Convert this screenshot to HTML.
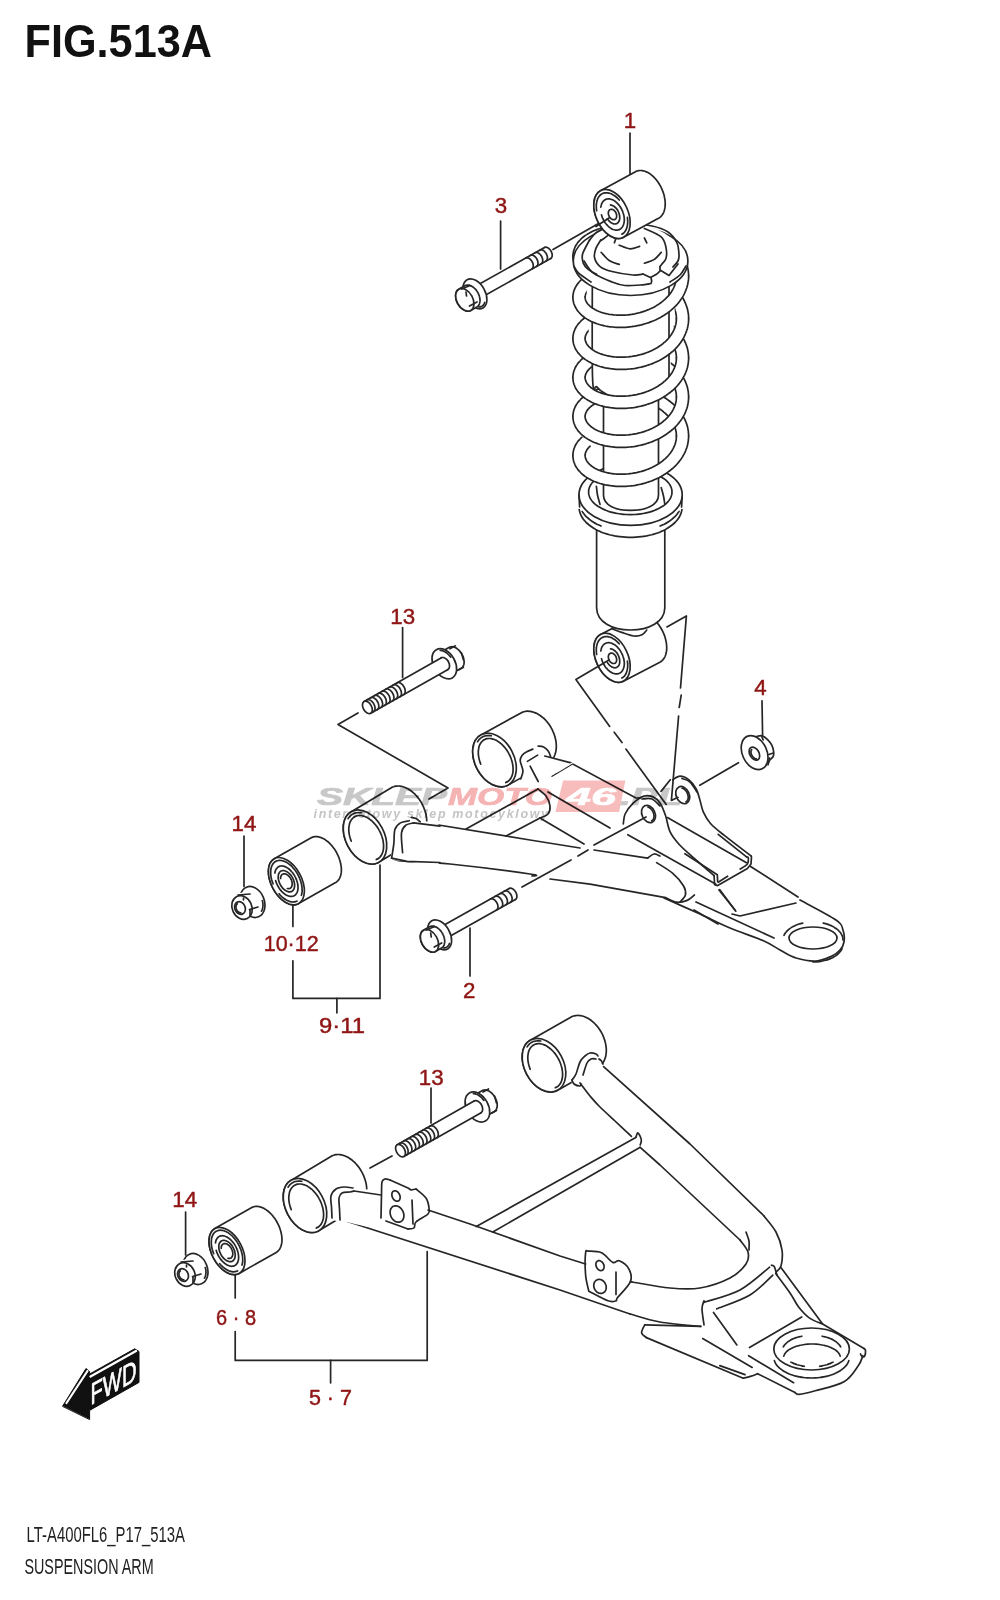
<!DOCTYPE html>
<html><head><meta charset="utf-8"><style>
html,body{margin:0;padding:0;background:#fff;}
svg{display:block;}
</style></head><body>
<svg width="1000" height="1600" viewBox="0 0 1000 1600">
<g fill="none" stroke="#262626" stroke-width="1.7" stroke-linecap="round" stroke-linejoin="round">
<text x="24.5" y="57" font-family="&quot;Liberation Sans&quot;, sans-serif" font-weight="bold" font-size="45.5" fill="#111" stroke="none" textLength="187.5" lengthAdjust="spacingAndGlyphs">FIG.513A</text>
<g font-family="&quot;Liberation Sans&quot;, sans-serif" font-size="22.3" fill="#8f1515" stroke="#8f1515" stroke-width="0.45" text-anchor="middle"><text x="630" y="128">1</text><text x="501" y="213">3</text><text x="402.7" y="623.6">13</text><text x="760.4" y="694.8">4</text><text x="244" y="831.2">14</text><text x="291.2" y="951.2" textLength="55" lengthAdjust="spacingAndGlyphs">10·12</text><text x="342" y="1032.8" textLength="46" lengthAdjust="spacingAndGlyphs">9·11</text><text x="469.3" y="997.6">2</text><text x="431.2" y="1084.6">13</text><text x="184.7" y="1207">14</text><text x="236" y="1324.6" textLength="40" lengthAdjust="spacingAndGlyphs">6 · 8</text><text x="330.4" y="1405" textLength="43" lengthAdjust="spacingAndGlyphs">5 · 7</text></g>
<g font-family="&quot;Liberation Sans&quot;, sans-serif" font-size="22" fill="#222" stroke="none"><text x="26.6" y="1542.4" textLength="158.4" lengthAdjust="spacingAndGlyphs">LT-A400FL6_P17_513A</text><text x="24.4" y="1573.6" textLength="129.2" lengthAdjust="spacingAndGlyphs">SUSPENSION ARM</text></g>
<polyline points="630.0,133.0 630.0,174.0"/>
<polyline points="500.6,221.0 500.6,269.0"/>
<polyline points="402.6,627.5 402.6,677.5"/>
<polyline points="762.0,700.8 762.6,735.6"/>
<polyline points="244.0,836.0 244.0,886.4"/>
<polyline points="292.9,904.8 292.9,926.4"/>
<polyline points="292.9,960.8 292.9,998.4 380.0,998.4 380.0,865.0"/>
<polyline points="336.9,998.4 336.9,1012.8"/>
<polyline points="470.0,928.0 470.0,976.0"/>
<polyline points="431.0,1088.0 431.0,1123.0"/>
<polyline points="185.6,1212.0 185.6,1255.0"/>
<polyline points="235.2,1274.0 235.2,1298.0"/>
<polyline points="235.2,1331.6 235.2,1360.4 427.2,1360.4 427.2,1251.6"/>
<polyline points="330.6,1360.4 330.6,1382.8"/>
<path d="M585.1,256.7 L585.1,255.9 L585.2,255.3 L585.3,254.8 L585.4,254.2 L585.6,253.6 L585.8,253.0 L586.1,252.4 L586.4,251.8 L586.7,251.1 L587.1,250.5 L587.6,249.9 L588.1,249.2 L588.7,248.6 L589.3,247.9 L590.0,247.3 L590.7,246.7 L591.5,246.0 L592.4,245.4 L593.3,244.8 L594.2,244.2 L595.2,243.6 L596.3,243.1 L597.4,242.6 L598.5,242.0 L599.7,241.5 L601.0,241.1 L602.2,240.6 L603.6,240.2 L604.9,239.8 L606.3,239.5 L607.7,239.2 L609.2,238.9 L610.7,238.6 L612.2,238.4 L613.7,238.2 L615.3,238.0 L616.9,237.9 L618.5,237.8 L620.1,237.8 L621.7,237.8 L623.4,237.8 L625.0,237.9 L626.7,238.0 L628.4,238.1 L630.0,238.3 L631.7,238.5 L633.4,238.8 L635.0,239.1 L636.7,239.4 L638.3,239.8 L640.0,240.2 L641.6,240.6 L643.2,241.1 L644.8,241.6 L646.3,242.2 L647.9,242.8 L649.4,243.4 L650.9,244.1 L652.4,244.8 L653.8,245.5 L655.2,246.2 L656.6,247.0 L657.9,247.8 L659.2,248.7 L660.5,249.5 L661.7,250.4 L662.9,251.3 L664.0,252.3 L665.1,253.2 L666.1,254.2 L667.1,255.2 L668.1,256.2 L669.0,257.2 L669.8,258.3 L670.6,259.3 L671.4,260.4 L672.1,261.5 L672.7,262.6 L673.3,263.7 L673.8,264.8 L674.3,265.9 L674.8,267.0 L675.2,268.1 L675.5,269.2 L675.8,270.4 L676.0,271.5 L676.2,272.6 L676.3,273.7 L676.4,274.9 L676.4,276.1 L688.6,275.9 L688.6,274.3 L688.4,272.6 L688.3,271.0 L688.0,269.3 L687.7,267.7 L687.3,266.0 L686.8,264.4 L686.2,262.8 L685.6,261.2 L684.9,259.6 L684.2,258.1 L683.3,256.6 L682.5,255.1 L681.5,253.6 L680.5,252.2 L679.4,250.8 L678.3,249.4 L677.1,248.0 L675.9,246.7 L674.6,245.4 L673.3,244.2 L671.9,243.0 L670.5,241.8 L669.0,240.7 L667.5,239.6 L666.0,238.5 L664.4,237.5 L662.8,236.5 L661.1,235.5 L659.4,234.6 L657.7,233.8 L656.0,233.0 L654.2,232.2 L652.4,231.4 L650.6,230.7 L648.7,230.1 L646.8,229.5 L645.0,228.9 L643.1,228.4 L641.1,227.9 L639.2,227.5 L637.3,227.1 L635.4,226.7 L633.4,226.4 L631.5,226.2 L629.5,226.0 L627.6,225.8 L625.7,225.7 L623.7,225.6 L621.8,225.6 L619.9,225.6 L618.0,225.6 L616.1,225.7 L614.2,225.9 L612.4,226.1 L610.5,226.3 L608.7,226.6 L606.9,226.9 L605.2,227.2 L603.4,227.6 L601.7,228.1 L600.1,228.5 L598.4,229.0 L596.8,229.6 L595.2,230.2 L593.7,230.8 L592.2,231.5 L590.8,232.2 L589.4,233.0 L588.0,233.7 L586.7,234.6 L585.4,235.4 L584.2,236.3 L583.0,237.2 L581.9,238.2 L580.8,239.2 L579.8,240.3 L578.8,241.3 L577.9,242.4 L577.1,243.6 L576.3,244.8 L575.6,246.0 L575.0,247.2 L574.5,248.5 L574.0,249.8 L573.6,251.1 L573.3,252.4 L573.1,253.8 L572.9,255.1 L572.9,256.3 Z" fill="#fff" stroke="none"/>
<path d="M585.1,256.7 L585.1,255.9 L585.2,255.3 L585.3,254.8 L585.4,254.2 L585.6,253.6 L585.8,253.0 L586.1,252.4 L586.4,251.8 L586.7,251.1 L587.1,250.5 L587.6,249.9 L588.1,249.2 L588.7,248.6 L589.3,247.9 L590.0,247.3 L590.7,246.7 L591.5,246.0 L592.4,245.4 L593.3,244.8 L594.2,244.2 L595.2,243.6 L596.3,243.1 L597.4,242.6 L598.5,242.0 L599.7,241.5 L601.0,241.1 L602.2,240.6 L603.6,240.2 L604.9,239.8 L606.3,239.5 L607.7,239.2 L609.2,238.9 L610.7,238.6 L612.2,238.4 L613.7,238.2 L615.3,238.0 L616.9,237.9 L618.5,237.8 L620.1,237.8 L621.7,237.8 L623.4,237.8 L625.0,237.9 L626.7,238.0 L628.4,238.1 L630.0,238.3 L631.7,238.5 L633.4,238.8 L635.0,239.1 L636.7,239.4 L638.3,239.8 L640.0,240.2 L641.6,240.6 L643.2,241.1 L644.8,241.6 L646.3,242.2 L647.9,242.8 L649.4,243.4 L650.9,244.1 L652.4,244.8 L653.8,245.5 L655.2,246.2 L656.6,247.0 L657.9,247.8 L659.2,248.7 L660.5,249.5 L661.7,250.4 L662.9,251.3 L664.0,252.3 L665.1,253.2 L666.1,254.2 L667.1,255.2 L668.1,256.2 L669.0,257.2 L669.8,258.3 L670.6,259.3 L671.4,260.4 L672.1,261.5 L672.7,262.6 L673.3,263.7 L673.8,264.8 L674.3,265.9 L674.8,267.0 L675.2,268.1 L675.5,269.2 L675.8,270.4 L676.0,271.5 L676.2,272.6 L676.3,273.7 L676.4,274.9 L676.4,276.1"/>
<path d="M572.9,256.3 L572.9,255.1 L573.1,253.8 L573.3,252.4 L573.6,251.1 L574.0,249.8 L574.5,248.5 L575.0,247.2 L575.6,246.0 L576.3,244.8 L577.1,243.6 L577.9,242.4 L578.8,241.3 L579.8,240.3 L580.8,239.2 L581.9,238.2 L583.0,237.2 L584.2,236.3 L585.4,235.4 L586.7,234.6 L588.0,233.7 L589.4,233.0 L590.8,232.2 L592.2,231.5 L593.7,230.8 L595.2,230.2 L596.8,229.6 L598.4,229.0 L600.1,228.5 L601.7,228.1 L603.4,227.6 L605.2,227.2 L606.9,226.9 L608.7,226.6 L610.5,226.3 L612.4,226.1 L614.2,225.9 L616.1,225.7 L618.0,225.6 L619.9,225.6 L621.8,225.6 L623.7,225.6 L625.7,225.7 L627.6,225.8 L629.5,226.0 L631.5,226.2 L633.4,226.4 L635.4,226.7 L637.3,227.1 L639.2,227.5 L641.1,227.9 L643.1,228.4 L645.0,228.9 L646.8,229.5 L648.7,230.1 L650.6,230.7 L652.4,231.4 L654.2,232.2 L656.0,233.0 L657.7,233.8 L659.4,234.6 L661.1,235.5 L662.8,236.5 L664.4,237.5 L666.0,238.5 L667.5,239.6 L669.0,240.7 L670.5,241.8 L671.9,243.0 L673.3,244.2 L674.6,245.4 L675.9,246.7 L677.1,248.0 L678.3,249.4 L679.4,250.8 L680.5,252.2 L681.5,253.6 L682.5,255.1 L683.3,256.6 L684.2,258.1 L684.9,259.6 L685.6,261.2 L686.2,262.8 L686.8,264.4 L687.3,266.0 L687.7,267.7 L688.0,269.3 L688.3,271.0 L688.4,272.6 L688.6,274.3 L688.6,275.9"/>
<path d="M585.1,297.5 L585.1,296.8 L585.2,296.2 L585.3,295.7 L585.4,295.1 L585.6,294.5 L585.8,293.9 L586.0,293.4 L586.3,292.8 L586.7,292.2 L587.1,291.5 L587.6,290.9 L588.1,290.3 L588.7,289.7 L589.3,289.1 L590.0,288.4 L590.7,287.8 L591.5,287.2 L592.3,286.6 L593.2,286.0 L594.2,285.5 L595.2,284.9 L596.2,284.4 L597.3,283.8 L598.5,283.3 L599.7,282.9 L600.9,282.4 L602.2,282.0 L603.5,281.6 L604.8,281.2 L606.2,280.9 L607.7,280.6 L609.1,280.3 L610.6,280.1 L612.1,279.9 L613.7,279.7 L615.2,279.6 L616.8,279.5 L618.4,279.4 L620.0,279.4 L621.7,279.4 L623.3,279.4 L625.0,279.5 L626.6,279.6 L628.3,279.8 L630.0,280.0 L631.6,280.2 L633.3,280.5 L635.0,280.8 L636.6,281.2 L638.3,281.6 L639.9,282.0 L641.5,282.5 L643.1,283.0 L644.7,283.5 L646.3,284.1 L647.8,284.7 L649.4,285.3 L650.9,286.0 L652.3,286.7 L653.8,287.4 L655.2,288.2 L656.5,289.0 L657.9,289.8 L659.2,290.7 L660.4,291.6 L661.7,292.5 L662.8,293.4 L664.0,294.4 L665.1,295.4 L666.1,296.4 L667.1,297.4 L668.1,298.4 L669.0,299.5 L669.8,300.5 L670.6,301.6 L671.4,302.7 L672.0,303.8 L672.7,304.9 L673.3,306.0 L673.8,307.1 L674.3,308.3 L674.8,309.4 L675.1,310.5 L675.5,311.7 L675.8,312.8 L676.0,314.0 L676.2,315.1 L676.3,316.3 L676.4,317.4 L676.4,318.7 L688.6,318.5 L688.6,316.9 L688.5,315.2 L688.3,313.5 L688.0,311.9 L687.7,310.2 L687.3,308.5 L686.8,306.9 L686.2,305.3 L685.6,303.7 L684.9,302.1 L684.2,300.5 L683.4,299.0 L682.5,297.5 L681.5,296.0 L680.5,294.5 L679.5,293.1 L678.4,291.7 L677.2,290.3 L676.0,289.0 L674.7,287.7 L673.4,286.4 L672.0,285.2 L670.6,284.0 L669.1,282.8 L667.6,281.7 L666.0,280.6 L664.5,279.6 L662.8,278.6 L661.2,277.6 L659.5,276.7 L657.8,275.8 L656.0,274.9 L654.2,274.1 L652.4,273.4 L650.6,272.7 L648.8,272.0 L646.9,271.4 L645.0,270.8 L643.1,270.2 L641.2,269.7 L639.3,269.3 L637.4,268.9 L635.4,268.5 L633.5,268.2 L631.5,267.9 L629.6,267.7 L627.7,267.5 L625.7,267.3 L623.8,267.2 L621.9,267.2 L620.0,267.2 L618.1,267.2 L616.2,267.3 L614.3,267.4 L612.4,267.6 L610.6,267.8 L608.8,268.0 L607.0,268.3 L605.3,268.6 L603.5,269.0 L601.8,269.4 L600.1,269.9 L598.5,270.4 L596.9,270.9 L595.3,271.5 L593.8,272.1 L592.3,272.7 L590.8,273.4 L589.4,274.1 L588.1,274.9 L586.7,275.7 L585.4,276.5 L584.2,277.4 L583.0,278.3 L581.9,279.3 L580.8,280.2 L579.8,281.3 L578.9,282.3 L578.0,283.4 L577.1,284.5 L576.4,285.7 L575.7,286.9 L575.0,288.1 L574.5,289.4 L574.0,290.6 L573.6,291.9 L573.3,293.3 L573.1,294.6 L572.9,295.9 L572.9,297.1 Z" fill="#fff" stroke="none"/>
<path d="M585.1,297.5 L585.1,296.8 L585.2,296.2 L585.3,295.7 L585.4,295.1 L585.6,294.5 L585.8,293.9 L586.0,293.4 L586.3,292.8 L586.7,292.2 L587.1,291.5 L587.6,290.9 L588.1,290.3 L588.7,289.7 L589.3,289.1 L590.0,288.4 L590.7,287.8 L591.5,287.2 L592.3,286.6 L593.2,286.0 L594.2,285.5 L595.2,284.9 L596.2,284.4 L597.3,283.8 L598.5,283.3 L599.7,282.9 L600.9,282.4 L602.2,282.0 L603.5,281.6 L604.8,281.2 L606.2,280.9 L607.7,280.6 L609.1,280.3 L610.6,280.1 L612.1,279.9 L613.7,279.7 L615.2,279.6 L616.8,279.5 L618.4,279.4 L620.0,279.4 L621.7,279.4 L623.3,279.4 L625.0,279.5 L626.6,279.6 L628.3,279.8 L630.0,280.0 L631.6,280.2 L633.3,280.5 L635.0,280.8 L636.6,281.2 L638.3,281.6 L639.9,282.0 L641.5,282.5 L643.1,283.0 L644.7,283.5 L646.3,284.1 L647.8,284.7 L649.4,285.3 L650.9,286.0 L652.3,286.7 L653.8,287.4 L655.2,288.2 L656.5,289.0 L657.9,289.8 L659.2,290.7 L660.4,291.6 L661.7,292.5 L662.8,293.4 L664.0,294.4 L665.1,295.4 L666.1,296.4 L667.1,297.4 L668.1,298.4 L669.0,299.5 L669.8,300.5 L670.6,301.6 L671.4,302.7 L672.0,303.8 L672.7,304.9 L673.3,306.0 L673.8,307.1 L674.3,308.3 L674.8,309.4 L675.1,310.5 L675.5,311.7 L675.8,312.8 L676.0,314.0 L676.2,315.1 L676.3,316.3 L676.4,317.4 L676.4,318.7"/>
<path d="M572.9,297.1 L572.9,295.9 L573.1,294.6 L573.3,293.3 L573.6,291.9 L574.0,290.6 L574.5,289.4 L575.0,288.1 L575.7,286.9 L576.4,285.7 L577.1,284.5 L578.0,283.4 L578.9,282.3 L579.8,281.3 L580.8,280.2 L581.9,279.3 L583.0,278.3 L584.2,277.4 L585.4,276.5 L586.7,275.7 L588.1,274.9 L589.4,274.1 L590.8,273.4 L592.3,272.7 L593.8,272.1 L595.3,271.5 L596.9,270.9 L598.5,270.4 L600.1,269.9 L601.8,269.4 L603.5,269.0 L605.3,268.6 L607.0,268.3 L608.8,268.0 L610.6,267.8 L612.4,267.6 L614.3,267.4 L616.2,267.3 L618.1,267.2 L620.0,267.2 L621.9,267.2 L623.8,267.2 L625.7,267.3 L627.7,267.5 L629.6,267.7 L631.5,267.9 L633.5,268.2 L635.4,268.5 L637.4,268.9 L639.3,269.3 L641.2,269.7 L643.1,270.2 L645.0,270.8 L646.9,271.4 L648.8,272.0 L650.6,272.7 L652.4,273.4 L654.2,274.1 L656.0,274.9 L657.8,275.8 L659.5,276.7 L661.2,277.6 L662.8,278.6 L664.5,279.6 L666.0,280.6 L667.6,281.7 L669.1,282.8 L670.6,284.0 L672.0,285.2 L673.4,286.4 L674.7,287.7 L676.0,289.0 L677.2,290.3 L678.4,291.7 L679.5,293.1 L680.5,294.5 L681.5,296.0 L682.5,297.5 L683.4,299.0 L684.2,300.5 L684.9,302.1 L685.6,303.7 L686.2,305.3 L686.8,306.9 L687.3,308.5 L687.7,310.2 L688.0,311.9 L688.3,313.5 L688.5,315.2 L688.6,316.9 L688.6,318.5"/>
<path d="M585.1,338.7 L585.1,337.9 L585.2,337.3 L585.3,336.8 L585.4,336.2 L585.6,335.6 L585.8,335.0 L586.1,334.4 L586.4,333.8 L586.7,333.1 L587.1,332.5 L587.6,331.9 L588.1,331.2 L588.7,330.6 L589.3,329.9 L590.0,329.3 L590.7,328.7 L591.5,328.0 L592.4,327.4 L593.3,326.8 L594.2,326.2 L595.2,325.6 L596.3,325.1 L597.4,324.6 L598.5,324.0 L599.7,323.5 L601.0,323.1 L602.2,322.6 L603.6,322.2 L604.9,321.8 L606.3,321.5 L607.7,321.2 L609.2,320.9 L610.7,320.6 L612.2,320.4 L613.7,320.2 L615.3,320.0 L616.9,319.9 L618.5,319.8 L620.1,319.8 L621.7,319.8 L623.4,319.8 L625.0,319.9 L626.7,320.0 L628.4,320.1 L630.0,320.3 L631.7,320.5 L633.4,320.8 L635.0,321.1 L636.7,321.4 L638.3,321.8 L640.0,322.2 L641.6,322.6 L643.2,323.1 L644.8,323.6 L646.3,324.2 L647.9,324.8 L649.4,325.4 L650.9,326.1 L652.4,326.8 L653.8,327.5 L655.2,328.2 L656.6,329.0 L657.9,329.8 L659.2,330.7 L660.5,331.5 L661.7,332.4 L662.9,333.3 L664.0,334.3 L665.1,335.2 L666.1,336.2 L667.1,337.2 L668.1,338.2 L669.0,339.2 L669.8,340.3 L670.6,341.3 L671.4,342.4 L672.1,343.5 L672.7,344.6 L673.3,345.7 L673.8,346.8 L674.3,347.9 L674.8,349.0 L675.2,350.1 L675.5,351.2 L675.8,352.4 L676.0,353.5 L676.2,354.6 L676.3,355.7 L676.4,356.9 L676.4,358.1 L688.6,357.9 L688.6,356.3 L688.4,354.6 L688.3,353.0 L688.0,351.3 L687.7,349.7 L687.3,348.0 L686.8,346.4 L686.2,344.8 L685.6,343.2 L684.9,341.6 L684.2,340.1 L683.3,338.6 L682.5,337.1 L681.5,335.6 L680.5,334.2 L679.4,332.8 L678.3,331.4 L677.1,330.0 L675.9,328.7 L674.6,327.4 L673.3,326.2 L671.9,325.0 L670.5,323.8 L669.0,322.7 L667.5,321.6 L666.0,320.5 L664.4,319.5 L662.8,318.5 L661.1,317.5 L659.4,316.6 L657.7,315.8 L656.0,315.0 L654.2,314.2 L652.4,313.4 L650.6,312.7 L648.7,312.1 L646.8,311.5 L645.0,310.9 L643.1,310.4 L641.1,309.9 L639.2,309.5 L637.3,309.1 L635.4,308.7 L633.4,308.4 L631.5,308.2 L629.5,308.0 L627.6,307.8 L625.7,307.7 L623.7,307.6 L621.8,307.6 L619.9,307.6 L618.0,307.6 L616.1,307.7 L614.2,307.9 L612.4,308.1 L610.5,308.3 L608.7,308.6 L606.9,308.9 L605.2,309.2 L603.4,309.6 L601.7,310.1 L600.1,310.5 L598.4,311.0 L596.8,311.6 L595.2,312.2 L593.7,312.8 L592.2,313.5 L590.8,314.2 L589.4,315.0 L588.0,315.7 L586.7,316.6 L585.4,317.4 L584.2,318.3 L583.0,319.2 L581.9,320.2 L580.8,321.2 L579.8,322.3 L578.8,323.3 L577.9,324.4 L577.1,325.6 L576.3,326.8 L575.6,328.0 L575.0,329.2 L574.5,330.5 L574.0,331.8 L573.6,333.1 L573.3,334.4 L573.1,335.8 L572.9,337.1 L572.9,338.3 Z" fill="#fff" stroke="none"/>
<path d="M585.1,338.7 L585.1,337.9 L585.2,337.3 L585.3,336.8 L585.4,336.2 L585.6,335.6 L585.8,335.0 L586.1,334.4 L586.4,333.8 L586.7,333.1 L587.1,332.5 L587.6,331.9 L588.1,331.2 L588.7,330.6 L589.3,329.9 L590.0,329.3 L590.7,328.7 L591.5,328.0 L592.4,327.4 L593.3,326.8 L594.2,326.2 L595.2,325.6 L596.3,325.1 L597.4,324.6 L598.5,324.0 L599.7,323.5 L601.0,323.1 L602.2,322.6 L603.6,322.2 L604.9,321.8 L606.3,321.5 L607.7,321.2 L609.2,320.9 L610.7,320.6 L612.2,320.4 L613.7,320.2 L615.3,320.0 L616.9,319.9 L618.5,319.8 L620.1,319.8 L621.7,319.8 L623.4,319.8 L625.0,319.9 L626.7,320.0 L628.4,320.1 L630.0,320.3 L631.7,320.5 L633.4,320.8 L635.0,321.1 L636.7,321.4 L638.3,321.8 L640.0,322.2 L641.6,322.6 L643.2,323.1 L644.8,323.6 L646.3,324.2 L647.9,324.8 L649.4,325.4 L650.9,326.1 L652.4,326.8 L653.8,327.5 L655.2,328.2 L656.6,329.0 L657.9,329.8 L659.2,330.7 L660.5,331.5 L661.7,332.4 L662.9,333.3 L664.0,334.3 L665.1,335.2 L666.1,336.2 L667.1,337.2 L668.1,338.2 L669.0,339.2 L669.8,340.3 L670.6,341.3 L671.4,342.4 L672.1,343.5 L672.7,344.6 L673.3,345.7 L673.8,346.8 L674.3,347.9 L674.8,349.0 L675.2,350.1 L675.5,351.2 L675.8,352.4 L676.0,353.5 L676.2,354.6 L676.3,355.7 L676.4,356.9 L676.4,358.1"/>
<path d="M572.9,338.3 L572.9,337.1 L573.1,335.8 L573.3,334.4 L573.6,333.1 L574.0,331.8 L574.5,330.5 L575.0,329.2 L575.6,328.0 L576.3,326.8 L577.1,325.6 L577.9,324.4 L578.8,323.3 L579.8,322.3 L580.8,321.2 L581.9,320.2 L583.0,319.2 L584.2,318.3 L585.4,317.4 L586.7,316.6 L588.0,315.7 L589.4,315.0 L590.8,314.2 L592.2,313.5 L593.7,312.8 L595.2,312.2 L596.8,311.6 L598.4,311.0 L600.1,310.5 L601.7,310.1 L603.4,309.6 L605.2,309.2 L606.9,308.9 L608.7,308.6 L610.5,308.3 L612.4,308.1 L614.2,307.9 L616.1,307.7 L618.0,307.6 L619.9,307.6 L621.8,307.6 L623.7,307.6 L625.7,307.7 L627.6,307.8 L629.5,308.0 L631.5,308.2 L633.4,308.4 L635.4,308.7 L637.3,309.1 L639.2,309.5 L641.1,309.9 L643.1,310.4 L645.0,310.9 L646.8,311.5 L648.7,312.1 L650.6,312.7 L652.4,313.4 L654.2,314.2 L656.0,315.0 L657.7,315.8 L659.4,316.6 L661.1,317.5 L662.8,318.5 L664.4,319.5 L666.0,320.5 L667.5,321.6 L669.0,322.7 L670.5,323.8 L671.9,325.0 L673.3,326.2 L674.6,327.4 L675.9,328.7 L677.1,330.0 L678.3,331.4 L679.4,332.8 L680.5,334.2 L681.5,335.6 L682.5,337.1 L683.3,338.6 L684.2,340.1 L684.9,341.6 L685.6,343.2 L686.2,344.8 L686.8,346.4 L687.3,348.0 L687.7,349.7 L688.0,351.3 L688.3,353.0 L688.4,354.6 L688.6,356.3 L688.6,357.9"/>
<path d="M585.1,377.7 L585.1,376.9 L585.2,376.3 L585.3,375.8 L585.4,375.2 L585.6,374.6 L585.8,374.0 L586.1,373.4 L586.4,372.8 L586.7,372.1 L587.1,371.5 L587.6,370.9 L588.1,370.2 L588.7,369.6 L589.3,368.9 L590.0,368.3 L590.7,367.7 L591.5,367.0 L592.4,366.4 L593.3,365.8 L594.2,365.2 L595.2,364.6 L596.3,364.1 L597.4,363.6 L598.5,363.0 L599.7,362.5 L601.0,362.1 L602.2,361.6 L603.6,361.2 L604.9,360.8 L606.3,360.5 L607.7,360.2 L609.2,359.9 L610.7,359.6 L612.2,359.4 L613.7,359.2 L615.3,359.0 L616.9,358.9 L618.5,358.8 L620.1,358.8 L621.7,358.8 L623.4,358.8 L625.0,358.9 L626.7,359.0 L628.4,359.1 L630.0,359.3 L631.7,359.5 L633.4,359.8 L635.0,360.1 L636.7,360.4 L638.3,360.8 L640.0,361.2 L641.6,361.6 L643.2,362.1 L644.8,362.6 L646.3,363.2 L647.9,363.8 L649.4,364.4 L650.9,365.1 L652.4,365.8 L653.8,366.5 L655.2,367.2 L656.6,368.0 L657.9,368.8 L659.2,369.7 L660.5,370.5 L661.7,371.4 L662.9,372.3 L664.0,373.3 L665.1,374.2 L666.1,375.2 L667.1,376.2 L668.1,377.2 L669.0,378.2 L669.8,379.3 L670.6,380.3 L671.4,381.4 L672.1,382.5 L672.7,383.6 L673.3,384.7 L673.8,385.8 L674.3,386.9 L674.8,388.0 L675.2,389.1 L675.5,390.2 L675.8,391.4 L676.0,392.5 L676.2,393.6 L676.3,394.7 L676.4,395.9 L676.4,397.1 L688.6,396.9 L688.6,395.3 L688.4,393.6 L688.3,392.0 L688.0,390.3 L687.7,388.7 L687.3,387.0 L686.8,385.4 L686.2,383.8 L685.6,382.2 L684.9,380.6 L684.2,379.1 L683.3,377.6 L682.5,376.1 L681.5,374.6 L680.5,373.2 L679.4,371.8 L678.3,370.4 L677.1,369.0 L675.9,367.7 L674.6,366.4 L673.3,365.2 L671.9,364.0 L670.5,362.8 L669.0,361.7 L667.5,360.6 L666.0,359.5 L664.4,358.5 L662.8,357.5 L661.1,356.5 L659.4,355.6 L657.7,354.8 L656.0,354.0 L654.2,353.2 L652.4,352.4 L650.6,351.7 L648.7,351.1 L646.8,350.5 L645.0,349.9 L643.1,349.4 L641.1,348.9 L639.2,348.5 L637.3,348.1 L635.4,347.7 L633.4,347.4 L631.5,347.2 L629.5,347.0 L627.6,346.8 L625.7,346.7 L623.7,346.6 L621.8,346.6 L619.9,346.6 L618.0,346.6 L616.1,346.7 L614.2,346.9 L612.4,347.1 L610.5,347.3 L608.7,347.6 L606.9,347.9 L605.2,348.2 L603.4,348.6 L601.7,349.1 L600.1,349.5 L598.4,350.0 L596.8,350.6 L595.2,351.2 L593.7,351.8 L592.2,352.5 L590.8,353.2 L589.4,354.0 L588.0,354.7 L586.7,355.6 L585.4,356.4 L584.2,357.3 L583.0,358.2 L581.9,359.2 L580.8,360.2 L579.8,361.3 L578.8,362.3 L577.9,363.4 L577.1,364.6 L576.3,365.8 L575.6,367.0 L575.0,368.2 L574.5,369.5 L574.0,370.8 L573.6,372.1 L573.3,373.4 L573.1,374.8 L572.9,376.1 L572.9,377.3 Z" fill="#fff" stroke="none"/>
<path d="M585.1,377.7 L585.1,376.9 L585.2,376.3 L585.3,375.8 L585.4,375.2 L585.6,374.6 L585.8,374.0 L586.1,373.4 L586.4,372.8 L586.7,372.1 L587.1,371.5 L587.6,370.9 L588.1,370.2 L588.7,369.6 L589.3,368.9 L590.0,368.3 L590.7,367.7 L591.5,367.0 L592.4,366.4 L593.3,365.8 L594.2,365.2 L595.2,364.6 L596.3,364.1 L597.4,363.6 L598.5,363.0 L599.7,362.5 L601.0,362.1 L602.2,361.6 L603.6,361.2 L604.9,360.8 L606.3,360.5 L607.7,360.2 L609.2,359.9 L610.7,359.6 L612.2,359.4 L613.7,359.2 L615.3,359.0 L616.9,358.9 L618.5,358.8 L620.1,358.8 L621.7,358.8 L623.4,358.8 L625.0,358.9 L626.7,359.0 L628.4,359.1 L630.0,359.3 L631.7,359.5 L633.4,359.8 L635.0,360.1 L636.7,360.4 L638.3,360.8 L640.0,361.2 L641.6,361.6 L643.2,362.1 L644.8,362.6 L646.3,363.2 L647.9,363.8 L649.4,364.4 L650.9,365.1 L652.4,365.8 L653.8,366.5 L655.2,367.2 L656.6,368.0 L657.9,368.8 L659.2,369.7 L660.5,370.5 L661.7,371.4 L662.9,372.3 L664.0,373.3 L665.1,374.2 L666.1,375.2 L667.1,376.2 L668.1,377.2 L669.0,378.2 L669.8,379.3 L670.6,380.3 L671.4,381.4 L672.1,382.5 L672.7,383.6 L673.3,384.7 L673.8,385.8 L674.3,386.9 L674.8,388.0 L675.2,389.1 L675.5,390.2 L675.8,391.4 L676.0,392.5 L676.2,393.6 L676.3,394.7 L676.4,395.9 L676.4,397.1"/>
<path d="M572.9,377.3 L572.9,376.1 L573.1,374.8 L573.3,373.4 L573.6,372.1 L574.0,370.8 L574.5,369.5 L575.0,368.2 L575.6,367.0 L576.3,365.8 L577.1,364.6 L577.9,363.4 L578.8,362.3 L579.8,361.3 L580.8,360.2 L581.9,359.2 L583.0,358.2 L584.2,357.3 L585.4,356.4 L586.7,355.6 L588.0,354.7 L589.4,354.0 L590.8,353.2 L592.2,352.5 L593.7,351.8 L595.2,351.2 L596.8,350.6 L598.4,350.0 L600.1,349.5 L601.7,349.1 L603.4,348.6 L605.2,348.2 L606.9,347.9 L608.7,347.6 L610.5,347.3 L612.4,347.1 L614.2,346.9 L616.1,346.7 L618.0,346.6 L619.9,346.6 L621.8,346.6 L623.7,346.6 L625.7,346.7 L627.6,346.8 L629.5,347.0 L631.5,347.2 L633.4,347.4 L635.4,347.7 L637.3,348.1 L639.2,348.5 L641.1,348.9 L643.1,349.4 L645.0,349.9 L646.8,350.5 L648.7,351.1 L650.6,351.7 L652.4,352.4 L654.2,353.2 L656.0,354.0 L657.7,354.8 L659.4,355.6 L661.1,356.5 L662.8,357.5 L664.4,358.5 L666.0,359.5 L667.5,360.6 L669.0,361.7 L670.5,362.8 L671.9,364.0 L673.3,365.2 L674.6,366.4 L675.9,367.7 L677.1,369.0 L678.3,370.4 L679.4,371.8 L680.5,373.2 L681.5,374.6 L682.5,376.1 L683.3,377.6 L684.2,379.1 L684.9,380.6 L685.6,382.2 L686.2,383.8 L686.8,385.4 L687.3,387.0 L687.7,388.7 L688.0,390.3 L688.3,392.0 L688.4,393.6 L688.6,395.3 L688.6,396.9"/>
<path d="M585.1,416.7 L585.1,415.9 L585.2,415.3 L585.3,414.8 L585.4,414.2 L585.6,413.6 L585.8,413.0 L586.1,412.4 L586.4,411.8 L586.7,411.1 L587.1,410.5 L587.6,409.9 L588.1,409.2 L588.7,408.6 L589.3,407.9 L590.0,407.3 L590.7,406.7 L591.5,406.0 L592.4,405.4 L593.3,404.8 L594.2,404.2 L595.2,403.6 L596.3,403.1 L597.4,402.6 L598.5,402.0 L599.7,401.5 L601.0,401.1 L602.2,400.6 L603.6,400.2 L604.9,399.8 L606.3,399.5 L607.7,399.2 L609.2,398.9 L610.7,398.6 L612.2,398.4 L613.7,398.2 L615.3,398.0 L616.9,397.9 L618.5,397.8 L620.1,397.8 L621.7,397.8 L623.4,397.8 L625.0,397.9 L626.7,398.0 L628.4,398.1 L630.0,398.3 L631.7,398.5 L633.4,398.8 L635.0,399.1 L636.7,399.4 L638.3,399.8 L640.0,400.2 L641.6,400.6 L643.2,401.1 L644.8,401.6 L646.3,402.2 L647.9,402.8 L649.4,403.4 L650.9,404.1 L652.4,404.8 L653.8,405.5 L655.2,406.2 L656.6,407.0 L657.9,407.8 L659.2,408.7 L660.5,409.5 L661.7,410.4 L662.9,411.3 L664.0,412.3 L665.1,413.2 L666.1,414.2 L667.1,415.2 L668.1,416.2 L669.0,417.2 L669.8,418.3 L670.6,419.3 L671.4,420.4 L672.1,421.5 L672.7,422.6 L673.3,423.7 L673.8,424.8 L674.3,425.9 L674.8,427.0 L675.2,428.1 L675.5,429.2 L675.8,430.4 L676.0,431.5 L676.2,432.6 L676.3,433.7 L676.4,434.9 L676.4,436.1 L688.6,435.9 L688.6,434.3 L688.4,432.6 L688.3,431.0 L688.0,429.3 L687.7,427.7 L687.3,426.0 L686.8,424.4 L686.2,422.8 L685.6,421.2 L684.9,419.6 L684.2,418.1 L683.3,416.6 L682.5,415.1 L681.5,413.6 L680.5,412.2 L679.4,410.8 L678.3,409.4 L677.1,408.0 L675.9,406.7 L674.6,405.4 L673.3,404.2 L671.9,403.0 L670.5,401.8 L669.0,400.7 L667.5,399.6 L666.0,398.5 L664.4,397.5 L662.8,396.5 L661.1,395.5 L659.4,394.6 L657.7,393.8 L656.0,393.0 L654.2,392.2 L652.4,391.4 L650.6,390.7 L648.7,390.1 L646.8,389.5 L645.0,388.9 L643.1,388.4 L641.1,387.9 L639.2,387.5 L637.3,387.1 L635.4,386.7 L633.4,386.4 L631.5,386.2 L629.5,386.0 L627.6,385.8 L625.7,385.7 L623.7,385.6 L621.8,385.6 L619.9,385.6 L618.0,385.6 L616.1,385.7 L614.2,385.9 L612.4,386.1 L610.5,386.3 L608.7,386.6 L606.9,386.9 L605.2,387.2 L603.4,387.6 L601.7,388.1 L600.1,388.5 L598.4,389.0 L596.8,389.6 L595.2,390.2 L593.7,390.8 L592.2,391.5 L590.8,392.2 L589.4,393.0 L588.0,393.7 L586.7,394.6 L585.4,395.4 L584.2,396.3 L583.0,397.2 L581.9,398.2 L580.8,399.2 L579.8,400.3 L578.8,401.3 L577.9,402.4 L577.1,403.6 L576.3,404.8 L575.6,406.0 L575.0,407.2 L574.5,408.5 L574.0,409.8 L573.6,411.1 L573.3,412.4 L573.1,413.8 L572.9,415.1 L572.9,416.3 Z" fill="#fff" stroke="none"/>
<path d="M585.1,416.7 L585.1,415.9 L585.2,415.3 L585.3,414.8 L585.4,414.2 L585.6,413.6 L585.8,413.0 L586.1,412.4 L586.4,411.8 L586.7,411.1 L587.1,410.5 L587.6,409.9 L588.1,409.2 L588.7,408.6 L589.3,407.9 L590.0,407.3 L590.7,406.7 L591.5,406.0 L592.4,405.4 L593.3,404.8 L594.2,404.2 L595.2,403.6 L596.3,403.1 L597.4,402.6 L598.5,402.0 L599.7,401.5 L601.0,401.1 L602.2,400.6 L603.6,400.2 L604.9,399.8 L606.3,399.5 L607.7,399.2 L609.2,398.9 L610.7,398.6 L612.2,398.4 L613.7,398.2 L615.3,398.0 L616.9,397.9 L618.5,397.8 L620.1,397.8 L621.7,397.8 L623.4,397.8 L625.0,397.9 L626.7,398.0 L628.4,398.1 L630.0,398.3 L631.7,398.5 L633.4,398.8 L635.0,399.1 L636.7,399.4 L638.3,399.8 L640.0,400.2 L641.6,400.6 L643.2,401.1 L644.8,401.6 L646.3,402.2 L647.9,402.8 L649.4,403.4 L650.9,404.1 L652.4,404.8 L653.8,405.5 L655.2,406.2 L656.6,407.0 L657.9,407.8 L659.2,408.7 L660.5,409.5 L661.7,410.4 L662.9,411.3 L664.0,412.3 L665.1,413.2 L666.1,414.2 L667.1,415.2 L668.1,416.2 L669.0,417.2 L669.8,418.3 L670.6,419.3 L671.4,420.4 L672.1,421.5 L672.7,422.6 L673.3,423.7 L673.8,424.8 L674.3,425.9 L674.8,427.0 L675.2,428.1 L675.5,429.2 L675.8,430.4 L676.0,431.5 L676.2,432.6 L676.3,433.7 L676.4,434.9 L676.4,436.1"/>
<path d="M572.9,416.3 L572.9,415.1 L573.1,413.8 L573.3,412.4 L573.6,411.1 L574.0,409.8 L574.5,408.5 L575.0,407.2 L575.6,406.0 L576.3,404.8 L577.1,403.6 L577.9,402.4 L578.8,401.3 L579.8,400.3 L580.8,399.2 L581.9,398.2 L583.0,397.2 L584.2,396.3 L585.4,395.4 L586.7,394.6 L588.0,393.7 L589.4,393.0 L590.8,392.2 L592.2,391.5 L593.7,390.8 L595.2,390.2 L596.8,389.6 L598.4,389.0 L600.1,388.5 L601.7,388.1 L603.4,387.6 L605.2,387.2 L606.9,386.9 L608.7,386.6 L610.5,386.3 L612.4,386.1 L614.2,385.9 L616.1,385.7 L618.0,385.6 L619.9,385.6 L621.8,385.6 L623.7,385.6 L625.7,385.7 L627.6,385.8 L629.5,386.0 L631.5,386.2 L633.4,386.4 L635.4,386.7 L637.3,387.1 L639.2,387.5 L641.1,387.9 L643.1,388.4 L645.0,388.9 L646.8,389.5 L648.7,390.1 L650.6,390.7 L652.4,391.4 L654.2,392.2 L656.0,393.0 L657.7,393.8 L659.4,394.6 L661.1,395.5 L662.8,396.5 L664.4,397.5 L666.0,398.5 L667.5,399.6 L669.0,400.7 L670.5,401.8 L671.9,403.0 L673.3,404.2 L674.6,405.4 L675.9,406.7 L677.1,408.0 L678.3,409.4 L679.4,410.8 L680.5,412.2 L681.5,413.6 L682.5,415.1 L683.3,416.6 L684.2,418.1 L684.9,419.6 L685.6,421.2 L686.2,422.8 L686.8,424.4 L687.3,426.0 L687.7,427.7 L688.0,429.3 L688.3,431.0 L688.4,432.6 L688.6,434.3 L688.6,435.9"/>
<path d="M585.1,455.7 L585.1,454.9 L585.2,454.3 L585.3,453.8 L585.4,453.2 L585.6,452.6 L585.8,452.0 L586.1,451.4 L586.4,450.8 L586.7,450.1 L587.1,449.5 L587.6,448.9 L588.1,448.2 L588.7,447.6 L589.3,446.9 L590.1,446.2 L581.8,437.3 L580.8,438.2 L579.8,439.3 L578.8,440.3 L577.9,441.4 L577.1,442.6 L576.3,443.8 L575.6,445.0 L575.0,446.2 L574.5,447.5 L574.0,448.8 L573.6,450.1 L573.3,451.4 L573.1,452.8 L572.9,454.1 L572.9,455.3 Z" fill="#fff" stroke="none"/>
<path d="M585.1,455.7 L585.1,454.9 L585.2,454.3 L585.3,453.8 L585.4,453.2 L585.6,452.6 L585.8,452.0 L586.1,451.4 L586.4,450.8 L586.7,450.1 L587.1,449.5 L587.6,448.9 L588.1,448.2 L588.7,447.6 L589.3,446.9 L590.1,446.2"/>
<path d="M572.9,455.3 L572.9,454.1 L573.1,452.8 L573.3,451.4 L573.6,450.1 L574.0,448.8 L574.5,447.5 L575.0,446.2 L575.6,445.0 L576.3,443.8 L577.1,442.6 L577.9,441.4 L578.8,440.3 L579.8,439.3 L580.8,438.2 L581.8,437.3"/>
<path d="M623.4,681.2 L622.6,681.5 L621.8,681.8 L621.0,682.0 L620.2,682.2 L619.3,682.3 L618.4,682.3 L617.5,682.3 L616.6,682.2 L615.7,682.0 L614.7,681.7 L613.8,681.4 L612.9,681.1 L611.9,680.6 L611.0,680.1 L610.0,679.6 L609.1,678.9 L608.1,678.3 L607.2,677.5 L606.3,676.7 L605.4,675.9 L604.5,675.0 L603.7,674.1 L602.8,673.1 L602.0,672.1 L601.2,671.0 L600.5,669.9 L599.8,668.8 L599.1,667.6 L598.4,666.4 L597.8,665.2 L597.2,664.0 L596.7,662.7 L596.2,661.4 L595.7,660.2 L595.3,658.9 L595.0,657.6 L594.7,656.3 L594.4,655.0 L594.2,653.8 L594.0,652.5 L593.9,651.3 L593.8,650.0 L593.8,648.8 L593.8,647.7 L593.9,646.5 L594.0,645.4 L594.2,644.3 L594.5,643.2 L594.7,642.2 L595.0,641.3 L595.4,640.3 L595.8,639.5 L596.3,638.6 L596.8,637.9 L597.3,637.1 L597.9,636.5 L598.5,635.9 L599.2,635.3 L599.9,634.8 L600.6,634.4 L637.1,615.4 L637.9,615.1 L638.7,614.8 L639.5,614.6 L640.3,614.4 L641.2,614.3 L642.1,614.3 L643.0,614.3 L643.9,614.4 L644.8,614.6 L645.8,614.9 L646.7,615.2 L647.6,615.5 L648.6,616.0 L649.5,616.5 L650.5,617.0 L651.4,617.7 L652.4,618.3 L653.3,619.1 L654.2,619.9 L655.1,620.7 L656.0,621.6 L656.8,622.5 L657.7,623.5 L658.5,624.5 L659.3,625.6 L660.0,626.7 L660.7,627.8 L661.4,629.0 L662.1,630.2 L662.7,631.4 L663.3,632.6 L663.8,633.9 L664.3,635.2 L664.8,636.4 L665.2,637.7 L665.5,639.0 L665.8,640.3 L666.1,641.6 L666.3,642.8 L666.5,644.1 L666.6,645.3 L666.7,646.6 L666.7,647.8 L666.7,648.9 L666.6,650.1 L666.5,651.2 L666.3,652.3 L666.0,653.4 L665.8,654.4 L665.5,655.3 L665.1,656.3 L664.7,657.1 L664.2,658.0 L663.7,658.7 L663.2,659.5 L662.6,660.1 L662.0,660.7 L661.3,661.3 L660.6,661.8 L659.9,662.2 Z" fill="#fff"/>
<ellipse cx="612.0" cy="657.8" rx="16" ry="26" transform="rotate(-25 612.0 657.8)" fill="#fff"/>
<path d="M596.6,654.5 C596.6,654.1 596.4,653.0 596.4,652.2 C596.3,651.5 596.3,650.8 596.3,650.1 C596.3,649.3 596.3,648.6 596.4,648.0 C596.4,647.3 596.5,646.6 596.7,646.0 C596.8,645.4 596.9,644.8 597.1,644.2 C597.3,643.6 597.5,643.0 597.7,642.5 C598.0,642.0 598.3,641.5 598.5,641.0 C598.8,640.5 599.2,640.1 599.5,639.7 C599.8,639.3 600.2,638.9 600.6,638.6 C601.0,638.3 601.4,638.0 601.8,637.8 C602.3,637.5 602.7,637.3 603.2,637.1 C603.6,637.0 604.1,636.8 604.6,636.7 C605.1,636.6 605.6,636.6 606.2,636.6 C606.7,636.6 607.2,636.6 607.8,636.7 C608.3,636.8 608.9,636.9 609.4,637.0 C610.0,637.2 610.6,637.4 611.1,637.6 C611.7,637.9 612.3,638.2 612.8,638.5 C613.4,638.8 613.9,639.1 614.5,639.5 C615.1,639.9 615.6,640.3 616.2,640.8 C616.7,641.2 617.2,641.7 617.8,642.3 C618.3,642.8 619.1,643.6 619.3,643.9"/>
<path d="M627.4,661.1 C627.4,661.5 627.6,662.7 627.6,663.4 C627.7,664.2 627.7,664.9 627.7,665.6 C627.7,666.3 627.7,667.1 627.6,667.7 C627.5,668.4 627.4,669.1 627.3,669.7 C627.2,670.4 627.0,671.0 626.8,671.6 C626.6,672.2 626.4,672.7 626.2,673.3 C625.9,673.8 625.6,674.3 625.3,674.8 C625.0,675.2 624.7,675.7 624.4,676.1 C624.0,676.5 623.6,676.8 623.2,677.1 C622.8,677.5 622.2,677.8 621.9,678.0"/>
<path d="M600.8,650.9 C600.9,650.6 601.0,649.9 601.1,649.5 C601.2,649.0 601.3,648.6 601.5,648.2 C601.6,647.8 601.8,647.4 602.0,647.0 C602.2,646.6 602.4,646.3 602.6,645.9 C602.8,645.6 603.0,645.3 603.3,645.0 C603.6,644.7 603.8,644.5 604.1,644.2 C604.4,644.0 604.7,643.8 605.0,643.6 C605.4,643.4 605.7,643.3 606.0,643.1 C606.4,643.0 606.7,642.9 607.1,642.8 C607.5,642.8 607.8,642.7 608.2,642.7 C608.6,642.7 609.0,642.7 609.4,642.7 C609.8,642.8 610.2,642.9 610.6,643.0 C611.0,643.1 611.4,643.2 611.8,643.3 C612.2,643.5 612.7,643.7 613.1,643.9 C613.5,644.1 613.9,644.3 614.3,644.6 C614.7,644.8 615.1,645.1 615.5,645.4 C615.9,645.7 616.3,646.1 616.7,646.4 C617.1,646.8 617.4,647.2 617.8,647.6 C618.2,648.0 618.5,648.4 618.9,648.8 C619.2,649.2 619.6,649.7 619.9,650.1 C620.2,650.6 620.5,651.1 620.8,651.6 C621.1,652.1 621.4,652.6 621.6,653.1 C621.9,653.6 622.1,654.1 622.4,654.7 C622.6,655.2 622.8,655.7 623.0,656.3 C623.2,656.8 623.3,657.3 623.5,657.9 C623.6,658.4 623.8,659.0 623.9,659.5 C624.0,660.1 624.1,660.6 624.1,661.1 C624.2,661.7 624.3,662.2 624.3,662.7 C624.3,663.2 624.3,663.8 624.3,664.3 C624.3,664.8 624.2,665.3 624.2,665.7 C624.1,666.2 624.0,666.7 623.9,667.1 C623.8,667.6 623.7,668.0 623.5,668.4 C623.4,668.8 623.2,669.2 623.0,669.6 C622.8,670.0 622.6,670.3 622.4,670.7 C622.2,671.0 622.0,671.3 621.7,671.6 C621.4,671.9 621.2,672.1 620.9,672.4 C620.6,672.6 620.3,672.8 620.0,673.0 C619.6,673.2 619.3,673.3 619.0,673.5 C618.6,673.6 618.3,673.7 617.9,673.8 C617.5,673.8 617.2,673.9 616.8,673.9 C616.4,673.9 616.0,673.9 615.6,673.9 C615.2,673.8 614.8,673.7 614.4,673.6 C614.0,673.5 613.6,673.4 613.2,673.3 C612.8,673.1 612.3,672.9 611.9,672.7 C611.5,672.5 611.1,672.3 610.7,672.0 C610.3,671.8 609.9,671.5 609.5,671.2 C609.1,670.9 608.7,670.5 608.3,670.2 C607.9,669.8 607.6,669.4 607.2,669.0 C606.8,668.6 606.5,668.2 606.1,667.8 C605.8,667.4 605.4,666.9 605.1,666.5 C604.8,666.0 604.5,665.5 604.2,665.0 C603.9,664.5 603.6,664.0 603.4,663.5 C603.1,663.0 602.9,662.5 602.6,661.9 C602.4,661.4 602.2,660.9 602.0,660.3 C601.8,659.8 601.6,659.0 601.5,658.7"/>
<path d="M610.5,648.8 C610.7,648.9 611.0,648.9 611.3,648.9 C611.5,649.0 611.8,649.1 612.0,649.2 C612.3,649.2 612.5,649.3 612.8,649.5 C613.0,649.6 613.3,649.7 613.6,649.9 C613.8,650.0 614.1,650.2 614.3,650.4 C614.5,650.6 614.8,650.7 615.0,651.0 C615.3,651.2 615.5,651.4 615.7,651.6 C615.9,651.9 616.2,652.1 616.4,652.4 C616.6,652.6 616.8,652.9 617.0,653.2 C617.2,653.4 617.4,653.7 617.6,654.0 C617.7,654.3 617.9,654.6 618.1,654.9 C618.2,655.2 618.4,655.6 618.5,655.9 C618.7,656.2 618.8,656.5 618.9,656.8 C619.0,657.2 619.1,657.5 619.2,657.8 C619.3,658.2 619.4,658.5 619.5,658.8 C619.5,659.1 619.6,659.5 619.6,659.8 C619.7,660.1 619.7,660.5 619.7,660.8 C619.8,661.1 619.8,661.4 619.7,661.7 C619.7,662.0 619.7,662.3 619.7,662.6 C619.6,662.9 619.6,663.2 619.5,663.5 C619.5,663.8 619.4,664.0 619.3,664.3 C619.2,664.5 619.1,664.8 619.0,665.0 C618.9,665.2 618.8,665.5 618.6,665.7 C618.5,665.9 618.3,666.1 618.2,666.3 C618.0,666.4 617.9,666.6 617.7,666.7 C617.5,666.9 617.3,667.0 617.1,667.1 C616.9,667.3 616.7,667.4 616.5,667.5 C616.3,667.5 616.1,667.6 615.9,667.7 C615.6,667.7 615.4,667.7 615.2,667.8 C614.9,667.8 614.7,667.8 614.5,667.8 C614.2,667.7 614.0,667.7 613.7,667.7 C613.5,667.6 613.2,667.5 613.0,667.4 C612.7,667.4 612.5,667.3 612.2,667.1 C612.0,667.0 611.7,666.9 611.4,666.7 C611.2,666.6 610.9,666.4 610.7,666.2 C610.5,666.0 610.2,665.9 610.0,665.6 C609.7,665.4 609.5,665.2 609.3,665.0 C609.1,664.7 608.8,664.5 608.6,664.2 C608.4,664.0 608.2,663.7 608.0,663.4 C607.8,663.2 607.5,662.7 607.4,662.6"/>
<path d="M615.9,656.7 C616.0,656.8 616.1,657.0 616.2,657.2 C616.2,657.4 616.3,657.6 616.4,657.8 C616.4,657.9 616.5,658.1 616.5,658.3 C616.5,658.5 616.6,658.7 616.6,658.9 C616.6,659.0 616.6,659.2 616.6,659.4 C616.7,659.6 616.7,659.8 616.7,659.9 C616.6,660.1 616.6,660.3 616.6,660.4 C616.6,660.6 616.6,660.8 616.5,660.9 C616.5,661.1 616.5,661.2 616.4,661.4 C616.4,661.5 616.3,661.7 616.2,661.8 C616.2,661.9 616.1,662.1 616.0,662.2 C615.9,662.3 615.9,662.4 615.8,662.5 C615.7,662.7 615.6,662.8 615.5,662.8 C615.4,662.9 615.3,663.0 615.2,663.1 C615.1,663.2 614.9,663.2 614.8,663.3 C614.7,663.3 614.6,663.4 614.5,663.4 C614.3,663.5 614.2,663.5 614.1,663.5 C613.9,663.5 613.8,663.5 613.6,663.5 C613.5,663.5 613.4,663.5 613.2,663.5 C613.1,663.5 612.9,663.5 612.8,663.4 C612.6,663.4 612.5,663.3 612.4,663.3 C612.2,663.2 612.1,663.2 611.9,663.1 C611.8,663.0 611.6,662.9 611.5,662.8 C611.4,662.7 611.2,662.6 611.1,662.5 C610.9,662.4 610.8,662.3 610.7,662.2 C610.5,662.1 610.4,661.9 610.3,661.8 C610.2,661.7 610.1,661.5 609.9,661.4 C609.8,661.2 609.7,661.1 609.6,660.9 C609.5,660.7 609.4,660.6 609.3,660.4 C609.2,660.3 609.1,660.1 609.1,659.9 C609.0,659.7 608.9,659.6 608.8,659.4 C608.8,659.2 608.7,659.0 608.6,658.8 C608.6,658.7 608.5,658.5 608.5,658.3 C608.5,658.1 608.4,657.9 608.4,657.7 C608.4,657.6 608.4,657.4 608.4,657.2 C608.3,657.0 608.3,656.8 608.3,656.7 C608.4,656.5 608.4,656.3 608.4,656.2 C608.4,656.0 608.4,655.8 608.5,655.7 C608.5,655.5 608.5,655.4 608.6,655.2 C608.6,655.1 608.7,654.9 608.8,654.8 C608.8,654.7 608.9,654.5 609.0,654.4 C609.1,654.3 609.1,654.2 609.2,654.1 C609.3,653.9 609.4,653.8 609.5,653.8 C609.6,653.7 609.7,653.6 609.8,653.5 C609.9,653.4 610.1,653.4 610.2,653.3 C610.3,653.3 610.4,653.2 610.5,653.2 C610.7,653.1 610.8,653.1 610.9,653.1 C611.1,653.1 611.2,653.1 611.4,653.1 C611.5,653.1 611.6,653.1 611.8,653.1 C611.9,653.1 612.1,653.1 612.2,653.2 C612.4,653.2 612.5,653.3 612.6,653.3 C612.8,653.4 612.9,653.4 613.1,653.5 C613.2,653.6 613.4,653.7 613.5,653.8 C613.6,653.9 613.8,654.0 613.9,654.1 C614.1,654.2 614.2,654.3 614.3,654.4 C614.5,654.5 614.6,654.7 614.7,654.8 C614.8,654.9 614.9,655.1 615.1,655.2 C615.2,655.4 615.3,655.5 615.4,655.7 C615.5,655.9 615.6,656.0 615.7,656.2 C615.8,656.3 615.9,656.6 615.9,656.7"/>
<path d="M596.6,520 L596.6,608 C597,622 612,630 630.5,630 C649,630 664.5,622 664.8,608 L664.8,520" fill="#fff"/>
<path d="M612.0,628.8 C613.6,629.4 618.0,631.2 621.6,632.4 C625.2,633.6 630.2,635.6 633.6,636.0 C637.0,636.4 639.8,635.8 642.0,634.8 C644.2,633.8 646.0,630.8 646.8,630.0"/>
<path d="M682.2,494.8 L681.9,498.0 L681.1,501.2 L679.7,504.3 L677.7,507.2 L675.3,510.1 L672.3,512.8 L668.9,515.3 L665.1,517.5 L660.9,519.6 L656.4,521.3 L651.6,522.8 L646.5,523.9 L641.3,524.7 L636.0,525.2 L630.6,525.4 L625.2,525.2 L619.9,524.7 L614.7,523.9 L609.6,522.8 L604.8,521.3 L600.3,519.6 L596.1,517.5 L592.3,515.3 L588.9,512.8 L585.9,510.1 L583.5,507.2 L581.5,504.3 L580.1,501.2 L579.3,498.0 L579.0,494.8 L579.0,506.8 L579.3,510.0 L580.1,513.2 L581.5,516.3 L583.5,519.2 L585.9,522.1 L588.9,524.8 L592.3,527.3 L596.1,529.5 L600.3,531.6 L604.8,533.3 L609.6,534.8 L614.7,535.9 L619.9,536.7 L625.2,537.2 L630.6,537.4 L636.0,537.2 L641.3,536.7 L646.5,535.9 L651.6,534.8 L656.4,533.3 L660.9,531.6 L665.1,529.5 L668.9,527.3 L672.3,524.8 L675.3,522.1 L677.7,519.2 L679.7,516.3 L681.1,513.2 L681.9,510.0 L682.2,506.8 Z" fill="#fff" stroke="none"/>
<path d="M682.0,509.5 C681.9,510.0 681.6,511.6 681.2,512.7 C680.9,513.7 680.4,514.8 679.9,515.8 C679.4,516.9 678.7,517.9 678.0,518.9 C677.3,519.9 676.5,520.8 675.6,521.8 C674.7,522.7 673.7,523.6 672.7,524.5 C671.6,525.4 670.5,526.2 669.3,527.0 C668.1,527.9 666.8,528.6 665.5,529.4 C664.1,530.1 662.7,530.8 661.2,531.4 C659.8,532.1 658.2,532.7 656.7,533.2 C655.1,533.7 653.5,534.2 651.8,534.7 C650.2,535.1 648.5,535.5 646.7,535.9 C645.0,536.2 643.2,536.5 641.5,536.7 C639.7,536.9 637.9,537.1 636.1,537.2 C634.2,537.3 632.4,537.4 630.6,537.4 C628.8,537.4 627.0,537.3 625.1,537.2 C623.3,537.1 621.5,536.9 619.7,536.7 C618.0,536.5 616.2,536.2 614.5,535.9 C612.7,535.5 611.0,535.1 609.4,534.7 C607.7,534.2 606.1,533.7 604.5,533.2 C603.0,532.7 601.4,532.1 600.0,531.4 C598.5,530.8 597.1,530.1 595.7,529.4 C594.4,528.6 593.1,527.9 591.9,527.0 C590.7,526.2 589.6,525.4 588.5,524.5 C587.5,523.6 586.5,522.7 585.6,521.8 C584.7,520.8 583.9,519.9 583.2,518.9 C582.5,517.9 581.8,516.9 581.3,515.8 C580.8,514.8 580.3,513.7 580.0,512.7 C579.6,511.6 579.3,510.0 579.2,509.5"/>
<polyline points="579.0,494.8 579.6,507.0"/>
<polyline points="682.2,494.8 681.6,507.0"/>
<path d="M601.0,526.1 C600.3,525.7 598.2,524.8 596.9,524.2 C595.5,523.5 594.3,522.8 593.1,522.0 C591.9,521.2 590.7,520.5 589.7,519.6 C588.6,518.8 587.6,517.9 586.7,517.1 C585.8,516.2 584.9,515.3 584.2,514.3 C583.4,513.4 582.5,511.9 582.1,511.5"/>
<path d="M679.1,511.5 C678.7,511.9 677.8,513.4 677.0,514.3 C676.3,515.3 675.4,516.2 674.5,517.1 C673.6,517.9 672.6,518.8 671.5,519.6 C670.5,520.5 669.3,521.2 668.1,522.0 C666.9,522.8 665.7,523.5 664.3,524.2 C663.0,524.8 660.9,525.7 660.2,526.1"/>
<ellipse cx="630.6" cy="494.8" rx="51.6" ry="30.6" transform="rotate(0 630.6 494.8)" fill="#fff"/>
<path d="M672.0,492.0 C672.0,492.4 671.9,493.6 671.8,494.4 C671.6,495.1 671.4,495.9 671.1,496.7 C670.8,497.5 670.4,498.2 670.0,499.0 C669.5,499.7 669.0,500.5 668.4,501.2 C667.8,501.9 667.1,502.6 666.4,503.3 C665.7,504.0 664.9,504.6 664.0,505.3 C663.2,505.9 662.3,506.5 661.3,507.1 C660.3,507.7 659.3,508.3 658.2,508.8 C657.1,509.3 656.0,509.8 654.8,510.3 C653.6,510.7 652.4,511.2 651.1,511.6 C649.9,512.0 648.6,512.3 647.3,512.6 C645.9,513.0 644.6,513.3 643.2,513.5 C641.8,513.7 640.4,513.9 639.0,514.1 C637.5,514.3 636.1,514.4 634.7,514.5 C633.2,514.6 631.8,514.6 630.3,514.6 C628.8,514.6 627.4,514.6 625.9,514.5 C624.5,514.4 623.1,514.3 621.6,514.1 C620.2,513.9 618.8,513.7 617.4,513.5 C616.0,513.3 614.7,513.0 613.3,512.6 C612.0,512.3 610.7,512.0 609.4,511.6 C608.2,511.2 607.0,510.7 605.8,510.3 C604.6,509.8 603.5,509.3 602.4,508.8 C601.3,508.3 600.3,507.7 599.3,507.1 C598.3,506.5 597.4,505.9 596.6,505.3 C595.7,504.6 594.9,504.0 594.2,503.3 C593.5,502.6 592.8,501.9 592.2,501.2 C591.6,500.5 591.1,499.7 590.6,499.0 C590.2,498.2 589.8,497.5 589.5,496.7 C589.2,495.9 589.0,495.1 588.8,494.4 C588.7,493.6 588.6,492.8 588.6,492.0 C588.6,491.2 588.7,490.4 588.8,489.6 C589.0,488.9 589.2,488.1 589.5,487.3 C589.8,486.5 590.2,485.8 590.6,485.0 C591.1,484.3 591.6,483.5 592.2,482.8 C592.8,482.1 593.5,481.4 594.2,480.7 C594.9,480.0 595.7,479.4 596.6,478.7 C597.4,478.1 598.3,477.5 599.3,476.9 C600.3,476.3 601.3,475.7 602.4,475.2 C603.5,474.7 604.6,474.2 605.8,473.7 C607.0,473.3 608.2,472.8 609.4,472.4 C610.7,472.0 612.0,471.7 613.3,471.4 C614.7,471.0 616.0,470.7 617.4,470.5 C618.8,470.3 620.2,470.1 621.6,469.9 C623.1,469.7 624.5,469.6 625.9,469.5 C627.4,469.4 628.8,469.4 630.3,469.4 C631.8,469.4 633.2,469.4 634.7,469.5 C636.1,469.6 637.5,469.7 639.0,469.9 C640.4,470.1 641.8,470.3 643.2,470.5 C644.6,470.7 645.9,471.0 647.3,471.4 C648.6,471.7 649.9,472.0 651.1,472.4 C652.4,472.8 653.6,473.3 654.8,473.7 C656.0,474.2 657.1,474.7 658.2,475.2 C659.3,475.7 660.3,476.3 661.3,476.9 C662.3,477.5 663.2,478.1 664.0,478.7 C664.9,479.4 665.7,480.0 666.4,480.7 C667.1,481.4 667.8,482.1 668.4,482.8 C669.0,483.5 669.5,484.3 670.0,485.0 C670.4,485.8 670.8,486.5 671.1,487.3 C671.4,488.1 671.6,488.9 671.8,489.6 C671.9,490.4 672.0,491.6 672.0,492.0"/>
<path d="M592.5,250.0 C579.8,271.0 591.8,353.2 592.5,376.0 C593.2,398.8 594.8,384.0 597.0,387.0 C599.2,390.0 602.5,392.2 606.0,394.0 C609.5,395.8 612.3,397.2 618.0,398.0 C623.7,398.8 633.0,399.7 640.0,399.0 C647.0,398.3 655.2,396.5 660.0,394.0 C664.8,391.5 667.5,408.0 669.0,384.0 C670.5,360.0 681.8,272.3 669.0,250.0 C656.2,227.7 605.2,229.0 592.5,250.0 Z" fill="#fff" stroke="none"/>
<path d="M592.5,250.0 C592.5,271.0 591.8,353.2 592.5,376.0 C593.2,398.8 594.8,384.0 597.0,387.0 C599.2,390.0 602.5,392.2 606.0,394.0 C609.5,395.8 616.0,397.3 618.0,398.0"/>
<polyline points="669.0,250.0 669.0,384.0"/>
<path d="M603.5,394 L603.5,495 C603.5,505 615,510.4 630.5,510.4 C646,510.4 658.5,505 658.5,495 L658.5,394" fill="#fff"/>
<path d="M596.4,486.4 C596.6,487.8 596.9,492.0 597.5,495.0 C598.1,498.0 599.6,502.8 600.0,504.4"/>
<path d="M661.2,487.6 C661.6,489.0 662.9,493.2 663.5,496.0 C664.1,498.8 664.6,503.0 664.8,504.4"/>
<path d="M587.2,262.6 L586.7,261.9 L586.4,261.2 L586.1,260.6 L585.8,260.0 L585.6,259.4 L585.4,258.8 L585.3,258.2 L585.2,257.7 L585.1,257.1 L585.1,256.3 L572.9,256.7 L572.9,257.9 L573.1,259.2 L573.3,260.6 L573.6,261.9 L574.0,263.2 L574.5,264.5 L575.0,265.8 L575.6,267.0 L576.3,268.2 L577.0,269.3 Z" fill="#fff" stroke="none"/>
<path d="M587.2,262.6 L586.7,261.9 L586.4,261.2 L586.1,260.6 L585.8,260.0 L585.6,259.4 L585.4,258.8 L585.3,258.2 L585.2,257.7 L585.1,257.1 L585.1,256.3"/>
<path d="M577.0,269.3 L576.3,268.2 L575.6,267.0 L575.0,265.8 L574.5,264.5 L574.0,263.2 L573.6,261.9 L573.3,260.6 L573.1,259.2 L572.9,257.9 L572.9,256.7"/>
<path d="M676.4,275.9 L676.4,277.2 L676.3,278.3 L676.2,279.5 L676.0,280.6 L675.8,281.8 L675.5,282.9 L675.1,284.1 L674.8,285.2 L674.3,286.3 L673.8,287.5 L673.3,288.6 L672.7,289.7 L672.0,290.8 L671.4,291.9 L670.6,293.0 L669.8,294.1 L669.0,295.1 L668.1,296.2 L667.1,297.2 L666.1,298.2 L665.1,299.2 L664.0,300.2 L662.8,301.2 L661.7,302.1 L660.4,303.0 L659.2,303.9 L657.9,304.8 L656.5,305.6 L655.2,306.4 L653.8,307.2 L652.3,307.9 L650.9,308.6 L649.4,309.3 L647.8,309.9 L646.3,310.5 L644.7,311.1 L643.1,311.6 L641.5,312.1 L639.9,312.6 L638.3,313.0 L636.6,313.4 L635.0,313.8 L633.3,314.1 L631.6,314.4 L630.0,314.6 L628.3,314.8 L626.6,315.0 L625.0,315.1 L623.3,315.2 L621.7,315.2 L620.0,315.2 L618.4,315.2 L616.8,315.1 L615.2,315.0 L613.7,314.9 L612.1,314.7 L610.6,314.5 L609.1,314.3 L607.7,314.0 L606.2,313.7 L604.8,313.4 L603.5,313.0 L602.2,312.6 L600.9,312.2 L599.7,311.7 L598.5,311.3 L597.3,310.8 L596.2,310.2 L595.2,309.7 L594.2,309.1 L593.2,308.6 L592.3,308.0 L591.5,307.4 L590.7,306.8 L590.0,306.2 L589.3,305.5 L588.7,304.9 L588.1,304.3 L587.6,303.7 L587.1,303.1 L586.7,302.4 L586.3,301.8 L586.0,301.2 L585.8,300.7 L585.6,300.1 L585.4,299.5 L585.3,298.9 L585.2,298.4 L585.1,297.8 L585.1,297.1 L572.9,297.5 L572.9,298.7 L573.1,300.0 L573.3,301.3 L573.6,302.7 L574.0,304.0 L574.5,305.2 L575.0,306.5 L575.7,307.7 L576.4,308.9 L577.1,310.1 L578.0,311.2 L578.9,312.3 L579.8,313.3 L580.8,314.4 L581.9,315.3 L583.0,316.3 L584.2,317.2 L585.4,318.1 L586.7,318.9 L588.1,319.7 L589.4,320.5 L590.8,321.2 L592.3,321.9 L593.8,322.5 L595.3,323.1 L596.9,323.7 L598.5,324.2 L600.1,324.7 L601.8,325.2 L603.5,325.6 L605.3,326.0 L607.0,326.3 L608.8,326.6 L610.6,326.8 L612.4,327.0 L614.3,327.2 L616.2,327.3 L618.1,327.4 L620.0,327.4 L621.9,327.4 L623.8,327.4 L625.7,327.3 L627.7,327.1 L629.6,326.9 L631.5,326.7 L633.5,326.4 L635.4,326.1 L637.4,325.7 L639.3,325.3 L641.2,324.9 L643.1,324.4 L645.0,323.8 L646.9,323.2 L648.8,322.6 L650.6,321.9 L652.4,321.2 L654.2,320.5 L656.0,319.7 L657.8,318.8 L659.5,317.9 L661.2,317.0 L662.8,316.0 L664.5,315.0 L666.0,314.0 L667.6,312.9 L669.1,311.8 L670.6,310.6 L672.0,309.4 L673.4,308.2 L674.7,306.9 L676.0,305.6 L677.2,304.3 L678.4,302.9 L679.5,301.5 L680.5,300.1 L681.5,298.6 L682.5,297.1 L683.4,295.6 L684.2,294.1 L684.9,292.5 L685.6,290.9 L686.2,289.3 L686.8,287.7 L687.3,286.1 L687.7,284.4 L688.0,282.7 L688.3,281.1 L688.5,279.4 L688.6,277.7 L688.6,276.1 Z" fill="#fff" stroke="none"/>
<path d="M676.4,275.9 L676.4,277.2 L676.3,278.3 L676.2,279.5 L676.0,280.6 L675.8,281.8 L675.5,282.9 L675.1,284.1 L674.8,285.2 L674.3,286.3 L673.8,287.5 L673.3,288.6 L672.7,289.7 L672.0,290.8 L671.4,291.9 L670.6,293.0 L669.8,294.1 L669.0,295.1 L668.1,296.2 L667.1,297.2 L666.1,298.2 L665.1,299.2 L664.0,300.2 L662.8,301.2 L661.7,302.1 L660.4,303.0 L659.2,303.9 L657.9,304.8 L656.5,305.6 L655.2,306.4 L653.8,307.2 L652.3,307.9 L650.9,308.6 L649.4,309.3 L647.8,309.9 L646.3,310.5 L644.7,311.1 L643.1,311.6 L641.5,312.1 L639.9,312.6 L638.3,313.0 L636.6,313.4 L635.0,313.8 L633.3,314.1 L631.6,314.4 L630.0,314.6 L628.3,314.8 L626.6,315.0 L625.0,315.1 L623.3,315.2 L621.7,315.2 L620.0,315.2 L618.4,315.2 L616.8,315.1 L615.2,315.0 L613.7,314.9 L612.1,314.7 L610.6,314.5 L609.1,314.3 L607.7,314.0 L606.2,313.7 L604.8,313.4 L603.5,313.0 L602.2,312.6 L600.9,312.2 L599.7,311.7 L598.5,311.3 L597.3,310.8 L596.2,310.2 L595.2,309.7 L594.2,309.1 L593.2,308.6 L592.3,308.0 L591.5,307.4 L590.7,306.8 L590.0,306.2 L589.3,305.5 L588.7,304.9 L588.1,304.3 L587.6,303.7 L587.1,303.1 L586.7,302.4 L586.3,301.8 L586.0,301.2 L585.8,300.7 L585.6,300.1 L585.4,299.5 L585.3,298.9 L585.2,298.4 L585.1,297.8 L585.1,297.1"/>
<path d="M688.6,276.1 L688.6,277.7 L688.5,279.4 L688.3,281.1 L688.0,282.7 L687.7,284.4 L687.3,286.1 L686.8,287.7 L686.2,289.3 L685.6,290.9 L684.9,292.5 L684.2,294.1 L683.4,295.6 L682.5,297.1 L681.5,298.6 L680.5,300.1 L679.5,301.5 L678.4,302.9 L677.2,304.3 L676.0,305.6 L674.7,306.9 L673.4,308.2 L672.0,309.4 L670.6,310.6 L669.1,311.8 L667.6,312.9 L666.0,314.0 L664.5,315.0 L662.8,316.0 L661.2,317.0 L659.5,317.9 L657.8,318.8 L656.0,319.7 L654.2,320.5 L652.4,321.2 L650.6,321.9 L648.8,322.6 L646.9,323.2 L645.0,323.8 L643.1,324.4 L641.2,324.9 L639.3,325.3 L637.4,325.7 L635.4,326.1 L633.5,326.4 L631.5,326.7 L629.6,326.9 L627.7,327.1 L625.7,327.3 L623.8,327.4 L621.9,327.4 L620.0,327.4 L618.1,327.4 L616.2,327.3 L614.3,327.2 L612.4,327.0 L610.6,326.8 L608.8,326.6 L607.0,326.3 L605.3,326.0 L603.5,325.6 L601.8,325.2 L600.1,324.7 L598.5,324.2 L596.9,323.7 L595.3,323.1 L593.8,322.5 L592.3,321.9 L590.8,321.2 L589.4,320.5 L588.1,319.7 L586.7,318.9 L585.4,318.1 L584.2,317.2 L583.0,316.3 L581.9,315.3 L580.8,314.4 L579.8,313.3 L578.9,312.3 L578.0,311.2 L577.1,310.1 L576.4,308.9 L575.7,307.7 L575.0,306.5 L574.5,305.2 L574.0,304.0 L573.6,302.7 L573.3,301.3 L573.1,300.0 L572.9,298.7 L572.9,297.5"/>
<path d="M676.4,318.5 L676.4,319.8 L676.3,320.9 L676.2,322.1 L676.0,323.2 L675.8,324.4 L675.5,325.5 L675.1,326.7 L674.8,327.8 L674.3,328.9 L673.8,330.1 L673.3,331.2 L672.7,332.3 L672.0,333.4 L671.4,334.5 L670.6,335.6 L669.8,336.7 L669.0,337.7 L668.1,338.8 L667.1,339.8 L666.1,340.8 L665.1,341.8 L664.0,342.7 L662.9,343.7 L661.7,344.6 L660.5,345.5 L659.2,346.3 L657.9,347.2 L656.6,348.0 L655.2,348.8 L653.8,349.5 L652.4,350.2 L650.9,350.9 L649.4,351.6 L647.9,352.2 L646.3,352.8 L644.8,353.4 L643.2,353.9 L641.6,354.4 L640.0,354.8 L638.3,355.2 L636.7,355.6 L635.0,355.9 L633.4,356.2 L631.7,356.5 L630.0,356.7 L628.4,356.9 L626.7,357.0 L625.0,357.1 L623.4,357.2 L621.7,357.2 L620.1,357.2 L618.5,357.2 L616.9,357.1 L615.3,357.0 L613.7,356.8 L612.2,356.6 L610.7,356.4 L609.2,356.1 L607.7,355.8 L606.3,355.5 L604.9,355.2 L603.6,354.8 L602.2,354.4 L601.0,353.9 L599.7,353.5 L598.5,353.0 L597.4,352.4 L596.3,351.9 L595.2,351.4 L594.2,350.8 L593.3,350.2 L592.4,349.6 L591.5,349.0 L590.7,348.3 L590.0,347.7 L589.3,347.1 L588.7,346.4 L588.1,345.8 L587.6,345.1 L587.1,344.5 L586.7,343.9 L586.4,343.2 L586.1,342.6 L585.8,342.0 L585.6,341.4 L585.4,340.8 L585.3,340.2 L585.2,339.7 L585.1,339.1 L585.1,338.3 L572.9,338.7 L572.9,339.9 L573.1,341.2 L573.3,342.6 L573.6,343.9 L574.0,345.2 L574.5,346.5 L575.0,347.8 L575.6,349.0 L576.3,350.2 L577.1,351.4 L577.9,352.6 L578.8,353.7 L579.8,354.7 L580.8,355.8 L581.9,356.8 L583.0,357.8 L584.2,358.7 L585.4,359.6 L586.7,360.4 L588.0,361.3 L589.4,362.0 L590.8,362.8 L592.2,363.5 L593.7,364.2 L595.2,364.8 L596.8,365.4 L598.4,366.0 L600.1,366.5 L601.7,366.9 L603.4,367.4 L605.2,367.8 L606.9,368.1 L608.7,368.4 L610.5,368.7 L612.4,368.9 L614.2,369.1 L616.1,369.3 L618.0,369.4 L619.9,369.4 L621.8,369.4 L623.7,369.4 L625.7,369.3 L627.6,369.2 L629.5,369.0 L631.5,368.8 L633.4,368.6 L635.4,368.3 L637.3,367.9 L639.2,367.5 L641.1,367.1 L643.1,366.6 L645.0,366.1 L646.8,365.5 L648.7,364.9 L650.6,364.3 L652.4,363.6 L654.2,362.8 L656.0,362.0 L657.7,361.2 L659.4,360.4 L661.1,359.5 L662.8,358.5 L664.4,357.5 L666.0,356.5 L667.5,355.4 L669.0,354.3 L670.5,353.2 L671.9,352.0 L673.3,350.8 L674.7,349.5 L676.0,348.2 L677.2,346.9 L678.4,345.5 L679.5,344.1 L680.5,342.7 L681.5,341.2 L682.5,339.7 L683.4,338.2 L684.2,336.7 L684.9,335.1 L685.6,333.5 L686.2,331.9 L686.8,330.3 L687.3,328.7 L687.7,327.0 L688.0,325.3 L688.3,323.7 L688.5,322.0 L688.6,320.3 L688.6,318.7 Z" fill="#fff" stroke="none"/>
<path d="M676.4,318.5 L676.4,319.8 L676.3,320.9 L676.2,322.1 L676.0,323.2 L675.8,324.4 L675.5,325.5 L675.1,326.7 L674.8,327.8 L674.3,328.9 L673.8,330.1 L673.3,331.2 L672.7,332.3 L672.0,333.4 L671.4,334.5 L670.6,335.6 L669.8,336.7 L669.0,337.7 L668.1,338.8 L667.1,339.8 L666.1,340.8 L665.1,341.8 L664.0,342.7 L662.9,343.7 L661.7,344.6 L660.5,345.5 L659.2,346.3 L657.9,347.2 L656.6,348.0 L655.2,348.8 L653.8,349.5 L652.4,350.2 L650.9,350.9 L649.4,351.6 L647.9,352.2 L646.3,352.8 L644.8,353.4 L643.2,353.9 L641.6,354.4 L640.0,354.8 L638.3,355.2 L636.7,355.6 L635.0,355.9 L633.4,356.2 L631.7,356.5 L630.0,356.7 L628.4,356.9 L626.7,357.0 L625.0,357.1 L623.4,357.2 L621.7,357.2 L620.1,357.2 L618.5,357.2 L616.9,357.1 L615.3,357.0 L613.7,356.8 L612.2,356.6 L610.7,356.4 L609.2,356.1 L607.7,355.8 L606.3,355.5 L604.9,355.2 L603.6,354.8 L602.2,354.4 L601.0,353.9 L599.7,353.5 L598.5,353.0 L597.4,352.4 L596.3,351.9 L595.2,351.4 L594.2,350.8 L593.3,350.2 L592.4,349.6 L591.5,349.0 L590.7,348.3 L590.0,347.7 L589.3,347.1 L588.7,346.4 L588.1,345.8 L587.6,345.1 L587.1,344.5 L586.7,343.9 L586.4,343.2 L586.1,342.6 L585.8,342.0 L585.6,341.4 L585.4,340.8 L585.3,340.2 L585.2,339.7 L585.1,339.1 L585.1,338.3"/>
<path d="M688.6,318.7 L688.6,320.3 L688.5,322.0 L688.3,323.7 L688.0,325.3 L687.7,327.0 L687.3,328.7 L686.8,330.3 L686.2,331.9 L685.6,333.5 L684.9,335.1 L684.2,336.7 L683.4,338.2 L682.5,339.7 L681.5,341.2 L680.5,342.7 L679.5,344.1 L678.4,345.5 L677.2,346.9 L676.0,348.2 L674.7,349.5 L673.3,350.8 L671.9,352.0 L670.5,353.2 L669.0,354.3 L667.5,355.4 L666.0,356.5 L664.4,357.5 L662.8,358.5 L661.1,359.5 L659.4,360.4 L657.7,361.2 L656.0,362.0 L654.2,362.8 L652.4,363.6 L650.6,364.3 L648.7,364.9 L646.8,365.5 L645.0,366.1 L643.1,366.6 L641.1,367.1 L639.2,367.5 L637.3,367.9 L635.4,368.3 L633.4,368.6 L631.5,368.8 L629.5,369.0 L627.6,369.2 L625.7,369.3 L623.7,369.4 L621.8,369.4 L619.9,369.4 L618.0,369.4 L616.1,369.3 L614.2,369.1 L612.4,368.9 L610.5,368.7 L608.7,368.4 L606.9,368.1 L605.2,367.8 L603.4,367.4 L601.7,366.9 L600.1,366.5 L598.4,366.0 L596.8,365.4 L595.2,364.8 L593.7,364.2 L592.2,363.5 L590.8,362.8 L589.4,362.0 L588.0,361.3 L586.7,360.4 L585.4,359.6 L584.2,358.7 L583.0,357.8 L581.9,356.8 L580.8,355.8 L579.8,354.7 L578.8,353.7 L577.9,352.6 L577.1,351.4 L576.3,350.2 L575.6,349.0 L575.0,347.8 L574.5,346.5 L574.0,345.2 L573.6,343.9 L573.3,342.6 L573.1,341.2 L572.9,339.9 L572.9,338.7"/>
<path d="M676.4,357.9 L676.4,359.1 L676.3,360.3 L676.2,361.4 L676.0,362.5 L675.8,363.6 L675.5,364.8 L675.2,365.9 L674.8,367.0 L674.3,368.1 L673.8,369.2 L673.3,370.3 L672.7,371.4 L672.1,372.5 L671.4,373.6 L670.6,374.7 L669.8,375.7 L669.0,376.8 L668.1,377.8 L667.1,378.8 L666.1,379.8 L665.1,380.8 L664.0,381.7 L662.9,382.7 L661.7,383.6 L660.5,384.5 L659.2,385.3 L657.9,386.2 L656.6,387.0 L655.2,387.8 L653.8,388.5 L652.4,389.2 L650.9,389.9 L649.4,390.6 L647.9,391.2 L646.3,391.8 L644.8,392.4 L643.2,392.9 L641.6,393.4 L640.0,393.8 L638.3,394.2 L636.7,394.6 L635.0,394.9 L633.4,395.2 L631.7,395.5 L630.0,395.7 L628.4,395.9 L626.7,396.0 L625.0,396.1 L623.4,396.2 L621.7,396.2 L620.1,396.2 L618.5,396.2 L616.9,396.1 L615.3,396.0 L613.7,395.8 L612.2,395.6 L610.7,395.4 L609.2,395.1 L607.7,394.8 L606.3,394.5 L604.9,394.2 L603.6,393.8 L602.2,393.4 L601.0,392.9 L599.7,392.5 L598.5,392.0 L597.4,391.4 L596.3,390.9 L595.2,390.4 L594.2,389.8 L593.3,389.2 L592.4,388.6 L591.5,388.0 L590.7,387.3 L590.0,386.7 L589.3,386.1 L588.7,385.4 L588.1,384.8 L587.6,384.1 L587.1,383.5 L586.7,382.9 L586.4,382.2 L586.1,381.6 L585.8,381.0 L585.6,380.4 L585.4,379.8 L585.3,379.2 L585.2,378.7 L585.1,378.1 L585.1,377.3 L572.9,377.7 L572.9,378.9 L573.1,380.2 L573.3,381.6 L573.6,382.9 L574.0,384.2 L574.5,385.5 L575.0,386.8 L575.6,388.0 L576.3,389.2 L577.1,390.4 L577.9,391.6 L578.8,392.7 L579.8,393.7 L580.8,394.8 L581.9,395.8 L583.0,396.8 L584.2,397.7 L585.4,398.6 L586.7,399.4 L588.0,400.3 L589.4,401.0 L590.8,401.8 L592.2,402.5 L593.7,403.2 L595.2,403.8 L596.8,404.4 L598.4,405.0 L600.1,405.5 L601.7,405.9 L603.4,406.4 L605.2,406.8 L606.9,407.1 L608.7,407.4 L610.5,407.7 L612.4,407.9 L614.2,408.1 L616.1,408.3 L618.0,408.4 L619.9,408.4 L621.8,408.4 L623.7,408.4 L625.7,408.3 L627.6,408.2 L629.5,408.0 L631.5,407.8 L633.4,407.6 L635.4,407.3 L637.3,406.9 L639.2,406.5 L641.1,406.1 L643.1,405.6 L645.0,405.1 L646.8,404.5 L648.7,403.9 L650.6,403.3 L652.4,402.6 L654.2,401.8 L656.0,401.0 L657.7,400.2 L659.4,399.4 L661.1,398.5 L662.8,397.5 L664.4,396.5 L666.0,395.5 L667.5,394.4 L669.0,393.3 L670.5,392.2 L671.9,391.0 L673.3,389.8 L674.6,388.6 L675.9,387.3 L677.1,386.0 L678.3,384.6 L679.4,383.2 L680.5,381.8 L681.5,380.4 L682.5,378.9 L683.3,377.4 L684.2,375.9 L684.9,374.4 L685.6,372.8 L686.2,371.2 L686.8,369.6 L687.3,368.0 L687.7,366.3 L688.0,364.7 L688.3,363.0 L688.4,361.4 L688.6,359.7 L688.6,358.1 Z" fill="#fff" stroke="none"/>
<path d="M676.4,357.9 L676.4,359.1 L676.3,360.3 L676.2,361.4 L676.0,362.5 L675.8,363.6 L675.5,364.8 L675.2,365.9 L674.8,367.0 L674.3,368.1 L673.8,369.2 L673.3,370.3 L672.7,371.4 L672.1,372.5 L671.4,373.6 L670.6,374.7 L669.8,375.7 L669.0,376.8 L668.1,377.8 L667.1,378.8 L666.1,379.8 L665.1,380.8 L664.0,381.7 L662.9,382.7 L661.7,383.6 L660.5,384.5 L659.2,385.3 L657.9,386.2 L656.6,387.0 L655.2,387.8 L653.8,388.5 L652.4,389.2 L650.9,389.9 L649.4,390.6 L647.9,391.2 L646.3,391.8 L644.8,392.4 L643.2,392.9 L641.6,393.4 L640.0,393.8 L638.3,394.2 L636.7,394.6 L635.0,394.9 L633.4,395.2 L631.7,395.5 L630.0,395.7 L628.4,395.9 L626.7,396.0 L625.0,396.1 L623.4,396.2 L621.7,396.2 L620.1,396.2 L618.5,396.2 L616.9,396.1 L615.3,396.0 L613.7,395.8 L612.2,395.6 L610.7,395.4 L609.2,395.1 L607.7,394.8 L606.3,394.5 L604.9,394.2 L603.6,393.8 L602.2,393.4 L601.0,392.9 L599.7,392.5 L598.5,392.0 L597.4,391.4 L596.3,390.9 L595.2,390.4 L594.2,389.8 L593.3,389.2 L592.4,388.6 L591.5,388.0 L590.7,387.3 L590.0,386.7 L589.3,386.1 L588.7,385.4 L588.1,384.8 L587.6,384.1 L587.1,383.5 L586.7,382.9 L586.4,382.2 L586.1,381.6 L585.8,381.0 L585.6,380.4 L585.4,379.8 L585.3,379.2 L585.2,378.7 L585.1,378.1 L585.1,377.3"/>
<path d="M688.6,358.1 L688.6,359.7 L688.4,361.4 L688.3,363.0 L688.0,364.7 L687.7,366.3 L687.3,368.0 L686.8,369.6 L686.2,371.2 L685.6,372.8 L684.9,374.4 L684.2,375.9 L683.3,377.4 L682.5,378.9 L681.5,380.4 L680.5,381.8 L679.4,383.2 L678.3,384.6 L677.1,386.0 L675.9,387.3 L674.6,388.6 L673.3,389.8 L671.9,391.0 L670.5,392.2 L669.0,393.3 L667.5,394.4 L666.0,395.5 L664.4,396.5 L662.8,397.5 L661.1,398.5 L659.4,399.4 L657.7,400.2 L656.0,401.0 L654.2,401.8 L652.4,402.6 L650.6,403.3 L648.7,403.9 L646.8,404.5 L645.0,405.1 L643.1,405.6 L641.1,406.1 L639.2,406.5 L637.3,406.9 L635.4,407.3 L633.4,407.6 L631.5,407.8 L629.5,408.0 L627.6,408.2 L625.7,408.3 L623.7,408.4 L621.8,408.4 L619.9,408.4 L618.0,408.4 L616.1,408.3 L614.2,408.1 L612.4,407.9 L610.5,407.7 L608.7,407.4 L606.9,407.1 L605.2,406.8 L603.4,406.4 L601.7,405.9 L600.1,405.5 L598.4,405.0 L596.8,404.4 L595.2,403.8 L593.7,403.2 L592.2,402.5 L590.8,401.8 L589.4,401.0 L588.0,400.3 L586.7,399.4 L585.4,398.6 L584.2,397.7 L583.0,396.8 L581.9,395.8 L580.8,394.8 L579.8,393.7 L578.8,392.7 L577.9,391.6 L577.1,390.4 L576.3,389.2 L575.6,388.0 L575.0,386.8 L574.5,385.5 L574.0,384.2 L573.6,382.9 L573.3,381.6 L573.1,380.2 L572.9,378.9 L572.9,377.7"/>
<path d="M676.4,396.9 L676.4,398.1 L676.3,399.3 L676.2,400.4 L676.0,401.5 L675.8,402.6 L675.5,403.8 L675.2,404.9 L674.8,406.0 L674.3,407.1 L673.8,408.2 L673.3,409.3 L672.7,410.4 L672.1,411.5 L671.4,412.6 L670.6,413.7 L669.8,414.7 L669.0,415.8 L668.1,416.8 L667.1,417.8 L666.1,418.8 L665.1,419.8 L664.0,420.7 L662.9,421.7 L661.7,422.6 L660.5,423.5 L659.2,424.3 L657.9,425.2 L656.6,426.0 L655.2,426.8 L653.8,427.5 L652.4,428.2 L650.9,428.9 L649.4,429.6 L647.9,430.2 L646.3,430.8 L644.8,431.4 L643.2,431.9 L641.6,432.4 L640.0,432.8 L638.3,433.2 L636.7,433.6 L635.0,433.9 L633.4,434.2 L631.7,434.5 L630.0,434.7 L628.4,434.9 L626.7,435.0 L625.0,435.1 L623.4,435.2 L621.7,435.2 L620.1,435.2 L618.5,435.2 L616.9,435.1 L615.3,435.0 L613.7,434.8 L612.2,434.6 L610.7,434.4 L609.2,434.1 L607.7,433.8 L606.3,433.5 L604.9,433.2 L603.6,432.8 L602.2,432.4 L601.0,431.9 L599.7,431.5 L598.5,431.0 L597.4,430.4 L596.3,429.9 L595.2,429.4 L594.2,428.8 L593.3,428.2 L592.4,427.6 L591.5,427.0 L590.7,426.3 L590.0,425.7 L589.3,425.1 L588.7,424.4 L588.1,423.8 L587.6,423.1 L587.1,422.5 L586.7,421.9 L586.4,421.2 L586.1,420.6 L585.8,420.0 L585.6,419.4 L585.4,418.8 L585.3,418.2 L585.2,417.7 L585.1,417.1 L585.1,416.3 L572.9,416.7 L572.9,417.9 L573.1,419.2 L573.3,420.6 L573.6,421.9 L574.0,423.2 L574.5,424.5 L575.0,425.8 L575.6,427.0 L576.3,428.2 L577.1,429.4 L577.9,430.6 L578.8,431.7 L579.8,432.7 L580.8,433.8 L581.9,434.8 L583.0,435.8 L584.2,436.7 L585.4,437.6 L586.7,438.4 L588.0,439.3 L589.4,440.0 L590.8,440.8 L592.2,441.5 L593.7,442.2 L595.2,442.8 L596.8,443.4 L598.4,444.0 L600.1,444.5 L601.7,444.9 L603.4,445.4 L605.2,445.8 L606.9,446.1 L608.7,446.4 L610.5,446.7 L612.4,446.9 L614.2,447.1 L616.1,447.3 L618.0,447.4 L619.9,447.4 L621.8,447.4 L623.7,447.4 L625.7,447.3 L627.6,447.2 L629.5,447.0 L631.5,446.8 L633.4,446.6 L635.4,446.3 L637.3,445.9 L639.2,445.5 L641.1,445.1 L643.1,444.6 L645.0,444.1 L646.8,443.5 L648.7,442.9 L650.6,442.3 L652.4,441.6 L654.2,440.8 L656.0,440.0 L657.7,439.2 L659.4,438.4 L661.1,437.5 L662.8,436.5 L664.4,435.5 L666.0,434.5 L667.5,433.4 L669.0,432.3 L670.5,431.2 L671.9,430.0 L673.3,428.8 L674.6,427.6 L675.9,426.3 L677.1,425.0 L678.3,423.6 L679.4,422.2 L680.5,420.8 L681.5,419.4 L682.5,417.9 L683.3,416.4 L684.2,414.9 L684.9,413.4 L685.6,411.8 L686.2,410.2 L686.8,408.6 L687.3,407.0 L687.7,405.3 L688.0,403.7 L688.3,402.0 L688.4,400.4 L688.6,398.7 L688.6,397.1 Z" fill="#fff" stroke="none"/>
<path d="M676.4,396.9 L676.4,398.1 L676.3,399.3 L676.2,400.4 L676.0,401.5 L675.8,402.6 L675.5,403.8 L675.2,404.9 L674.8,406.0 L674.3,407.1 L673.8,408.2 L673.3,409.3 L672.7,410.4 L672.1,411.5 L671.4,412.6 L670.6,413.7 L669.8,414.7 L669.0,415.8 L668.1,416.8 L667.1,417.8 L666.1,418.8 L665.1,419.8 L664.0,420.7 L662.9,421.7 L661.7,422.6 L660.5,423.5 L659.2,424.3 L657.9,425.2 L656.6,426.0 L655.2,426.8 L653.8,427.5 L652.4,428.2 L650.9,428.9 L649.4,429.6 L647.9,430.2 L646.3,430.8 L644.8,431.4 L643.2,431.9 L641.6,432.4 L640.0,432.8 L638.3,433.2 L636.7,433.6 L635.0,433.9 L633.4,434.2 L631.7,434.5 L630.0,434.7 L628.4,434.9 L626.7,435.0 L625.0,435.1 L623.4,435.2 L621.7,435.2 L620.1,435.2 L618.5,435.2 L616.9,435.1 L615.3,435.0 L613.7,434.8 L612.2,434.6 L610.7,434.4 L609.2,434.1 L607.7,433.8 L606.3,433.5 L604.9,433.2 L603.6,432.8 L602.2,432.4 L601.0,431.9 L599.7,431.5 L598.5,431.0 L597.4,430.4 L596.3,429.9 L595.2,429.4 L594.2,428.8 L593.3,428.2 L592.4,427.6 L591.5,427.0 L590.7,426.3 L590.0,425.7 L589.3,425.1 L588.7,424.4 L588.1,423.8 L587.6,423.1 L587.1,422.5 L586.7,421.9 L586.4,421.2 L586.1,420.6 L585.8,420.0 L585.6,419.4 L585.4,418.8 L585.3,418.2 L585.2,417.7 L585.1,417.1 L585.1,416.3"/>
<path d="M688.6,397.1 L688.6,398.7 L688.4,400.4 L688.3,402.0 L688.0,403.7 L687.7,405.3 L687.3,407.0 L686.8,408.6 L686.2,410.2 L685.6,411.8 L684.9,413.4 L684.2,414.9 L683.3,416.4 L682.5,417.9 L681.5,419.4 L680.5,420.8 L679.4,422.2 L678.3,423.6 L677.1,425.0 L675.9,426.3 L674.6,427.6 L673.3,428.8 L671.9,430.0 L670.5,431.2 L669.0,432.3 L667.5,433.4 L666.0,434.5 L664.4,435.5 L662.8,436.5 L661.1,437.5 L659.4,438.4 L657.7,439.2 L656.0,440.0 L654.2,440.8 L652.4,441.6 L650.6,442.3 L648.7,442.9 L646.8,443.5 L645.0,444.1 L643.1,444.6 L641.1,445.1 L639.2,445.5 L637.3,445.9 L635.4,446.3 L633.4,446.6 L631.5,446.8 L629.5,447.0 L627.6,447.2 L625.7,447.3 L623.7,447.4 L621.8,447.4 L619.9,447.4 L618.0,447.4 L616.1,447.3 L614.2,447.1 L612.4,446.9 L610.5,446.7 L608.7,446.4 L606.9,446.1 L605.2,445.8 L603.4,445.4 L601.7,444.9 L600.1,444.5 L598.4,444.0 L596.8,443.4 L595.2,442.8 L593.7,442.2 L592.2,441.5 L590.8,440.8 L589.4,440.0 L588.0,439.3 L586.7,438.4 L585.4,437.6 L584.2,436.7 L583.0,435.8 L581.9,434.8 L580.8,433.8 L579.8,432.7 L578.8,431.7 L577.9,430.6 L577.1,429.4 L576.3,428.2 L575.6,427.0 L575.0,425.8 L574.5,424.5 L574.0,423.2 L573.6,421.9 L573.3,420.6 L573.1,419.2 L572.9,417.9 L572.9,416.7"/>
<path d="M676.4,435.9 L676.4,437.1 L676.3,438.3 L676.2,439.4 L676.0,440.5 L675.8,441.6 L675.5,442.8 L675.2,443.9 L674.8,445.0 L674.3,446.1 L673.8,447.2 L673.3,448.3 L672.7,449.4 L672.1,450.5 L671.4,451.6 L670.6,452.7 L669.8,453.7 L669.0,454.8 L668.1,455.8 L667.1,456.8 L666.1,457.8 L665.1,458.8 L664.0,459.7 L662.9,460.7 L661.7,461.6 L660.5,462.5 L659.2,463.3 L657.9,464.2 L656.6,465.0 L655.2,465.8 L653.8,466.5 L652.4,467.2 L650.9,467.9 L649.4,468.6 L647.9,469.2 L646.3,469.8 L644.8,470.4 L643.2,470.9 L641.6,471.4 L640.0,471.8 L638.3,472.2 L636.7,472.6 L635.0,472.9 L633.4,473.2 L631.7,473.5 L630.0,473.7 L628.4,473.9 L626.7,474.0 L625.0,474.1 L623.4,474.2 L621.7,474.2 L620.1,474.2 L618.5,474.2 L616.9,474.1 L615.3,474.0 L613.7,473.8 L612.2,473.6 L610.7,473.4 L609.2,473.1 L607.7,472.8 L606.3,472.5 L604.9,472.2 L603.6,471.8 L602.2,471.4 L601.0,470.9 L599.7,470.5 L598.5,470.0 L597.4,469.4 L596.3,468.9 L595.2,468.4 L594.2,467.8 L593.3,467.2 L592.4,466.6 L591.5,466.0 L590.7,465.3 L590.0,464.7 L589.3,464.1 L588.7,463.4 L588.1,462.8 L587.6,462.1 L587.1,461.5 L586.7,460.9 L586.4,460.2 L586.1,459.6 L585.8,459.0 L585.6,458.4 L585.4,457.8 L585.3,457.2 L585.2,456.7 L585.1,456.1 L585.1,455.3 L572.9,455.7 L572.9,456.9 L573.1,458.2 L573.3,459.6 L573.6,460.9 L574.0,462.2 L574.5,463.5 L575.0,464.8 L575.6,466.0 L576.3,467.2 L577.1,468.4 L577.9,469.6 L578.8,470.7 L579.8,471.7 L580.8,472.8 L581.9,473.8 L583.0,474.8 L584.2,475.7 L585.4,476.6 L586.7,477.4 L588.0,478.3 L589.4,479.0 L590.8,479.8 L592.2,480.5 L593.7,481.2 L595.2,481.8 L596.8,482.4 L598.4,483.0 L600.1,483.5 L601.7,483.9 L603.4,484.4 L605.2,484.8 L606.9,485.1 L608.7,485.4 L610.5,485.7 L612.4,485.9 L614.2,486.1 L616.1,486.3 L618.0,486.4 L619.9,486.4 L621.8,486.4 L623.7,486.4 L625.7,486.3 L627.6,486.2 L629.5,486.0 L631.5,485.8 L633.4,485.6 L635.4,485.3 L637.3,484.9 L639.2,484.5 L641.1,484.1 L643.1,483.6 L645.0,483.1 L646.8,482.5 L648.7,481.9 L650.6,481.3 L652.4,480.6 L654.2,479.8 L656.0,479.0 L657.7,478.2 L659.4,477.4 L661.1,476.5 L662.8,475.5 L664.4,474.5 L666.0,473.5 L667.5,472.4 L669.0,471.3 L670.5,470.2 L671.9,469.0 L673.3,467.8 L674.6,466.6 L675.9,465.3 L677.1,464.0 L678.3,462.6 L679.4,461.2 L680.5,459.8 L681.5,458.4 L682.5,456.9 L683.3,455.4 L684.2,453.9 L684.9,452.4 L685.6,450.8 L686.2,449.2 L686.8,447.6 L687.3,446.0 L687.7,444.3 L688.0,442.7 L688.3,441.0 L688.4,439.4 L688.6,437.7 L688.6,436.1 Z" fill="#fff" stroke="none"/>
<path d="M676.4,435.9 L676.4,437.1 L676.3,438.3 L676.2,439.4 L676.0,440.5 L675.8,441.6 L675.5,442.8 L675.2,443.9 L674.8,445.0 L674.3,446.1 L673.8,447.2 L673.3,448.3 L672.7,449.4 L672.1,450.5 L671.4,451.6 L670.6,452.7 L669.8,453.7 L669.0,454.8 L668.1,455.8 L667.1,456.8 L666.1,457.8 L665.1,458.8 L664.0,459.7 L662.9,460.7 L661.7,461.6 L660.5,462.5 L659.2,463.3 L657.9,464.2 L656.6,465.0 L655.2,465.8 L653.8,466.5 L652.4,467.2 L650.9,467.9 L649.4,468.6 L647.9,469.2 L646.3,469.8 L644.8,470.4 L643.2,470.9 L641.6,471.4 L640.0,471.8 L638.3,472.2 L636.7,472.6 L635.0,472.9 L633.4,473.2 L631.7,473.5 L630.0,473.7 L628.4,473.9 L626.7,474.0 L625.0,474.1 L623.4,474.2 L621.7,474.2 L620.1,474.2 L618.5,474.2 L616.9,474.1 L615.3,474.0 L613.7,473.8 L612.2,473.6 L610.7,473.4 L609.2,473.1 L607.7,472.8 L606.3,472.5 L604.9,472.2 L603.6,471.8 L602.2,471.4 L601.0,470.9 L599.7,470.5 L598.5,470.0 L597.4,469.4 L596.3,468.9 L595.2,468.4 L594.2,467.8 L593.3,467.2 L592.4,466.6 L591.5,466.0 L590.7,465.3 L590.0,464.7 L589.3,464.1 L588.7,463.4 L588.1,462.8 L587.6,462.1 L587.1,461.5 L586.7,460.9 L586.4,460.2 L586.1,459.6 L585.8,459.0 L585.6,458.4 L585.4,457.8 L585.3,457.2 L585.2,456.7 L585.1,456.1 L585.1,455.3"/>
<path d="M688.6,436.1 L688.6,437.7 L688.4,439.4 L688.3,441.0 L688.0,442.7 L687.7,444.3 L687.3,446.0 L686.8,447.6 L686.2,449.2 L685.6,450.8 L684.9,452.4 L684.2,453.9 L683.3,455.4 L682.5,456.9 L681.5,458.4 L680.5,459.8 L679.4,461.2 L678.3,462.6 L677.1,464.0 L675.9,465.3 L674.6,466.6 L673.3,467.8 L671.9,469.0 L670.5,470.2 L669.0,471.3 L667.5,472.4 L666.0,473.5 L664.4,474.5 L662.8,475.5 L661.1,476.5 L659.4,477.4 L657.7,478.2 L656.0,479.0 L654.2,479.8 L652.4,480.6 L650.6,481.3 L648.7,481.9 L646.8,482.5 L645.0,483.1 L643.1,483.6 L641.1,484.1 L639.2,484.5 L637.3,484.9 L635.4,485.3 L633.4,485.6 L631.5,485.8 L629.5,486.0 L627.6,486.2 L625.7,486.3 L623.7,486.4 L621.8,486.4 L619.9,486.4 L618.0,486.4 L616.1,486.3 L614.2,486.1 L612.4,485.9 L610.5,485.7 L608.7,485.4 L606.9,485.1 L605.2,484.8 L603.4,484.4 L601.7,483.9 L600.1,483.5 L598.4,483.0 L596.8,482.4 L595.2,481.8 L593.7,481.2 L592.2,480.5 L590.8,479.8 L589.4,479.0 L588.0,478.3 L586.7,477.4 L585.4,476.6 L584.2,475.7 L583.0,474.8 L581.9,473.8 L580.8,472.8 L579.8,471.7 L578.8,470.7 L577.9,469.6 L577.1,468.4 L576.3,467.2 L575.6,466.0 L575.0,464.8 L574.5,463.5 L574.0,462.2 L573.6,460.9 L573.3,459.6 L573.1,458.2 L572.9,456.9 L572.9,455.7"/>
<ellipse cx="630.6" cy="261" rx="57.3" ry="34.5" transform="rotate(0 630.6 261)" fill="#fff"/>
<path d="M574.2,266.6 C574.9,267.7 575.6,270.3 578.4,272.9 C581.2,275.5 588.9,280.5 591.0,282.0"/>
<path d="M670.0,282.0 C671.7,280.8 677.3,277.7 680.0,275.0 C682.7,272.3 685.0,267.5 686.0,266.0"/>
<path d="M678.6,255.0 C678.6,256.1 678.5,257.1 678.3,258.2 C678.2,259.2 677.9,260.3 677.6,261.3 C677.2,262.4 676.8,263.4 676.3,264.4 C675.7,265.4 675.1,266.4 674.5,267.4 C673.8,268.4 673.0,269.3 672.2,270.2 C671.3,271.2 670.4,272.1 669.4,272.9 C668.4,273.8 667.4,274.6 666.3,275.4 C665.2,276.2 664.0,277.0 662.7,277.7 C661.5,278.4 660.2,279.1 658.8,279.7 C657.5,280.3 656.0,280.9 654.6,281.4 C653.2,281.9 651.7,282.4 650.1,282.9 C648.6,283.3 647.0,283.7 645.4,284.0 C643.8,284.3 642.2,284.6 640.6,284.8 C638.9,285.1 637.3,285.2 635.6,285.3 C634.0,285.4 632.3,285.5 630.6,285.5 C628.9,285.5 627.2,285.4 625.6,285.3 C623.9,285.2 622.3,285.1 620.6,284.8 C619.0,284.6 617.4,284.3 615.8,284.0 C614.2,283.7 612.6,283.3 611.1,282.9 C609.5,282.4 608.0,281.9 606.6,281.4 C605.2,280.9 603.7,280.3 602.4,279.7 C601.0,279.1 599.7,278.4 598.5,277.7 C597.2,277.0 596.0,276.2 594.9,275.4 C593.8,274.6 592.8,273.8 591.8,272.9 C590.8,272.1 589.9,271.2 589.0,270.2 C588.2,269.3 587.4,268.4 586.7,267.4 C586.1,266.4 585.5,265.4 584.9,264.4 C584.4,263.4 584.0,262.4 583.6,261.3 C583.3,260.3 583.0,259.2 582.9,258.2 C582.7,257.1 582.6,256.1 582.6,255.0 C582.6,253.9 582.7,252.9 582.9,251.8 C583.0,250.8 583.3,249.7 583.6,248.7 C584.0,247.6 584.4,246.6 584.9,245.6 C585.5,244.6 586.1,243.6 586.7,242.6 C587.4,241.6 588.2,240.7 589.0,239.8 C589.9,238.8 590.8,237.9 591.8,237.1 C592.8,236.2 593.8,235.4 594.9,234.6 C596.0,233.8 597.2,233.0 598.5,232.3 C599.7,231.6 601.0,230.9 602.4,230.3 C603.7,229.7 605.2,229.1 606.6,228.6 C608.0,228.1 609.5,227.6 611.1,227.1 C612.6,226.7 614.2,226.3 615.8,226.0 C617.4,225.7 619.0,225.4 620.6,225.2 C622.3,224.9 623.9,224.8 625.6,224.7 C627.2,224.6 628.9,224.5 630.6,224.5 C632.3,224.5 634.0,224.6 635.6,224.7 C637.3,224.8 638.9,224.9 640.6,225.2 C642.2,225.4 643.8,225.7 645.4,226.0 C647.0,226.3 648.6,226.7 650.1,227.1 C651.7,227.6 653.2,228.1 654.6,228.6 C656.0,229.1 657.5,229.7 658.8,230.3 C660.2,230.9 661.5,231.6 662.7,232.3 C664.0,233.0 665.2,233.8 666.3,234.6 C667.4,235.4 668.4,236.2 669.4,237.1 C670.4,237.9 671.3,238.8 672.2,239.8 C673.0,240.7 673.8,241.6 674.5,242.6 C675.1,243.6 675.7,244.6 676.3,245.6 C676.8,246.6 677.2,247.6 677.6,248.7 C677.9,249.7 678.2,250.8 678.3,251.8 C678.5,252.9 678.6,253.9 678.6,255.0 Z" fill="#fff" stroke="none"/>
<path d="M589.6,240.0 C588.4,242.3 583.7,250.2 582.6,254.0 C581.5,257.9 582.4,260.5 583.3,263.1 C584.2,265.7 586.0,267.5 588.2,269.4 C590.4,271.3 595.2,273.5 596.6,274.3"/>
<path d="M584.0,261.0 C585.5,263.0 588.4,269.4 593.1,272.9 C597.8,276.4 606.7,279.9 612.0,282.0 C617.3,284.1 620.3,285.0 625.0,285.5 C629.7,286.0 636.2,285.2 640.0,285.0 C643.8,284.8 646.7,284.3 648.0,284.2"/>
<path d="M673.0,267.0 C673.8,266.0 677.0,263.0 678.0,261.0 C679.0,259.0 679.2,258.0 679.0,255.0 C678.8,252.0 678.8,246.8 677.0,243.0 C675.2,239.2 672.2,234.8 668.0,232.0 C663.8,229.2 658.0,227.2 652.0,226.0 C646.0,224.8 638.7,224.5 632.0,224.5 C625.3,224.5 617.8,224.8 612.0,226.0 C606.2,227.2 600.7,229.7 597.0,232.0 C593.3,234.3 590.8,238.7 589.6,240.0"/>
<path d="M594.5,257.5 C591.8,253.6 594.9,250.8 596.0,248.0 C597.1,245.2 598.9,242.7 601.2,240.4 C603.5,238.1 607.1,236.1 609.6,234.4 C612.1,232.7 610.6,231.0 616.0,230.0 C621.4,229.0 634.5,227.3 642.0,228.4 C649.5,229.5 657.2,233.6 661.2,236.8 C665.2,240.0 665.2,244.0 666.0,247.6 C666.8,251.2 667.8,254.7 666.0,258.4 C664.2,262.1 660.5,267.2 655.0,270.0 C649.5,272.8 640.2,274.8 633.0,275.0 C625.8,275.2 618.4,274.4 612.0,271.5 C605.6,268.6 597.2,261.4 594.5,257.5 Z" fill="#fff" stroke="none"/>
<path d="M600.8,240.0 C600.0,241.4 596.9,245.5 595.9,248.4 C594.9,251.3 593.8,254.5 594.5,257.5 C595.2,260.5 597.2,264.3 600.1,266.6 C603.0,268.9 606.5,270.1 612.0,271.5 C617.5,272.9 627.8,274.6 633.0,275.0 C638.2,275.4 641.3,274.2 643.0,274.0"/>
<polyline points="643.0,274.0 651.0,277.8 651.7,281.0 651.0,283.5 648.0,284.2"/>
<path d="M651.0,277.2 C651.8,276.8 654.5,275.5 656.0,274.5 C657.5,273.5 659.3,271.6 660.0,271.0"/>
<polyline points="660.0,266.5 660.0,270.0 669.0,275.5 678.0,264.0"/>
<path d="M644.4,228.4 C647.2,229.8 657.6,233.6 661.2,236.8 C664.8,240.0 665.2,244.0 666.0,247.6 C666.8,251.2 666.7,255.7 666.0,258.4 C665.3,261.1 663.0,262.6 662.0,264.0 C661.0,265.4 660.3,266.1 660.0,266.5"/>
<path d="M601.2,240.4 C602.6,239.4 607.1,236.1 609.6,234.4 C612.1,232.7 614.9,230.7 616.0,230.0"/>
<path d="M619.2,245.2 C621.0,245.8 626.6,248.6 630.0,248.8 C633.4,249.0 638.0,246.8 639.6,246.4"/>
<path d="M601.2,252.4 C602.6,253.8 606.6,258.8 609.6,260.8 C612.6,262.8 617.6,263.8 619.2,264.4"/>
<path d="M644.4,263.2 C646.0,262.6 651.2,261.4 654.0,259.6 C656.8,257.8 660.0,253.6 661.2,252.4"/>
<path d="M644.4,238.0 L646.8,242.8"/>
<path d="M615.6,239.2 L614.4,242.8"/>
<polyline points="553.0,249.5 609.0,217.5"/>
<path d="M623.5,237.3 L622.8,237.7 L622.0,238.0 L621.2,238.2 L620.3,238.4 L619.5,238.5 L618.6,238.5 L617.7,238.5 L616.8,238.4 L615.9,238.2 L614.9,238.0 L614.0,237.7 L613.0,237.3 L612.1,236.9 L611.1,236.4 L610.2,235.9 L609.2,235.3 L608.3,234.6 L607.4,233.9 L606.5,233.1 L605.6,232.3 L604.7,231.4 L603.8,230.5 L603.0,229.5 L602.2,228.5 L601.4,227.4 L600.6,226.3 L599.9,225.2 L599.2,224.0 L598.5,222.9 L597.9,221.6 L597.3,220.4 L596.8,219.2 L596.3,217.9 L595.8,216.6 L595.4,215.4 L595.0,214.1 L594.7,212.8 L594.5,211.5 L594.2,210.2 L594.0,209.0 L593.9,207.7 L593.8,206.5 L593.8,205.3 L593.8,204.1 L593.9,202.9 L594.0,201.8 L594.2,200.7 L594.4,199.6 L594.7,198.6 L595.0,197.6 L595.3,196.7 L595.7,195.8 L596.2,195.0 L596.7,194.2 L597.2,193.5 L597.8,192.8 L598.4,192.2 L599.1,191.6 L599.8,191.1 L600.5,190.7 L635.5,171.7 L636.2,171.3 L637.0,171.0 L637.8,170.8 L638.7,170.6 L639.5,170.5 L640.4,170.5 L641.3,170.5 L642.2,170.6 L643.1,170.8 L644.1,171.0 L645.0,171.3 L646.0,171.7 L646.9,172.1 L647.9,172.6 L648.8,173.1 L649.8,173.7 L650.7,174.4 L651.6,175.1 L652.5,175.9 L653.4,176.7 L654.3,177.6 L655.2,178.5 L656.0,179.5 L656.8,180.5 L657.6,181.6 L658.4,182.7 L659.1,183.8 L659.8,185.0 L660.5,186.1 L661.1,187.4 L661.7,188.6 L662.2,189.8 L662.7,191.1 L663.2,192.4 L663.6,193.6 L664.0,194.9 L664.3,196.2 L664.5,197.5 L664.8,198.8 L665.0,200.0 L665.1,201.3 L665.2,202.5 L665.2,203.7 L665.2,204.9 L665.1,206.1 L665.0,207.2 L664.8,208.3 L664.6,209.4 L664.3,210.4 L664.0,211.4 L663.7,212.3 L663.3,213.2 L662.8,214.0 L662.3,214.8 L661.8,215.5 L661.2,216.2 L660.6,216.8 L659.9,217.4 L659.2,217.9 L658.5,218.3 Z" fill="#fff"/>
<ellipse cx="612.0" cy="214.0" rx="16" ry="26" transform="rotate(-25 612.0 214.0)" fill="#fff"/>
<path d="M596.6,210.7 C596.6,210.3 596.4,209.2 596.4,208.4 C596.3,207.7 596.3,207.0 596.3,206.3 C596.3,205.5 596.3,204.8 596.4,204.2 C596.4,203.5 596.5,202.8 596.7,202.2 C596.8,201.6 596.9,201.0 597.1,200.4 C597.3,199.8 597.5,199.2 597.7,198.7 C598.0,198.2 598.3,197.7 598.5,197.2 C598.8,196.7 599.2,196.3 599.5,195.9 C599.8,195.5 600.2,195.1 600.6,194.8 C601.0,194.5 601.4,194.2 601.8,194.0 C602.3,193.7 602.7,193.5 603.2,193.3 C603.6,193.2 604.1,193.0 604.6,192.9 C605.1,192.8 605.6,192.8 606.2,192.8 C606.7,192.8 607.2,192.8 607.8,192.9 C608.3,193.0 608.9,193.1 609.4,193.2 C610.0,193.4 610.6,193.6 611.1,193.8 C611.7,194.1 612.3,194.4 612.8,194.7 C613.4,195.0 613.9,195.3 614.5,195.7 C615.1,196.1 615.6,196.5 616.2,197.0 C616.7,197.4 617.2,197.9 617.8,198.5 C618.3,199.0 619.1,199.8 619.3,200.1"/>
<path d="M627.4,217.3 C627.4,217.7 627.6,218.9 627.6,219.6 C627.7,220.4 627.7,221.1 627.7,221.8 C627.7,222.5 627.7,223.3 627.6,223.9 C627.5,224.6 627.4,225.3 627.3,225.9 C627.2,226.6 627.0,227.2 626.8,227.8 C626.6,228.4 626.4,228.9 626.2,229.5 C625.9,230.0 625.6,230.5 625.3,231.0 C625.0,231.4 624.7,231.9 624.4,232.3 C624.0,232.7 623.6,233.0 623.2,233.3 C622.8,233.7 622.2,234.0 621.9,234.2"/>
<path d="M600.8,207.1 C600.9,206.8 601.0,206.1 601.1,205.7 C601.2,205.2 601.3,204.8 601.5,204.4 C601.6,204.0 601.8,203.6 602.0,203.2 C602.2,202.8 602.4,202.5 602.6,202.1 C602.8,201.8 603.0,201.5 603.3,201.2 C603.6,200.9 603.8,200.7 604.1,200.4 C604.4,200.2 604.7,200.0 605.0,199.8 C605.4,199.6 605.7,199.5 606.0,199.3 C606.4,199.2 606.7,199.1 607.1,199.0 C607.5,199.0 607.8,198.9 608.2,198.9 C608.6,198.9 609.0,198.9 609.4,198.9 C609.8,199.0 610.2,199.1 610.6,199.2 C611.0,199.3 611.4,199.4 611.8,199.5 C612.2,199.7 612.7,199.9 613.1,200.1 C613.5,200.3 613.9,200.5 614.3,200.8 C614.7,201.0 615.1,201.3 615.5,201.6 C615.9,201.9 616.3,202.3 616.7,202.6 C617.1,203.0 617.4,203.4 617.8,203.8 C618.2,204.2 618.5,204.6 618.9,205.0 C619.2,205.4 619.6,205.9 619.9,206.3 C620.2,206.8 620.5,207.3 620.8,207.8 C621.1,208.3 621.4,208.8 621.6,209.3 C621.9,209.8 622.1,210.3 622.4,210.9 C622.6,211.4 622.8,211.9 623.0,212.5 C623.2,213.0 623.3,213.5 623.5,214.1 C623.6,214.6 623.8,215.2 623.9,215.7 C624.0,216.3 624.1,216.8 624.1,217.3 C624.2,217.9 624.3,218.4 624.3,218.9 C624.3,219.4 624.3,220.0 624.3,220.5 C624.3,221.0 624.2,221.5 624.2,221.9 C624.1,222.4 624.0,222.9 623.9,223.3 C623.8,223.8 623.7,224.2 623.5,224.6 C623.4,225.0 623.2,225.4 623.0,225.8 C622.8,226.2 622.6,226.5 622.4,226.9 C622.2,227.2 622.0,227.5 621.7,227.8 C621.4,228.1 621.2,228.3 620.9,228.6 C620.6,228.8 620.3,229.0 620.0,229.2 C619.6,229.4 619.3,229.5 619.0,229.7 C618.6,229.8 618.3,229.9 617.9,230.0 C617.5,230.0 617.2,230.1 616.8,230.1 C616.4,230.1 616.0,230.1 615.6,230.1 C615.2,230.0 614.8,229.9 614.4,229.8 C614.0,229.7 613.6,229.6 613.2,229.5 C612.8,229.3 612.3,229.1 611.9,228.9 C611.5,228.7 611.1,228.5 610.7,228.2 C610.3,228.0 609.9,227.7 609.5,227.4 C609.1,227.1 608.7,226.7 608.3,226.4 C607.9,226.0 607.6,225.6 607.2,225.2 C606.8,224.8 606.5,224.4 606.1,224.0 C605.8,223.6 605.4,223.1 605.1,222.7 C604.8,222.2 604.5,221.7 604.2,221.2 C603.9,220.7 603.6,220.2 603.4,219.7 C603.1,219.2 602.9,218.7 602.6,218.1 C602.4,217.6 602.2,217.1 602.0,216.5 C601.8,216.0 601.6,215.2 601.5,214.9"/>
<path d="M610.5,205.0 C610.7,205.1 611.0,205.1 611.3,205.1 C611.5,205.2 611.8,205.3 612.0,205.4 C612.3,205.4 612.5,205.5 612.8,205.7 C613.0,205.8 613.3,205.9 613.6,206.1 C613.8,206.2 614.1,206.4 614.3,206.6 C614.5,206.8 614.8,206.9 615.0,207.2 C615.3,207.4 615.5,207.6 615.7,207.8 C615.9,208.1 616.2,208.3 616.4,208.6 C616.6,208.8 616.8,209.1 617.0,209.4 C617.2,209.6 617.4,209.9 617.6,210.2 C617.7,210.5 617.9,210.8 618.1,211.1 C618.2,211.4 618.4,211.8 618.5,212.1 C618.7,212.4 618.8,212.7 618.9,213.0 C619.0,213.4 619.1,213.7 619.2,214.0 C619.3,214.4 619.4,214.7 619.5,215.0 C619.5,215.3 619.6,215.7 619.6,216.0 C619.7,216.3 619.7,216.7 619.7,217.0 C619.8,217.3 619.8,217.6 619.7,217.9 C619.7,218.2 619.7,218.5 619.7,218.8 C619.6,219.1 619.6,219.4 619.5,219.7 C619.5,220.0 619.4,220.2 619.3,220.5 C619.2,220.7 619.1,221.0 619.0,221.2 C618.9,221.4 618.8,221.7 618.6,221.9 C618.5,222.1 618.3,222.3 618.2,222.5 C618.0,222.6 617.9,222.8 617.7,222.9 C617.5,223.1 617.3,223.2 617.1,223.3 C616.9,223.5 616.7,223.6 616.5,223.7 C616.3,223.7 616.1,223.8 615.9,223.9 C615.6,223.9 615.4,223.9 615.2,224.0 C614.9,224.0 614.7,224.0 614.5,224.0 C614.2,223.9 614.0,223.9 613.7,223.9 C613.5,223.8 613.2,223.7 613.0,223.6 C612.7,223.6 612.5,223.5 612.2,223.3 C612.0,223.2 611.7,223.1 611.4,222.9 C611.2,222.8 610.9,222.6 610.7,222.4 C610.5,222.2 610.2,222.1 610.0,221.8 C609.7,221.6 609.5,221.4 609.3,221.2 C609.1,220.9 608.8,220.7 608.6,220.4 C608.4,220.2 608.2,219.9 608.0,219.6 C607.8,219.4 607.5,218.9 607.4,218.8"/>
<path d="M615.9,212.9 C616.0,213.0 616.1,213.2 616.2,213.4 C616.2,213.6 616.3,213.8 616.4,214.0 C616.4,214.1 616.5,214.3 616.5,214.5 C616.5,214.7 616.6,214.9 616.6,215.1 C616.6,215.2 616.6,215.4 616.6,215.6 C616.7,215.8 616.7,216.0 616.7,216.1 C616.6,216.3 616.6,216.5 616.6,216.6 C616.6,216.8 616.6,217.0 616.5,217.1 C616.5,217.3 616.5,217.4 616.4,217.6 C616.4,217.7 616.3,217.9 616.2,218.0 C616.2,218.1 616.1,218.3 616.0,218.4 C615.9,218.5 615.9,218.6 615.8,218.7 C615.7,218.9 615.6,219.0 615.5,219.0 C615.4,219.1 615.3,219.2 615.2,219.3 C615.1,219.4 614.9,219.4 614.8,219.5 C614.7,219.5 614.6,219.6 614.5,219.6 C614.3,219.7 614.2,219.7 614.1,219.7 C613.9,219.7 613.8,219.7 613.6,219.7 C613.5,219.7 613.4,219.7 613.2,219.7 C613.1,219.7 612.9,219.7 612.8,219.6 C612.6,219.6 612.5,219.5 612.4,219.5 C612.2,219.4 612.1,219.4 611.9,219.3 C611.8,219.2 611.6,219.1 611.5,219.0 C611.4,218.9 611.2,218.8 611.1,218.7 C610.9,218.6 610.8,218.5 610.7,218.4 C610.5,218.3 610.4,218.1 610.3,218.0 C610.2,217.9 610.1,217.7 609.9,217.6 C609.8,217.4 609.7,217.3 609.6,217.1 C609.5,216.9 609.4,216.8 609.3,216.6 C609.2,216.5 609.1,216.3 609.1,216.1 C609.0,215.9 608.9,215.8 608.8,215.6 C608.8,215.4 608.7,215.2 608.6,215.0 C608.6,214.9 608.5,214.7 608.5,214.5 C608.5,214.3 608.4,214.1 608.4,213.9 C608.4,213.8 608.4,213.6 608.4,213.4 C608.3,213.2 608.3,213.0 608.3,212.9 C608.4,212.7 608.4,212.5 608.4,212.4 C608.4,212.2 608.4,212.0 608.5,211.9 C608.5,211.7 608.5,211.6 608.6,211.4 C608.6,211.3 608.7,211.1 608.8,211.0 C608.8,210.9 608.9,210.7 609.0,210.6 C609.1,210.5 609.1,210.4 609.2,210.3 C609.3,210.1 609.4,210.0 609.5,210.0 C609.6,209.9 609.7,209.8 609.8,209.7 C609.9,209.6 610.1,209.6 610.2,209.5 C610.3,209.5 610.4,209.4 610.5,209.4 C610.7,209.3 610.8,209.3 610.9,209.3 C611.1,209.3 611.2,209.3 611.4,209.3 C611.5,209.3 611.6,209.3 611.8,209.3 C611.9,209.3 612.1,209.3 612.2,209.4 C612.4,209.4 612.5,209.5 612.6,209.5 C612.8,209.6 612.9,209.6 613.1,209.7 C613.2,209.8 613.4,209.9 613.5,210.0 C613.6,210.1 613.8,210.2 613.9,210.3 C614.1,210.4 614.2,210.5 614.3,210.6 C614.5,210.7 614.6,210.9 614.7,211.0 C614.8,211.1 614.9,211.3 615.1,211.4 C615.2,211.6 615.3,211.7 615.4,211.9 C615.5,212.1 615.6,212.2 615.7,212.4 C615.8,212.5 615.9,212.8 615.9,212.9"/>
<polyline points="596.0,226.5 609.0,218.0"/>
<polyline points="506.0,836.0 540.0,818.0"/>
<path d="M538.0,789.0 C539.3,790.2 544.0,793.2 546.0,796.0 C548.0,798.8 549.7,803.0 550.0,806.0 C550.3,809.0 549.7,812.0 548.0,814.0 C546.3,816.0 541.3,817.3 540.0,818.0"/>
<polyline points="540.0,818.0 584.0,844.0"/>
<polyline points="570.0,762.6 636.0,798.0 640.4,797.8"/>
<polyline points="552.0,776.0 572.0,764.0"/>
<polyline points="548.0,792.0 610.0,828.0"/>
<polyline points="627.8,834.7 716.0,884.2"/>
<polyline points="750.2,866.2 798.0,897.0"/>
<path d="M508.0,785.1 L507.1,785.5 L506.2,785.9 L505.2,786.2 L504.2,786.5 L503.2,786.7 L502.1,786.8 L501.0,786.8 L499.9,786.7 L498.8,786.6 L497.7,786.4 L496.6,786.1 L495.4,785.8 L494.3,785.4 L493.1,784.9 L492.0,784.4 L490.9,783.8 L489.7,783.1 L488.6,782.3 L487.5,781.5 L486.5,780.7 L485.4,779.8 L484.4,778.8 L483.4,777.8 L482.4,776.7 L481.5,775.6 L480.6,774.4 L479.7,773.2 L478.9,772.0 L478.1,770.7 L477.4,769.4 L476.7,768.1 L476.1,766.7 L475.5,765.4 L475.0,764.0 L474.5,762.6 L474.1,761.2 L473.7,759.8 L473.4,758.4 L473.1,757.0 L472.9,755.6 L472.8,754.2 L472.7,752.9 L472.7,751.5 L472.7,750.2 L472.8,748.9 L473.0,747.7 L473.2,746.4 L473.5,745.2 L473.8,744.1 L474.2,743.0 L474.7,741.9 L475.2,740.9 L475.7,740.0 L476.3,739.1 L477.0,738.2 L477.7,737.4 L478.4,736.7 L479.2,736.0 L480.1,735.5 L481.0,734.9 L521.0,712.9 L521.9,712.5 L522.8,712.1 L523.8,711.8 L524.8,711.5 L525.8,711.3 L526.9,711.2 L528.0,711.2 L529.1,711.3 L530.2,711.4 L531.3,711.6 L532.4,711.9 L533.6,712.2 L534.7,712.6 L535.9,713.1 L537.0,713.6 L538.1,714.2 L539.3,714.9 L540.4,715.7 L541.5,716.5 L542.5,717.3 L543.6,718.2 L544.6,719.2 L545.6,720.2 L546.6,721.3 L547.5,722.4 L548.4,723.6 L549.3,724.8 L550.1,726.0 L550.9,727.3 L551.6,728.6 L552.3,729.9 L552.9,731.3 L553.5,732.6 L554.0,734.0 L554.5,735.4 L554.9,736.8 L555.3,738.2 L555.6,739.6 L555.9,741.0 L556.1,742.4 L556.2,743.8 L556.3,745.1 L556.3,746.5 L556.3,747.8 L556.2,749.1 L556.0,750.3 L555.8,751.6 L555.5,752.8 L555.2,753.9 L554.8,755.0 L554.3,756.1 L553.8,757.1 L553.3,758.0 L552.7,758.9 L552.0,759.8 L551.3,760.6 L550.6,761.3 L549.8,762.0 L548.9,762.5 L548.0,763.1 Z" fill="#fff"/>
<ellipse cx="494.5" cy="760.0" rx="19.5" ry="28.5" transform="rotate(-28 494.5 760.0)" fill="#fff"/>
<path d="M480.7,764.1 C480.6,763.7 480.1,762.5 479.9,761.7 C479.6,760.9 479.4,760.2 479.2,759.4 C479.0,758.6 478.8,757.8 478.7,757.0 C478.6,756.3 478.5,755.5 478.4,754.8 C478.3,754.0 478.3,753.3 478.3,752.5 C478.3,751.8 478.3,751.1 478.4,750.4 C478.5,749.7 478.6,749.0 478.7,748.4 C478.8,747.7 479.0,747.1 479.1,746.5 C479.3,745.9 479.5,745.3 479.8,744.8 C480.0,744.2 480.3,743.7 480.6,743.2 C480.9,742.8 481.3,742.3 481.6,741.9 C482.0,741.5 482.3,741.1 482.8,740.7 C483.2,740.4 483.6,740.1 484.0,739.8 C484.5,739.6 485.0,739.3 485.5,739.1 C486.0,738.9 486.5,738.8 487.0,738.7 C487.5,738.6 488.1,738.5 488.6,738.5 C489.2,738.5 489.7,738.5 490.3,738.5 C490.9,738.6 491.5,738.7 492.1,738.8 C492.7,738.9 493.3,739.1 493.9,739.3 C494.5,739.6 495.1,739.8 495.7,740.1 C496.3,740.4 496.9,740.7 497.5,741.1 C498.1,741.5 498.8,741.9 499.3,742.3 C499.9,742.8 500.5,743.2 501.1,743.7 C501.7,744.2 502.3,744.8 502.8,745.3 C503.4,745.9 503.9,746.5 504.4,747.1 C505.0,747.7 505.5,748.4 506.0,749.0 C506.5,749.7 506.9,750.4 507.4,751.1 C507.8,751.8 508.3,752.5 508.7,753.3 C509.1,754.0 509.5,754.7 509.8,755.5 C510.2,756.3 510.5,757.0 510.8,757.8 C511.1,758.6 511.4,759.4 511.6,760.1 C511.9,760.9 512.1,761.7 512.3,762.5 C512.5,763.3 512.6,764.1 512.7,764.8 C512.9,765.6 512.9,766.4 513.0,767.1 C513.1,767.9 513.1,768.6 513.1,769.3 C513.1,770.0 513.0,770.7 513.0,771.4 C512.9,772.1 512.8,772.8 512.7,773.4 C512.5,774.1 512.4,774.7 512.2,775.3 C512.0,775.9 511.8,776.5 511.5,777.0 C511.3,777.5 511.0,778.0 510.7,778.5 C510.4,779.0 510.0,779.4 509.7,779.8 C509.3,780.3 508.9,780.6 508.5,781.0 C508.1,781.3 507.7,781.6 507.2,781.9 C506.7,782.1 506.0,782.4 505.8,782.5"/>
<path d="M477.6,741.7 C477.8,741.4 478.3,740.6 478.8,740.0 C479.2,739.5 479.6,739.0 480.1,738.6 C480.6,738.2 481.1,737.8 481.7,737.4 C482.2,737.1 482.8,736.8 483.3,736.5 C483.9,736.3 484.5,736.0 485.2,735.9 C485.8,735.7 486.5,735.6 487.1,735.6 C487.8,735.5 488.5,735.5 489.2,735.5 C489.9,735.6 490.9,735.7 491.3,735.8"/>
<path d="M520.8,778.8 C518.3,777.0 523.0,774.0 522.9,771.0 C522.8,768.0 520.4,763.4 520.2,760.8 C520.1,758.2 520.9,756.9 522.0,755.4 C523.1,753.9 524.1,753.3 526.8,751.8 C529.5,750.2 534.6,746.2 538.2,746.1 C541.8,746.0 546.3,749.4 548.4,751.2 C550.5,753.1 547.2,755.3 550.8,757.2 C554.4,759.1 566.8,761.3 570.0,762.6 C573.2,763.9 575.3,761.8 570.0,765.0 C564.7,768.2 546.2,779.7 538.0,782.0 C529.8,784.3 523.3,780.6 520.8,778.8 Z" fill="#fff" stroke="none"/>
<path d="M520.8,778.8 C521.1,777.5 523.0,774.0 522.9,771.0 C522.8,768.0 520.4,763.4 520.2,760.8 C520.1,758.2 520.9,756.9 522.0,755.4 C523.1,753.9 525.0,752.8 526.8,751.8 C528.6,750.8 531.8,749.5 532.8,749.1"/>
<path d="M538.2,746.1 C539.1,746.2 541.9,746.1 543.6,747.0 C545.3,747.9 547.2,749.5 548.4,751.2 C549.6,752.9 550.4,756.2 550.8,757.2"/>
<polyline points="527.4,761.4 537.6,755.1"/>
<polyline points="530.1,766.2 538.2,781.5"/>
<polyline points="544.8,756.0 570.0,762.6"/>
<polyline points="414.0,821.0 530.0,840.0 580.0,848.0"/>
<polyline points="594.0,850.0 647.6,858.1"/>
<path d="M647.6,858.1 C648.7,857.4 651.9,854.4 654.0,854.0 C656.1,853.6 659.0,855.7 660.0,856.0"/>
<path d="M392.0,858.0 C393.7,858.5 392.3,860.0 402.0,861.0 C411.7,862.0 428.7,861.8 450.0,864.0 C471.3,866.2 516.3,872.0 530.0,874.0 C543.7,876.0 531.7,875.7 532.0,876.0"/>
<polyline points="550.0,879.0 590.0,884.2 665.6,897.7"/>
<path d="M665.6,897.7 C667.4,898.5 672.8,901.8 676.4,902.2 C680.0,902.7 684.2,901.6 687.2,900.4 C690.2,899.2 693.2,895.9 694.4,895.0"/>
<path d="M656.6,862.6 C659.3,864.4 668.3,869.5 672.8,873.4 C677.3,877.3 681.5,882.4 683.6,886.0 C685.7,889.6 686.0,892.3 685.4,895.0 C684.8,897.7 680.9,900.8 680.0,902.0"/>
<polyline points="466.0,829.0 538.0,789.0"/>
<path d="M379.1,862.1 L378.2,862.6 L377.3,863.0 L376.3,863.3 L375.4,863.6 L374.3,863.8 L373.3,863.9 L372.2,864.0 L371.1,864.0 L370.0,863.9 L368.9,863.7 L367.8,863.5 L366.7,863.1 L365.5,862.8 L364.4,862.3 L363.3,861.8 L362.1,861.2 L361.0,860.5 L359.9,859.8 L358.8,859.0 L357.7,858.2 L356.6,857.2 L355.6,856.3 L354.6,855.3 L353.6,854.2 L352.7,853.1 L351.7,851.9 L350.8,850.7 L350.0,849.5 L349.2,848.2 L348.4,846.9 L347.7,845.6 L347.1,844.3 L346.4,842.9 L345.9,841.5 L345.4,840.1 L344.9,838.7 L344.5,837.3 L344.1,835.9 L343.8,834.5 L343.6,833.1 L343.4,831.7 L343.3,830.3 L343.3,828.9 L343.3,827.6 L343.3,826.3 L343.4,825.0 L343.6,823.7 L343.9,822.5 L344.2,821.4 L344.5,820.2 L344.9,819.1 L345.4,818.1 L345.9,817.1 L346.5,816.2 L347.1,815.3 L347.8,814.5 L348.5,813.8 L349.2,813.1 L350.0,812.5 L350.9,811.9 L390.9,787.9 L391.8,787.4 L392.7,787.0 L393.7,786.7 L394.6,786.4 L395.7,786.2 L396.7,786.1 L397.8,786.0 L398.9,786.0 L400.0,786.1 L401.1,786.3 L402.2,786.5 L403.3,786.9 L404.5,787.2 L405.6,787.7 L406.7,788.2 L407.9,788.8 L409.0,789.5 L410.1,790.2 L411.2,791.0 L412.3,791.8 L413.4,792.8 L414.4,793.7 L415.4,794.7 L416.4,795.8 L417.3,796.9 L418.3,798.1 L419.2,799.3 L420.0,800.5 L420.8,801.8 L421.6,803.1 L422.3,804.4 L422.9,805.7 L423.6,807.1 L424.1,808.5 L424.6,809.9 L425.1,811.3 L425.5,812.7 L425.9,814.1 L426.2,815.5 L426.4,816.9 L426.6,818.3 L426.7,819.7 L426.7,821.1 L426.7,822.4 L426.7,823.7 L426.6,825.0 L426.4,826.3 L426.1,827.5 L425.8,828.6 L425.5,829.8 L425.1,830.9 L424.6,831.9 L424.1,832.9 L423.5,833.8 L422.9,834.7 L422.2,835.5 L421.5,836.2 L420.8,836.9 L420.0,837.5 L419.1,838.1 Z" fill="#fff"/>
<ellipse cx="365.0" cy="837.0" rx="19.3" ry="28.8" transform="rotate(-28 365.0 837.0)" fill="#fff"/>
<path d="M351.2,841.1 C351.1,840.7 350.6,839.5 350.4,838.7 C350.1,837.9 349.9,837.2 349.7,836.4 C349.5,835.6 349.3,834.8 349.2,834.0 C349.1,833.3 349.0,832.5 348.9,831.8 C348.8,831.0 348.8,830.3 348.8,829.5 C348.8,828.8 348.8,828.1 348.9,827.4 C349.0,826.7 349.1,826.0 349.2,825.4 C349.3,824.7 349.5,824.1 349.6,823.5 C349.8,822.9 350.0,822.3 350.3,821.8 C350.5,821.2 350.8,820.7 351.1,820.2 C351.4,819.8 351.8,819.3 352.1,818.9 C352.5,818.5 352.8,818.1 353.3,817.7 C353.7,817.4 354.1,817.1 354.5,816.8 C355.0,816.6 355.5,816.3 356.0,816.1 C356.5,815.9 357.0,815.8 357.5,815.7 C358.0,815.6 358.6,815.5 359.1,815.5 C359.7,815.5 360.2,815.5 360.8,815.5 C361.4,815.6 362.0,815.7 362.6,815.8 C363.2,815.9 363.8,816.1 364.4,816.3 C365.0,816.6 365.6,816.8 366.2,817.1 C366.8,817.4 367.4,817.7 368.0,818.1 C368.6,818.5 369.3,818.9 369.8,819.3 C370.4,819.8 371.0,820.2 371.6,820.7 C372.2,821.2 372.8,821.8 373.3,822.3 C373.9,822.9 374.4,823.5 374.9,824.1 C375.5,824.7 376.0,825.4 376.5,826.0 C377.0,826.7 377.4,827.4 377.9,828.1 C378.3,828.8 378.8,829.5 379.2,830.3 C379.6,831.0 380.0,831.7 380.3,832.5 C380.7,833.3 381.0,834.0 381.3,834.8 C381.6,835.6 381.9,836.4 382.1,837.1 C382.4,837.9 382.6,838.7 382.8,839.5 C383.0,840.3 383.1,841.1 383.2,841.8 C383.4,842.6 383.4,843.4 383.5,844.1 C383.6,844.9 383.6,845.6 383.6,846.3 C383.6,847.0 383.5,847.7 383.5,848.4 C383.4,849.1 383.3,849.8 383.2,850.4 C383.0,851.1 382.9,851.7 382.7,852.3 C382.5,852.9 382.3,853.5 382.0,854.0 C381.8,854.5 381.5,855.0 381.2,855.5 C380.9,856.0 380.5,856.4 380.2,856.8 C379.8,857.3 379.4,857.6 379.0,858.0 C378.6,858.3 378.2,858.6 377.7,858.9 C377.2,859.1 376.5,859.4 376.3,859.5"/>
<path d="M348.1,818.7 C348.3,818.4 348.8,817.6 349.3,817.0 C349.7,816.5 350.1,816.0 350.6,815.6 C351.1,815.2 351.6,814.8 352.2,814.4 C352.7,814.1 353.3,813.8 353.8,813.5 C354.4,813.3 355.0,813.0 355.7,812.9 C356.3,812.7 357.0,812.6 357.6,812.6 C358.3,812.5 359.0,812.5 359.7,812.5 C360.4,812.6 361.4,812.7 361.8,812.8"/>
<path d="M391.6,858.1 C389.4,855.2 393.2,848.6 393.8,843.8 C394.4,839.0 393.8,833.0 394.9,829.5 C396.0,826.0 398.0,824.4 400.4,822.9 C402.8,821.4 406.9,821.0 409.2,820.7 C411.5,820.4 408.9,820.1 414.0,821.0 C419.1,821.9 435.7,819.3 440.0,826.2 C444.3,833.1 445.5,856.6 440.0,862.5 C434.5,868.4 415.1,862.1 407.0,861.4 C398.9,860.7 393.8,861.0 391.6,858.1 Z" fill="#fff" stroke="none"/>
<path d="M391.6,858.1 C392.0,855.7 393.2,848.6 393.8,843.8 C394.4,839.0 393.8,833.0 394.9,829.5 C396.0,826.0 398.0,824.4 400.4,822.9 C402.8,821.4 407.7,821.1 409.2,820.7"/>
<path d="M402.6,852.6 C402.4,849.3 400.9,837.4 401.5,832.8 C402.1,828.2 403.9,826.8 405.9,825.1 C407.9,823.5 412.3,823.3 413.6,822.9"/>
<path d="M411.4,817.4 C412.2,817.6 414.5,817.8 416.0,818.5 C417.5,819.2 419.5,821.2 420.2,821.8"/>
<polyline points="413.6,822.9 440.0,826.2"/>
<polyline points="391.6,858.1 407.0,861.4 440.0,862.5"/>
<path d="M623.3,823.9 C623.6,822.2 623.5,817.5 625.1,814.0 C626.8,810.5 630.1,806.2 633.2,803.2 C636.4,800.2 640.7,797.0 644.0,796.0 C647.3,795.0 650.3,795.7 653.0,796.9 C655.7,798.1 658.1,800.1 660.2,803.2 C662.3,806.4 664.0,811.1 665.6,815.8 C667.2,820.5 667.8,826.9 670.0,831.6 C672.2,836.3 675.2,840.0 679.0,844.2 C682.8,848.4 686.6,851.5 692.5,856.8 C698.4,862.0 710.5,872.6 714.1,875.7"/>
<path d="M642.0,799.0 C643.7,799.0 649.0,797.8 652.0,799.0 C655.0,800.2 658.7,804.8 660.0,806.0"/>
<ellipse cx="648.5" cy="814" rx="6.5" ry="9" transform="rotate(-25 648.5 814)"/>
<path d="M648.0,807.1 C648.1,807.1 648.4,807.2 648.6,807.3 C648.8,807.3 649.0,807.4 649.2,807.5 C649.4,807.6 649.6,807.8 649.7,807.9 C649.9,808.0 650.1,808.1 650.3,808.3 C650.5,808.4 650.7,808.6 650.8,808.8 C651.0,808.9 651.2,809.1 651.4,809.3 C651.5,809.5 651.7,809.7 651.8,809.9 C652.0,810.1 652.1,810.3 652.3,810.5 C652.4,810.7 652.5,811.0 652.7,811.2 C652.8,811.4 652.9,811.7 653.0,811.9 C653.1,812.1 653.2,812.4 653.3,812.6 C653.4,812.9 653.5,813.1 653.6,813.3 C653.7,813.6 653.7,813.8 653.8,814.1 C653.8,814.3 653.9,814.6 653.9,814.8 C654.0,815.1 654.0,815.3 654.0,815.6 C654.0,815.8 654.0,816.1 654.0,816.3 C654.0,816.5 654.0,816.8 654.0,817.0 C654.0,817.2 653.9,817.4 653.9,817.6 C653.8,817.9 653.8,818.1 653.7,818.3 C653.7,818.5 653.6,818.6 653.5,818.8 C653.4,819.0 653.3,819.2 653.2,819.4 C653.1,819.5 653.0,819.7 652.9,819.8 C652.8,820.0 652.7,820.1 652.5,820.2 C652.4,820.3 652.3,820.4 652.1,820.5 C652.0,820.6 651.7,820.8 651.7,820.8"/>
<path d="M672.8,779.8 C674.0,779.2 677.3,776.2 680.0,776.2 C682.7,776.2 686.3,777.7 689.0,779.8 C691.7,781.9 694.4,785.5 696.2,788.8 C698.0,792.1 698.6,795.7 699.8,799.6 C701.0,803.5 701.6,808.2 703.4,812.2 C705.2,816.2 707.1,819.7 710.5,823.5 C713.9,827.3 717.2,829.8 724.0,835.2 C730.8,840.6 746.5,852.5 751.0,855.9"/>
<polyline points="751.0,855.9 751.5,856.8 751.0,864.0 747.4,868.5 717.7,885.6 714.6,884.7 714.1,875.7"/>
<path d="M682.0,778.5 C683.3,779.1 687.5,779.8 690.0,782.0 C692.5,784.2 695.8,790.3 697.0,792.0"/>
<ellipse cx="682.7" cy="795.1" rx="6.5" ry="9" transform="rotate(-25 682.7 795.1)"/>
<path d="M682.2,788.2 C682.3,788.2 682.6,788.3 682.8,788.4 C683.0,788.4 683.2,788.5 683.4,788.6 C683.6,788.7 683.8,788.9 683.9,789.0 C684.1,789.1 684.3,789.2 684.5,789.4 C684.7,789.5 684.9,789.7 685.0,789.9 C685.2,790.0 685.4,790.2 685.6,790.4 C685.7,790.6 685.9,790.8 686.0,791.0 C686.2,791.2 686.3,791.4 686.5,791.6 C686.6,791.8 686.7,792.1 686.9,792.3 C687.0,792.5 687.1,792.8 687.2,793.0 C687.3,793.2 687.4,793.5 687.5,793.7 C687.6,794.0 687.7,794.2 687.8,794.4 C687.9,794.7 687.9,794.9 688.0,795.2 C688.0,795.4 688.1,795.7 688.1,795.9 C688.2,796.2 688.2,796.4 688.2,796.7 C688.2,796.9 688.2,797.2 688.2,797.4 C688.2,797.6 688.2,797.9 688.2,798.1 C688.2,798.3 688.1,798.5 688.1,798.7 C688.0,799.0 688.0,799.2 687.9,799.4 C687.9,799.6 687.8,799.7 687.7,799.9 C687.6,800.1 687.5,800.3 687.4,800.5 C687.3,800.6 687.2,800.8 687.1,800.9 C687.0,801.1 686.9,801.2 686.7,801.3 C686.6,801.4 686.5,801.5 686.3,801.6 C686.2,801.7 685.9,801.9 685.9,801.9"/>
<polyline points="718.2,834.3 746.5,856.8"/>
<path d="M746.5,856.8 C746.8,856.9 748.1,856.5 748.3,857.7 C748.4,858.9 748.8,862.1 747.4,864.0 C746.0,865.9 741.4,868.2 740.2,869.0"/>
<polyline points="718.6,882.0 727.6,876.2"/>
<polyline points="684.9,853.7 717.3,874.8 717.7,882.0"/>
<polyline points="667.4,817.6 746.5,862.7"/>
<path d="M664.0,898.0 C670.0,900.7 689.0,909.0 700.0,914.0 C711.0,919.0 719.3,923.5 730.0,928.0 C740.7,932.5 755.7,937.3 764.0,941.0 C772.3,944.7 774.7,947.2 780.0,950.0 C785.3,952.8 790.0,956.2 796.0,958.0 C802.0,959.8 810.0,961.3 816.0,961.0 C822.0,960.7 828.0,957.8 832.0,956.0 C836.0,954.2 838.0,952.3 840.0,950.0 C842.0,947.7 843.5,945.3 844.0,942.0 C844.5,938.7 844.3,933.7 843.0,930.0 C841.7,926.3 843.2,925.0 836.0,920.0 C828.8,915.0 806.0,903.3 800.0,900.0"/>
<polyline points="694.0,910.0 718.0,924.0"/>
<polyline points="696.0,902.0 774.0,938.0"/>
<ellipse cx="813" cy="938" rx="24" ry="11" transform="rotate(0 813 938)"/>
<path d="M784.0,935.3 C784.2,935.0 784.6,934.1 785.0,933.5 C785.4,932.9 785.8,932.3 786.3,931.8 C786.8,931.2 787.4,930.6 787.9,930.1 C788.5,929.6 789.2,929.1 789.8,928.6 C790.5,928.1 791.2,927.6 792.0,927.1 C792.8,926.7 793.6,926.3 794.4,925.9 C795.2,925.5 796.1,925.1 797.0,924.8 C797.9,924.4 798.8,924.1 799.8,923.8 C800.8,923.6 802.2,923.2 802.7,923.1"/>
<path d="M823.3,923.1 C823.8,923.2 825.3,923.6 826.3,923.9 C827.3,924.2 828.3,924.5 829.2,924.9 C830.2,925.2 831.1,925.6 831.9,926.0 C832.8,926.4 833.6,926.9 834.4,927.4 C835.2,927.8 835.9,928.4 836.6,928.9 C837.3,929.4 837.9,929.9 838.5,930.5 C839.1,931.1 839.6,931.7 840.1,932.3 C840.6,932.9 841.0,933.5 841.4,934.1 C841.7,934.7 842.0,935.4 842.3,936.0 C842.5,936.7 842.7,937.3 842.8,938.0 C842.9,938.7 843.0,939.7 843.0,940.0"/>
<path d="M842.0,948.7 C841.8,949.0 841.4,949.9 841.0,950.5 C840.6,951.1 840.1,951.7 839.6,952.3 C839.1,952.9 838.5,953.5 837.9,954.0 C837.3,954.5 836.7,955.1 836.0,955.6 C835.3,956.1 834.5,956.6 833.7,957.0 C833.0,957.5 832.1,957.9 831.3,958.3 C830.4,958.7 829.5,959.0 828.6,959.4 C827.6,959.7 826.7,960.0 825.7,960.3 C824.7,960.6 823.7,960.8 822.6,961.0 C821.6,961.3 820.6,961.4 819.5,961.6 C818.4,961.7 817.3,961.8 816.3,961.9 C815.2,962.0 813.5,962.0 813.0,962.0"/>
<polyline points="796.0,903.0 740.0,916.0 732.0,914.0"/>
<polyline points="719.0,890.0 735.0,910.0"/>
<polyline points="719.6,889.6 735.8,911.2"/>
<polyline points="522.0,887.0 571.0,860.0"/>
<polyline points="578.0,856.0 588.0,850.0"/>
<polyline points="594.0,845.0 646.0,817.0"/>
<polyline points="609.0,660.0 575.9,679.6 609.7,726.4"/>
<polyline points="614.2,732.2 622.0,742.6"/>
<polyline points="625.9,749.1 666.2,804.4"/>
<polyline points="666.9,626.9 686.4,615.9 680.5,688.0"/>
<polyline points="681.2,695.2 679.2,707.5"/>
<polyline points="678.6,716.0 671.4,800.5 677.9,797.3"/>
<polyline points="661.0,791.4 670.3,779.7"/>
<polyline points="699.8,785.2 738.5,762.7"/>
<polyline points="358.0,713.0 338.0,724.4 448.0,788.0 429.0,799.0"/>
<polyline points="476.3,1226.5 635.8,1137.4"/>
<path d="M635.8,1137.4 C636.2,1136.7 637.1,1132.6 638.0,1133.0 C638.9,1133.4 640.9,1137.6 641.3,1139.6 C641.7,1141.6 640.4,1144.1 640.2,1145.0"/>
<polyline points="492.8,1232.0 640.2,1147.3"/>
<polyline points="640.2,1147.3 660.0,1165.0 740.0,1240.0"/>
<path d="M740.0,1240.0 C741.3,1242.0 747.0,1248.0 748.0,1252.0 C749.0,1256.0 749.0,1259.7 746.0,1264.0 C743.0,1268.3 737.7,1274.0 730.0,1278.0 C722.3,1282.0 710.0,1286.3 700.0,1288.0 C690.0,1289.7 681.3,1289.0 670.0,1288.0 C658.7,1287.0 638.3,1283.0 632.0,1282.0"/>
<path d="M746.0,1232.0 C746.5,1233.5 748.5,1238.0 749.0,1241.0 C749.5,1244.0 749.0,1248.5 749.0,1250.0"/>
<path d="M557.7,1090.2 L556.8,1090.7 L555.9,1091.1 L554.9,1091.4 L553.9,1091.6 L552.8,1091.8 L551.8,1091.9 L550.7,1092.0 L549.6,1091.9 L548.5,1091.8 L547.4,1091.7 L546.3,1091.4 L545.1,1091.1 L544.0,1090.7 L542.8,1090.2 L541.7,1089.7 L540.6,1089.1 L539.4,1088.4 L538.3,1087.7 L537.2,1086.9 L536.2,1086.0 L535.1,1085.1 L534.1,1084.2 L533.1,1083.1 L532.1,1082.1 L531.2,1081.0 L530.3,1079.8 L529.4,1078.6 L528.6,1077.4 L527.8,1076.1 L527.0,1074.8 L526.3,1073.5 L525.7,1072.2 L525.1,1070.8 L524.6,1069.4 L524.1,1068.0 L523.6,1066.6 L523.3,1065.2 L522.9,1063.8 L522.7,1062.4 L522.5,1061.0 L522.3,1059.7 L522.2,1058.3 L522.2,1057.0 L522.2,1055.6 L522.3,1054.3 L522.5,1053.1 L522.7,1051.8 L522.9,1050.6 L523.3,1049.5 L523.7,1048.4 L524.1,1047.3 L524.6,1046.3 L525.1,1045.3 L525.7,1044.4 L526.4,1043.6 L527.1,1042.8 L527.8,1042.0 L528.6,1041.4 L529.4,1040.8 L530.3,1040.2 L570.8,1017.2 L571.7,1016.7 L572.6,1016.3 L573.6,1016.0 L574.6,1015.8 L575.7,1015.6 L576.7,1015.5 L577.8,1015.4 L578.9,1015.5 L580.0,1015.6 L581.1,1015.7 L582.2,1016.0 L583.4,1016.3 L584.5,1016.7 L585.7,1017.2 L586.8,1017.7 L587.9,1018.3 L589.1,1019.0 L590.2,1019.7 L591.3,1020.5 L592.3,1021.4 L593.4,1022.3 L594.4,1023.2 L595.4,1024.3 L596.4,1025.3 L597.3,1026.4 L598.2,1027.6 L599.1,1028.8 L599.9,1030.0 L600.7,1031.3 L601.5,1032.6 L602.2,1033.9 L602.8,1035.2 L603.4,1036.6 L603.9,1038.0 L604.4,1039.4 L604.9,1040.8 L605.2,1042.2 L605.6,1043.6 L605.8,1045.0 L606.0,1046.4 L606.2,1047.7 L606.3,1049.1 L606.3,1050.4 L606.3,1051.8 L606.2,1053.1 L606.0,1054.3 L605.8,1055.6 L605.6,1056.8 L605.2,1057.9 L604.8,1059.0 L604.4,1060.1 L603.9,1061.1 L603.4,1062.1 L602.8,1063.0 L602.1,1063.8 L601.4,1064.6 L600.7,1065.4 L599.9,1066.0 L599.1,1066.6 L598.2,1067.2 Z" fill="#fff"/>
<ellipse cx="544.0" cy="1065.2" rx="19.5" ry="28.5" transform="rotate(-28 544.0 1065.2)" fill="#fff"/>
<path d="M530.2,1069.3 C530.1,1068.9 529.6,1067.7 529.4,1066.9 C529.1,1066.1 528.9,1065.4 528.7,1064.6 C528.5,1063.8 528.3,1063.0 528.2,1062.2 C528.1,1061.5 528.0,1060.7 527.9,1060.0 C527.8,1059.2 527.8,1058.5 527.8,1057.7 C527.8,1057.0 527.8,1056.3 527.9,1055.6 C528.0,1054.9 528.1,1054.2 528.2,1053.6 C528.3,1052.9 528.5,1052.3 528.6,1051.7 C528.8,1051.1 529.0,1050.5 529.3,1050.0 C529.5,1049.4 529.8,1048.9 530.1,1048.4 C530.4,1048.0 530.8,1047.5 531.1,1047.1 C531.5,1046.7 531.8,1046.3 532.3,1045.9 C532.7,1045.6 533.1,1045.3 533.5,1045.0 C534.0,1044.8 534.5,1044.5 535.0,1044.3 C535.5,1044.1 536.0,1044.0 536.5,1043.9 C537.0,1043.8 537.6,1043.7 538.1,1043.7 C538.7,1043.7 539.2,1043.7 539.8,1043.7 C540.4,1043.8 541.0,1043.9 541.6,1044.0 C542.2,1044.1 542.8,1044.3 543.4,1044.5 C544.0,1044.8 544.6,1045.0 545.2,1045.3 C545.8,1045.6 546.4,1045.9 547.0,1046.3 C547.6,1046.7 548.3,1047.1 548.8,1047.5 C549.4,1048.0 550.0,1048.4 550.6,1048.9 C551.2,1049.4 551.8,1050.0 552.3,1050.5 C552.9,1051.1 553.4,1051.7 553.9,1052.3 C554.5,1052.9 555.0,1053.6 555.5,1054.2 C556.0,1054.9 556.4,1055.6 556.9,1056.3 C557.3,1057.0 557.8,1057.7 558.2,1058.5 C558.6,1059.2 559.0,1059.9 559.3,1060.7 C559.7,1061.5 560.0,1062.2 560.3,1063.0 C560.6,1063.8 560.9,1064.6 561.1,1065.3 C561.4,1066.1 561.6,1066.9 561.8,1067.7 C562.0,1068.5 562.1,1069.3 562.2,1070.0 C562.4,1070.8 562.4,1071.6 562.5,1072.3 C562.6,1073.1 562.6,1073.8 562.6,1074.5 C562.6,1075.2 562.5,1075.9 562.5,1076.6 C562.4,1077.3 562.3,1078.0 562.2,1078.6 C562.0,1079.3 561.9,1079.9 561.7,1080.5 C561.5,1081.1 561.3,1081.7 561.0,1082.2 C560.8,1082.7 560.5,1083.2 560.2,1083.7 C559.9,1084.2 559.5,1084.6 559.2,1085.0 C558.8,1085.5 558.4,1085.8 558.0,1086.2 C557.6,1086.5 557.2,1086.8 556.7,1087.1 C556.2,1087.3 555.5,1087.6 555.3,1087.7"/>
<path d="M527.1,1046.9 C527.3,1046.6 527.8,1045.8 528.3,1045.2 C528.7,1044.7 529.1,1044.2 529.6,1043.8 C530.1,1043.4 530.6,1043.0 531.2,1042.6 C531.7,1042.3 532.3,1042.0 532.8,1041.7 C533.4,1041.5 534.0,1041.2 534.7,1041.1 C535.3,1040.9 536.0,1040.8 536.6,1040.8 C537.3,1040.7 538.0,1040.7 538.7,1040.7 C539.4,1040.8 540.4,1040.9 540.8,1041.0"/>
<path d="M572.0,1080.0 C572.5,1078.0 574.7,1077.0 576.0,1074.0 C577.3,1071.0 578.5,1065.0 580.0,1062.0 C581.5,1059.0 583.3,1057.5 585.0,1056.0 C586.7,1054.5 588.2,1053.3 590.0,1053.0 C591.8,1052.7 594.5,1053.0 596.0,1054.0 C597.5,1055.0 597.7,1057.0 599.0,1059.0 C600.3,1061.0 597.2,1059.2 604.0,1066.0 C610.8,1072.8 641.0,1093.3 640.0,1100.0 C639.0,1106.7 608.0,1108.2 598.0,1106.0 C588.0,1103.8 584.2,1090.3 580.0,1087.0 C575.8,1083.7 574.3,1087.2 573.0,1086.0 C571.7,1084.8 571.5,1082.0 572.0,1080.0 Z" fill="#fff" stroke="none"/>
<path d="M572.0,1080.0 C572.7,1079.0 574.7,1077.0 576.0,1074.0 C577.3,1071.0 578.5,1065.0 580.0,1062.0 C581.5,1059.0 583.3,1057.5 585.0,1056.0 C586.7,1054.5 588.2,1053.3 590.0,1053.0 C591.8,1052.7 594.7,1053.5 596.0,1054.0 C597.3,1054.5 597.7,1055.7 598.0,1056.0"/>
<path d="M583.0,1075.0 C583.7,1073.0 585.7,1065.7 587.0,1063.0 C588.3,1060.3 589.5,1059.7 591.0,1059.0 C592.5,1058.3 595.2,1059.0 596.0,1059.0"/>
<path d="M599.0,1059.0 C599.4,1059.3 600.8,1060.2 601.5,1061.0 C602.2,1061.8 602.8,1063.5 603.0,1064.0"/>
<path d="M572.0,1080.0 C572.3,1080.7 572.7,1083.0 574.0,1084.0 C575.3,1085.0 578.8,1086.0 580.0,1086.0 C581.2,1086.0 580.8,1084.3 581.0,1084.0"/>
<polyline points="603.6,1066.6 690.0,1144.0 764.0,1216.0"/>
<path d="M764.0,1216.0 C766.0,1218.7 773.0,1226.3 776.0,1232.0 C779.0,1237.7 781.2,1244.3 782.0,1250.0 C782.8,1255.7 782.0,1262.3 781.0,1266.0 C780.0,1269.7 776.8,1271.0 776.0,1272.0"/>
<path d="M580.0,1083.0 C581.7,1085.2 586.8,1092.2 590.0,1096.0 C593.2,1099.8 594.8,1101.8 599.0,1106.0 C603.2,1110.2 609.6,1116.0 615.0,1121.0 C620.4,1126.0 628.7,1133.8 631.4,1136.3"/>
<polyline points="428.0,1210.0 470.0,1224.0 560.0,1256.0 585.6,1264.0"/>
<polyline points="630.4,1281.6 632.0,1282.0"/>
<polyline points="346.0,1221.0 560.0,1290.0 630.0,1314.0"/>
<path d="M630.0,1314.0 C635.0,1315.3 648.2,1319.9 660.0,1322.0 C671.8,1324.1 694.0,1325.7 700.8,1326.4"/>
<path d="M319.1,1230.6 L318.2,1231.1 L317.3,1231.5 L316.3,1231.8 L315.4,1232.1 L314.3,1232.3 L313.3,1232.4 L312.2,1232.5 L311.1,1232.5 L310.0,1232.4 L308.9,1232.2 L307.8,1232.0 L306.7,1231.6 L305.5,1231.3 L304.4,1230.8 L303.3,1230.3 L302.1,1229.7 L301.0,1229.0 L299.9,1228.3 L298.8,1227.5 L297.7,1226.7 L296.6,1225.7 L295.6,1224.8 L294.6,1223.8 L293.6,1222.7 L292.7,1221.6 L291.7,1220.4 L290.8,1219.2 L290.0,1218.0 L289.2,1216.7 L288.4,1215.4 L287.7,1214.1 L287.1,1212.8 L286.4,1211.4 L285.9,1210.0 L285.4,1208.6 L284.9,1207.2 L284.5,1205.8 L284.1,1204.4 L283.8,1203.0 L283.6,1201.6 L283.4,1200.2 L283.3,1198.8 L283.3,1197.4 L283.3,1196.1 L283.3,1194.8 L283.4,1193.5 L283.6,1192.2 L283.9,1191.0 L284.2,1189.9 L284.5,1188.7 L284.9,1187.6 L285.4,1186.6 L285.9,1185.6 L286.5,1184.7 L287.1,1183.8 L287.8,1183.0 L288.5,1182.3 L289.2,1181.6 L290.0,1181.0 L290.9,1180.4 L330.9,1156.4 L331.8,1155.9 L332.7,1155.5 L333.7,1155.2 L334.6,1154.9 L335.7,1154.7 L336.7,1154.6 L337.8,1154.5 L338.9,1154.5 L340.0,1154.6 L341.1,1154.8 L342.2,1155.0 L343.3,1155.4 L344.5,1155.7 L345.6,1156.2 L346.7,1156.7 L347.9,1157.3 L349.0,1158.0 L350.1,1158.7 L351.2,1159.5 L352.3,1160.3 L353.4,1161.3 L354.4,1162.2 L355.4,1163.2 L356.4,1164.3 L357.3,1165.4 L358.3,1166.6 L359.2,1167.8 L360.0,1169.0 L360.8,1170.3 L361.6,1171.6 L362.3,1172.9 L362.9,1174.2 L363.6,1175.6 L364.1,1177.0 L364.6,1178.4 L365.1,1179.8 L365.5,1181.2 L365.9,1182.6 L366.2,1184.0 L366.4,1185.4 L366.6,1186.8 L366.7,1188.2 L366.7,1189.6 L366.7,1190.9 L366.7,1192.2 L366.6,1193.5 L366.4,1194.8 L366.1,1196.0 L365.8,1197.1 L365.5,1198.3 L365.1,1199.4 L364.6,1200.4 L364.1,1201.4 L363.5,1202.3 L362.9,1203.2 L362.2,1204.0 L361.5,1204.7 L360.8,1205.4 L360.0,1206.0 L359.1,1206.6 Z" fill="#fff"/>
<ellipse cx="305.0" cy="1205.5" rx="19.3" ry="28.8" transform="rotate(-28 305.0 1205.5)" fill="#fff"/>
<path d="M291.2,1209.6 C291.1,1209.2 290.6,1208.0 290.4,1207.2 C290.1,1206.4 289.9,1205.7 289.7,1204.9 C289.5,1204.1 289.3,1203.3 289.2,1202.5 C289.1,1201.8 289.0,1201.0 288.9,1200.3 C288.8,1199.5 288.8,1198.8 288.8,1198.0 C288.8,1197.3 288.8,1196.6 288.9,1195.9 C289.0,1195.2 289.1,1194.5 289.2,1193.9 C289.3,1193.2 289.5,1192.6 289.6,1192.0 C289.8,1191.4 290.0,1190.8 290.3,1190.3 C290.5,1189.7 290.8,1189.2 291.1,1188.7 C291.4,1188.3 291.8,1187.8 292.1,1187.4 C292.5,1187.0 292.8,1186.6 293.3,1186.2 C293.7,1185.9 294.1,1185.6 294.5,1185.3 C295.0,1185.1 295.5,1184.8 296.0,1184.6 C296.5,1184.4 297.0,1184.3 297.5,1184.2 C298.0,1184.1 298.6,1184.0 299.1,1184.0 C299.7,1184.0 300.2,1184.0 300.8,1184.0 C301.4,1184.1 302.0,1184.2 302.6,1184.3 C303.2,1184.4 303.8,1184.6 304.4,1184.8 C305.0,1185.1 305.6,1185.3 306.2,1185.6 C306.8,1185.9 307.4,1186.2 308.0,1186.6 C308.6,1187.0 309.3,1187.4 309.8,1187.8 C310.4,1188.3 311.0,1188.7 311.6,1189.2 C312.2,1189.7 312.8,1190.3 313.3,1190.8 C313.9,1191.4 314.4,1192.0 314.9,1192.6 C315.5,1193.2 316.0,1193.9 316.5,1194.5 C317.0,1195.2 317.4,1195.9 317.9,1196.6 C318.3,1197.3 318.8,1198.0 319.2,1198.8 C319.6,1199.5 320.0,1200.2 320.3,1201.0 C320.7,1201.8 321.0,1202.5 321.3,1203.3 C321.6,1204.1 321.9,1204.9 322.1,1205.6 C322.4,1206.4 322.6,1207.2 322.8,1208.0 C323.0,1208.8 323.1,1209.6 323.2,1210.3 C323.4,1211.1 323.4,1211.9 323.5,1212.6 C323.6,1213.4 323.6,1214.1 323.6,1214.8 C323.6,1215.5 323.5,1216.2 323.5,1216.9 C323.4,1217.6 323.3,1218.3 323.2,1218.9 C323.0,1219.6 322.9,1220.2 322.7,1220.8 C322.5,1221.4 322.3,1222.0 322.0,1222.5 C321.8,1223.0 321.5,1223.5 321.2,1224.0 C320.9,1224.5 320.5,1224.9 320.2,1225.3 C319.8,1225.8 319.4,1226.1 319.0,1226.5 C318.6,1226.8 318.2,1227.1 317.7,1227.4 C317.2,1227.6 316.5,1227.9 316.3,1228.0"/>
<path d="M288.1,1187.2 C288.3,1186.9 288.8,1186.1 289.3,1185.5 C289.7,1185.0 290.1,1184.5 290.6,1184.1 C291.1,1183.7 291.6,1183.3 292.2,1182.9 C292.7,1182.6 293.3,1182.3 293.8,1182.0 C294.4,1181.8 295.0,1181.5 295.7,1181.4 C296.3,1181.2 297.0,1181.1 297.6,1181.1 C298.3,1181.0 299.0,1181.0 299.7,1181.0 C300.4,1181.1 301.4,1181.2 301.8,1181.3"/>
<path d="M332.0,1218.0 C329.5,1213.7 330.3,1200.8 331.0,1196.0 C331.7,1191.2 333.8,1190.5 336.0,1189.0 C338.2,1187.5 341.2,1187.2 344.0,1187.0 C346.8,1186.8 346.8,1186.7 353.0,1188.0 C359.2,1189.3 376.3,1188.7 381.0,1195.0 C385.7,1201.3 386.8,1221.5 381.0,1226.0 C375.2,1230.5 354.2,1223.3 346.0,1222.0 C337.8,1220.7 334.5,1222.3 332.0,1218.0 Z" fill="#fff" stroke="none"/>
<path d="M332.0,1218.0 C331.9,1216.2 331.7,1210.7 331.5,1207.0 C331.3,1203.3 330.2,1199.0 331.0,1196.0 C331.8,1193.0 333.8,1190.5 336.0,1189.0 C338.2,1187.5 341.2,1187.2 344.0,1187.0 C346.8,1186.8 351.5,1187.8 353.0,1188.0"/>
<path d="M340.0,1220.0 C339.9,1218.2 339.7,1212.7 339.5,1209.0 C339.3,1205.3 338.6,1200.7 339.0,1198.0 C339.4,1195.3 340.2,1194.0 342.0,1193.0 C343.8,1192.0 348.0,1192.3 350.0,1192.0 C352.0,1191.7 353.3,1191.2 354.0,1191.0"/>
<polyline points="354.0,1191.0 381.0,1195.0"/>
<path d="M381.0,1218.0 C381.1,1214.2 381.3,1201.0 381.5,1195.0 C381.7,1189.0 381.4,1184.7 382.0,1182.0 C382.6,1179.3 383.7,1179.3 385.0,1179.0 C386.3,1178.7 389.2,1179.8 390.0,1180.0"/>
<polyline points="390.0,1180.0 408.0,1188.0 411.0,1190.0 416.0,1189.0"/>
<path d="M416.0,1189.0 C417.7,1190.5 423.8,1194.8 426.0,1198.0 C428.2,1201.2 428.7,1205.3 429.0,1208.0 C429.3,1210.7 430.2,1211.7 428.0,1214.0 C425.8,1216.3 418.3,1219.7 416.0,1222.0 C413.7,1224.3 415.3,1226.8 414.0,1228.0 C412.7,1229.2 409.0,1228.8 408.0,1229.0"/>
<polyline points="408.0,1229.0 386.0,1221.0"/>
<polyline points="412.0,1200.0 413.0,1224.0"/>
<path d="M399.4,1194.4 C399.5,1194.5 399.6,1194.7 399.7,1194.9 C399.7,1195.1 399.8,1195.3 399.9,1195.5 C399.9,1195.6 400.0,1195.8 400.0,1196.0 C400.0,1196.2 400.1,1196.4 400.1,1196.6 C400.1,1196.7 400.1,1196.9 400.1,1197.1 C400.2,1197.3 400.2,1197.5 400.2,1197.6 C400.1,1197.8 400.1,1198.0 400.1,1198.1 C400.1,1198.3 400.1,1198.5 400.0,1198.6 C400.0,1198.8 400.0,1198.9 399.9,1199.1 C399.9,1199.2 399.8,1199.4 399.7,1199.5 C399.7,1199.6 399.6,1199.8 399.5,1199.9 C399.4,1200.0 399.4,1200.1 399.3,1200.2 C399.2,1200.4 399.1,1200.5 399.0,1200.5 C398.9,1200.6 398.8,1200.7 398.7,1200.8 C398.6,1200.9 398.4,1200.9 398.3,1201.0 C398.2,1201.0 398.1,1201.1 398.0,1201.1 C397.8,1201.2 397.7,1201.2 397.6,1201.2 C397.4,1201.2 397.3,1201.2 397.1,1201.2 C397.0,1201.2 396.9,1201.2 396.7,1201.2 C396.6,1201.2 396.4,1201.2 396.3,1201.1 C396.1,1201.1 396.0,1201.0 395.9,1201.0 C395.7,1200.9 395.6,1200.9 395.4,1200.8 C395.3,1200.7 395.1,1200.6 395.0,1200.5 C394.9,1200.4 394.7,1200.3 394.6,1200.2 C394.4,1200.1 394.3,1200.0 394.2,1199.9 C394.0,1199.8 393.9,1199.6 393.8,1199.5 C393.7,1199.4 393.6,1199.2 393.4,1199.1 C393.3,1198.9 393.2,1198.8 393.1,1198.6 C393.0,1198.4 392.9,1198.3 392.8,1198.1 C392.7,1198.0 392.6,1197.8 392.6,1197.6 C392.5,1197.4 392.4,1197.3 392.3,1197.1 C392.3,1196.9 392.2,1196.7 392.1,1196.5 C392.1,1196.4 392.0,1196.2 392.0,1196.0 C392.0,1195.8 391.9,1195.6 391.9,1195.4 C391.9,1195.3 391.9,1195.1 391.9,1194.9 C391.8,1194.7 391.8,1194.5 391.8,1194.4 C391.9,1194.2 391.9,1194.0 391.9,1193.9 C391.9,1193.7 391.9,1193.5 392.0,1193.4 C392.0,1193.2 392.0,1193.1 392.1,1192.9 C392.1,1192.8 392.2,1192.6 392.3,1192.5 C392.3,1192.4 392.4,1192.2 392.5,1192.1 C392.6,1192.0 392.6,1191.9 392.7,1191.8 C392.8,1191.6 392.9,1191.5 393.0,1191.5 C393.1,1191.4 393.2,1191.3 393.3,1191.2 C393.4,1191.1 393.6,1191.1 393.7,1191.0 C393.8,1191.0 393.9,1190.9 394.0,1190.9 C394.2,1190.8 394.3,1190.8 394.4,1190.8 C394.6,1190.8 394.7,1190.8 394.9,1190.8 C395.0,1190.8 395.1,1190.8 395.3,1190.8 C395.4,1190.8 395.6,1190.8 395.7,1190.9 C395.9,1190.9 396.0,1191.0 396.1,1191.0 C396.3,1191.1 396.4,1191.1 396.6,1191.2 C396.7,1191.3 396.9,1191.4 397.0,1191.5 C397.1,1191.6 397.3,1191.7 397.4,1191.8 C397.6,1191.9 397.7,1192.0 397.8,1192.1 C398.0,1192.2 398.1,1192.4 398.2,1192.5 C398.3,1192.6 398.4,1192.8 398.6,1192.9 C398.7,1193.1 398.8,1193.2 398.9,1193.4 C399.0,1193.6 399.1,1193.7 399.2,1193.9 C399.3,1194.0 399.4,1194.3 399.4,1194.4"/>
<path d="M402.9,1211.3 C402.9,1211.4 403.1,1211.8 403.2,1212.1 C403.3,1212.4 403.4,1212.6 403.5,1212.9 C403.6,1213.2 403.7,1213.5 403.7,1213.8 C403.8,1214.1 403.8,1214.3 403.8,1214.6 C403.9,1214.9 403.9,1215.2 403.9,1215.5 C403.9,1215.8 403.9,1216.0 403.9,1216.3 C403.9,1216.6 403.8,1216.8 403.8,1217.1 C403.7,1217.4 403.7,1217.6 403.6,1217.9 C403.5,1218.1 403.5,1218.4 403.4,1218.6 C403.3,1218.9 403.2,1219.1 403.1,1219.3 C402.9,1219.5 402.8,1219.7 402.7,1219.9 C402.5,1220.1 402.4,1220.3 402.2,1220.5 C402.1,1220.7 401.9,1220.8 401.7,1221.0 C401.6,1221.1 401.4,1221.3 401.2,1221.4 C401.0,1221.5 400.8,1221.6 400.6,1221.7 C400.4,1221.8 400.2,1221.9 400.0,1221.9 C399.7,1222.0 399.5,1222.1 399.3,1222.1 C399.1,1222.1 398.8,1222.2 398.6,1222.2 C398.4,1222.2 398.1,1222.2 397.9,1222.2 C397.6,1222.1 397.4,1222.1 397.2,1222.0 C396.9,1222.0 396.7,1221.9 396.4,1221.8 C396.2,1221.8 396.0,1221.7 395.7,1221.6 C395.5,1221.5 395.3,1221.3 395.0,1221.2 C394.8,1221.1 394.6,1220.9 394.3,1220.8 C394.1,1220.6 393.9,1220.4 393.7,1220.2 C393.5,1220.0 393.3,1219.8 393.1,1219.6 C392.9,1219.4 392.7,1219.2 392.5,1219.0 C392.3,1218.8 392.1,1218.5 392.0,1218.3 C391.8,1218.0 391.7,1217.8 391.5,1217.5 C391.4,1217.3 391.2,1217.0 391.1,1216.7 C391.0,1216.5 390.9,1216.2 390.8,1215.9 C390.7,1215.6 390.6,1215.4 390.5,1215.1 C390.4,1214.8 390.3,1214.5 390.3,1214.2 C390.2,1213.9 390.2,1213.7 390.2,1213.4 C390.1,1213.1 390.1,1212.8 390.1,1212.5 C390.1,1212.2 390.1,1212.0 390.1,1211.7 C390.1,1211.4 390.2,1211.2 390.2,1210.9 C390.3,1210.6 390.3,1210.4 390.4,1210.1 C390.5,1209.9 390.5,1209.6 390.6,1209.4 C390.7,1209.1 390.8,1208.9 390.9,1208.7 C391.1,1208.5 391.2,1208.3 391.3,1208.1 C391.5,1207.9 391.6,1207.7 391.8,1207.5 C391.9,1207.3 392.1,1207.2 392.3,1207.0 C392.4,1206.9 392.6,1206.7 392.8,1206.6 C393.0,1206.5 393.2,1206.4 393.4,1206.3 C393.6,1206.2 393.8,1206.1 394.0,1206.1 C394.3,1206.0 394.5,1205.9 394.7,1205.9 C394.9,1205.9 395.2,1205.8 395.4,1205.8 C395.6,1205.8 395.9,1205.8 396.1,1205.8 C396.4,1205.9 396.6,1205.9 396.8,1206.0 C397.1,1206.0 397.3,1206.1 397.6,1206.2 C397.8,1206.2 398.0,1206.3 398.3,1206.4 C398.5,1206.5 398.7,1206.7 399.0,1206.8 C399.2,1206.9 399.4,1207.1 399.7,1207.2 C399.9,1207.4 400.1,1207.6 400.3,1207.8 C400.5,1208.0 400.7,1208.2 400.9,1208.4 C401.1,1208.6 401.3,1208.8 401.5,1209.0 C401.7,1209.2 401.9,1209.5 402.0,1209.7 C402.2,1210.0 402.3,1210.2 402.5,1210.5 C402.6,1210.7 402.8,1211.1 402.9,1211.3"/>
<path d="M588.8,1291.2 C588.3,1288.5 586.1,1281.4 585.6,1275.0 C585.1,1268.6 585.1,1256.8 585.6,1252.8 C586.1,1248.8 586.1,1251.2 588.8,1251.2 C591.5,1251.2 597.6,1250.9 601.6,1252.8 C605.6,1254.7 609.9,1261.1 612.8,1262.4 C615.7,1263.7 616.5,1259.7 619.2,1260.8 C621.9,1261.9 626.9,1265.3 628.8,1268.8 C630.7,1272.3 632.3,1276.8 630.4,1281.6 C628.5,1286.4 620.0,1294.4 617.6,1297.6 C615.2,1300.8 617.6,1300.3 616.0,1300.8 C614.4,1301.3 612.5,1302.4 608.0,1300.8 C603.5,1299.2 592.0,1292.8 588.8,1291.2"/>
<polyline points="616.0,1272.0 616.0,1294.4"/>
<path d="M603.4,1264.0 C603.5,1264.1 603.6,1264.3 603.7,1264.5 C603.7,1264.7 603.8,1264.8 603.8,1265.0 C603.9,1265.2 603.9,1265.4 604.0,1265.5 C604.0,1265.7 604.0,1265.9 604.0,1266.0 C604.1,1266.2 604.1,1266.4 604.1,1266.6 C604.1,1266.7 604.1,1266.9 604.1,1267.1 C604.1,1267.2 604.1,1267.4 604.0,1267.6 C604.0,1267.7 604.0,1267.9 603.9,1268.0 C603.9,1268.2 603.9,1268.3 603.8,1268.5 C603.8,1268.6 603.7,1268.7 603.6,1268.9 C603.6,1269.0 603.5,1269.1 603.4,1269.3 C603.3,1269.4 603.2,1269.5 603.2,1269.6 C603.1,1269.7 603.0,1269.8 602.9,1269.9 C602.8,1270.0 602.7,1270.0 602.5,1270.1 C602.4,1270.2 602.3,1270.3 602.2,1270.3 C602.1,1270.4 602.0,1270.4 601.8,1270.5 C601.7,1270.5 601.6,1270.5 601.4,1270.5 C601.3,1270.6 601.2,1270.6 601.0,1270.6 C600.9,1270.6 600.7,1270.6 600.6,1270.6 C600.5,1270.5 600.3,1270.5 600.2,1270.5 C600.0,1270.5 599.9,1270.4 599.8,1270.4 C599.6,1270.3 599.5,1270.2 599.3,1270.2 C599.2,1270.1 599.0,1270.0 598.9,1269.9 C598.8,1269.9 598.6,1269.8 598.5,1269.7 C598.4,1269.6 598.2,1269.5 598.1,1269.3 C598.0,1269.2 597.9,1269.1 597.7,1269.0 C597.6,1268.9 597.5,1268.7 597.4,1268.6 C597.3,1268.4 597.2,1268.3 597.1,1268.2 C597.0,1268.0 596.9,1267.8 596.8,1267.7 C596.7,1267.5 596.6,1267.4 596.6,1267.2 C596.5,1267.0 596.4,1266.9 596.3,1266.7 C596.3,1266.5 596.2,1266.4 596.2,1266.2 C596.1,1266.0 596.1,1265.8 596.0,1265.7 C596.0,1265.5 596.0,1265.3 596.0,1265.2 C595.9,1265.0 595.9,1264.8 595.9,1264.6 C595.9,1264.5 595.9,1264.3 595.9,1264.1 C595.9,1264.0 595.9,1263.8 596.0,1263.6 C596.0,1263.5 596.0,1263.3 596.1,1263.2 C596.1,1263.0 596.1,1262.9 596.2,1262.7 C596.2,1262.6 596.3,1262.5 596.4,1262.3 C596.4,1262.2 596.5,1262.1 596.6,1261.9 C596.7,1261.8 596.8,1261.7 596.8,1261.6 C596.9,1261.5 597.0,1261.4 597.1,1261.3 C597.2,1261.2 597.3,1261.2 597.5,1261.1 C597.6,1261.0 597.7,1260.9 597.8,1260.9 C597.9,1260.8 598.0,1260.8 598.2,1260.7 C598.3,1260.7 598.4,1260.7 598.6,1260.7 C598.7,1260.6 598.8,1260.6 599.0,1260.6 C599.1,1260.6 599.3,1260.6 599.4,1260.6 C599.5,1260.7 599.7,1260.7 599.8,1260.7 C600.0,1260.7 600.1,1260.8 600.2,1260.8 C600.4,1260.9 600.5,1261.0 600.7,1261.0 C600.8,1261.1 601.0,1261.2 601.1,1261.3 C601.2,1261.3 601.4,1261.4 601.5,1261.5 C601.6,1261.6 601.8,1261.7 601.9,1261.9 C602.0,1262.0 602.1,1262.1 602.3,1262.2 C602.4,1262.3 602.5,1262.5 602.6,1262.6 C602.7,1262.8 602.8,1262.9 602.9,1263.0 C603.0,1263.2 603.1,1263.4 603.2,1263.5 C603.3,1263.7 603.4,1263.9 603.4,1264.0"/>
<path d="M605.4,1283.9 C605.5,1284.0 605.6,1284.3 605.7,1284.6 C605.8,1284.8 605.9,1285.0 606.0,1285.3 C606.0,1285.5 606.1,1285.8 606.1,1286.0 C606.2,1286.2 606.2,1286.5 606.2,1286.7 C606.2,1287.0 606.2,1287.2 606.2,1287.5 C606.2,1287.7 606.2,1287.9 606.2,1288.2 C606.2,1288.4 606.1,1288.7 606.1,1288.9 C606.0,1289.1 606.0,1289.3 605.9,1289.6 C605.8,1289.8 605.7,1290.0 605.7,1290.2 C605.6,1290.4 605.5,1290.6 605.4,1290.8 C605.2,1291.0 605.1,1291.2 605.0,1291.3 C604.9,1291.5 604.7,1291.7 604.6,1291.8 C604.4,1292.0 604.3,1292.1 604.1,1292.3 C603.9,1292.4 603.8,1292.5 603.6,1292.6 C603.4,1292.7 603.2,1292.8 603.0,1292.9 C602.9,1293.0 602.7,1293.1 602.5,1293.2 C602.3,1293.2 602.1,1293.3 601.8,1293.3 C601.6,1293.3 601.4,1293.4 601.2,1293.4 C601.0,1293.4 600.8,1293.4 600.6,1293.4 C600.4,1293.4 600.1,1293.4 599.9,1293.3 C599.7,1293.3 599.5,1293.2 599.3,1293.2 C599.0,1293.1 598.8,1293.0 598.6,1292.9 C598.4,1292.9 598.2,1292.8 598.0,1292.7 C597.8,1292.5 597.6,1292.4 597.4,1292.3 C597.2,1292.2 597.0,1292.0 596.8,1291.9 C596.6,1291.7 596.4,1291.5 596.3,1291.4 C596.1,1291.2 595.9,1291.0 595.8,1290.8 C595.6,1290.6 595.5,1290.4 595.3,1290.2 C595.2,1290.0 595.0,1289.8 594.9,1289.6 C594.8,1289.4 594.7,1289.2 594.6,1288.9 C594.5,1288.7 594.4,1288.5 594.3,1288.2 C594.2,1288.0 594.1,1287.8 594.0,1287.5 C594.0,1287.3 593.9,1287.0 593.9,1286.8 C593.8,1286.6 593.8,1286.3 593.8,1286.1 C593.8,1285.8 593.8,1285.6 593.8,1285.3 C593.8,1285.1 593.8,1284.9 593.8,1284.6 C593.8,1284.4 593.9,1284.1 593.9,1283.9 C594.0,1283.7 594.0,1283.5 594.1,1283.2 C594.2,1283.0 594.3,1282.8 594.3,1282.6 C594.4,1282.4 594.5,1282.2 594.6,1282.0 C594.8,1281.8 594.9,1281.6 595.0,1281.5 C595.1,1281.3 595.3,1281.1 595.4,1281.0 C595.6,1280.8 595.7,1280.7 595.9,1280.5 C596.1,1280.4 596.2,1280.3 596.4,1280.2 C596.6,1280.1 596.8,1280.0 597.0,1279.9 C597.1,1279.8 597.3,1279.7 597.5,1279.6 C597.7,1279.6 597.9,1279.5 598.2,1279.5 C598.4,1279.5 598.6,1279.4 598.8,1279.4 C599.0,1279.4 599.2,1279.4 599.4,1279.4 C599.6,1279.4 599.9,1279.4 600.1,1279.5 C600.3,1279.5 600.5,1279.6 600.7,1279.6 C601.0,1279.7 601.2,1279.8 601.4,1279.9 C601.6,1279.9 601.8,1280.0 602.0,1280.1 C602.2,1280.3 602.4,1280.4 602.6,1280.5 C602.8,1280.6 603.0,1280.8 603.2,1280.9 C603.4,1281.1 603.6,1281.3 603.7,1281.4 C603.9,1281.6 604.1,1281.8 604.2,1282.0 C604.4,1282.2 604.5,1282.4 604.7,1282.6 C604.8,1282.8 605.0,1283.0 605.1,1283.2 C605.2,1283.4 605.4,1283.8 605.4,1283.9"/>
<path d="M704.0,1302.4 C710.0,1300.3 729.1,1295.9 740.0,1290.0 C750.9,1284.1 764.7,1271.0 769.6,1267.2"/>
<path d="M716.8,1308.8 C722.3,1306.5 740.7,1300.6 750.0,1295.0 C759.3,1289.4 769.0,1278.5 772.8,1275.2"/>
<path d="M704.0,1300.8 C703.7,1302.1 702.0,1304.8 702.0,1308.8 C702.0,1312.8 703.7,1322.1 704.0,1324.8"/>
<path d="M644.8,1324.8 C644.3,1326.1 641.3,1330.7 641.6,1332.8 C641.9,1334.9 645.6,1336.8 646.4,1337.6"/>
<polyline points="646.4,1337.6 743.2,1378.2"/>
<path d="M743.2,1378.2 C744.4,1377.9 748.0,1377.2 750.4,1376.4 C752.8,1375.7 756.4,1374.2 757.6,1373.7"/>
<polyline points="757.6,1373.7 795.0,1392.5"/>
<path d="M795.0,1392.5 C795.7,1392.8 795.6,1394.7 799.0,1394.4 C802.4,1394.1 807.7,1392.9 815.2,1390.8 C822.7,1388.7 836.8,1386.0 844.0,1381.8 C851.2,1377.6 855.2,1369.9 858.4,1365.6 C861.5,1361.2 862.1,1357.3 862.9,1355.7"/>
<path d="M864.0,1348.5 C864.2,1348.8 865.4,1349.2 865.5,1350.5 C865.6,1351.8 865.3,1355.0 864.7,1356.0 C864.1,1357.0 862.7,1356.8 862.0,1356.5 C861.3,1356.2 860.8,1354.4 860.5,1354.0"/>
<polyline points="644.8,1324.8 700.8,1326.4"/>
<polyline points="781.3,1268.0 822.6,1324.0 864.0,1348.5"/>
<path d="M775.7,1273.6 C778.1,1276.8 786.1,1287.4 790.0,1293.0 C793.9,1298.6 795.5,1303.0 798.8,1307.2 C802.1,1311.4 806.0,1315.6 810.0,1318.4 C814.0,1321.2 820.5,1323.1 822.6,1324.0"/>
<path d="M771.5,1265.2 C772.0,1265.4 773.4,1265.0 774.3,1266.6 C775.2,1268.2 776.5,1273.6 777.0,1275.0"/>
<polyline points="713.5,1312.5 736.9,1344.9"/>
<polyline points="749.5,1347.6 801.7,1317.0"/>
<polyline points="702.7,1338.6 752.2,1367.4"/>
<polyline points="748.6,1355.7 793.6,1382.7"/>
<polyline points="719.8,1365.6 745.0,1374.6"/>
<path d="M773.8,1349.0 C773.8,1347.3 773.9,1347.5 774.0,1346.8 C774.1,1346.1 774.4,1345.3 774.6,1344.6 C774.9,1343.9 775.2,1343.2 775.7,1342.5 C776.1,1341.8 776.5,1341.1 777.1,1340.5 C777.6,1339.8 778.2,1339.1 778.9,1338.5 C779.5,1337.9 780.2,1337.2 781.0,1336.7 C781.8,1336.1 782.6,1335.5 783.5,1334.9 C784.4,1334.4 785.3,1333.9 786.3,1333.4 C787.3,1332.9 788.3,1332.4 789.4,1332.0 C790.4,1331.6 791.6,1331.2 792.7,1330.8 C793.8,1330.4 795.0,1330.1 796.2,1329.8 C797.4,1329.5 798.7,1329.3 799.9,1329.0 C801.2,1328.8 802.5,1328.6 803.7,1328.5 C805.0,1328.3 806.3,1328.2 807.6,1328.1 C809.0,1328.0 810.3,1328.0 811.6,1328.0 C812.9,1328.0 814.2,1328.0 815.6,1328.1 C816.9,1328.2 818.2,1328.3 819.5,1328.5 C820.7,1328.6 822.0,1328.8 823.3,1329.0 C824.5,1329.3 825.8,1329.5 827.0,1329.8 C828.2,1330.1 829.4,1330.4 830.5,1330.8 C831.6,1331.2 832.8,1331.6 833.8,1332.0 C834.9,1332.4 835.9,1332.9 836.9,1333.4 C837.9,1333.9 838.8,1334.4 839.7,1334.9 C840.6,1335.5 841.4,1336.1 842.2,1336.7 C843.0,1337.2 843.7,1337.9 844.3,1338.5 C845.0,1339.1 845.6,1339.8 846.1,1340.5 C846.7,1341.1 847.1,1341.8 847.5,1342.5 C848.0,1343.2 848.3,1343.9 848.6,1344.6 C848.8,1345.3 849.1,1346.1 849.2,1346.8 C849.3,1347.5 849.4,1347.3 849.4,1349.0 C849.4,1350.7 849.4,1355.3 849.4,1357.0 C849.4,1358.7 849.3,1358.5 849.2,1359.2 C849.1,1359.9 848.8,1360.7 848.6,1361.4 C848.3,1362.1 848.0,1362.8 847.5,1363.5 C847.1,1364.2 846.7,1364.9 846.1,1365.5 C845.6,1366.2 845.0,1366.9 844.3,1367.5 C843.7,1368.1 843.0,1368.8 842.2,1369.3 C841.4,1369.9 840.6,1370.5 839.7,1371.1 C838.8,1371.6 837.9,1372.1 836.9,1372.6 C835.9,1373.1 834.9,1373.6 833.8,1374.0 C832.8,1374.4 831.6,1374.8 830.5,1375.2 C829.4,1375.6 828.2,1375.9 827.0,1376.2 C825.8,1376.5 824.5,1376.7 823.3,1377.0 C822.0,1377.2 820.7,1377.4 819.5,1377.5 C818.2,1377.7 816.9,1377.8 815.6,1377.9 C814.2,1378.0 812.9,1378.0 811.6,1378.0 C810.3,1378.0 809.0,1378.0 807.6,1377.9 C806.3,1377.8 805.0,1377.7 803.7,1377.5 C802.5,1377.4 801.2,1377.2 799.9,1377.0 C798.7,1376.7 797.4,1376.5 796.2,1376.2 C795.0,1375.9 793.8,1375.6 792.7,1375.2 C791.6,1374.8 790.4,1374.4 789.4,1374.0 C788.3,1373.6 787.3,1373.1 786.3,1372.6 C785.3,1372.1 784.4,1371.6 783.5,1371.1 C782.6,1370.5 781.8,1369.9 781.0,1369.3 C780.2,1368.8 779.5,1368.1 778.9,1367.5 C778.2,1366.9 777.6,1366.2 777.1,1365.5 C776.5,1364.9 776.1,1364.2 775.7,1363.5 C775.2,1362.8 774.9,1362.1 774.6,1361.4 C774.4,1360.7 774.1,1359.9 774.0,1359.2 C773.9,1358.5 773.8,1358.7 773.8,1357.0 C773.8,1355.3 773.8,1350.7 773.8,1349.0 Z" fill="#fff" stroke="none"/>
<path d="M848.8,1360.6 C848.7,1361.0 848.3,1362.1 847.9,1362.8 C847.5,1363.6 847.1,1364.3 846.6,1365.0 C846.1,1365.7 845.5,1366.3 844.8,1367.0 C844.2,1367.7 843.5,1368.3 842.7,1368.9 C841.9,1369.5 841.1,1370.1 840.2,1370.7 C839.3,1371.3 838.4,1371.8 837.4,1372.3 C836.4,1372.9 835.4,1373.3 834.3,1373.8 C833.2,1374.2 832.1,1374.7 830.9,1375.0 C829.8,1375.4 828.6,1375.8 827.3,1376.1 C826.1,1376.4 824.9,1376.7 823.6,1376.9 C822.3,1377.2 821.0,1377.4 819.7,1377.5 C818.3,1377.7 817.0,1377.8 815.7,1377.9 C814.3,1378.0 813.0,1378.0 811.6,1378.0 C810.2,1378.0 808.9,1378.0 807.5,1377.9 C806.2,1377.8 804.9,1377.7 803.5,1377.5 C802.2,1377.4 800.9,1377.2 799.6,1376.9 C798.3,1376.7 797.1,1376.4 795.9,1376.1 C794.6,1375.8 793.4,1375.4 792.3,1375.0 C791.1,1374.7 790.0,1374.2 788.9,1373.8 C787.8,1373.3 786.8,1372.9 785.8,1372.3 C784.8,1371.8 783.9,1371.3 783.0,1370.7 C782.1,1370.1 781.3,1369.5 780.5,1368.9 C779.7,1368.3 779.0,1367.7 778.4,1367.0 C777.7,1366.3 777.1,1365.7 776.6,1365.0 C776.1,1364.3 775.7,1363.6 775.3,1362.8 C774.9,1362.1 774.5,1361.0 774.4,1360.6"/>
<ellipse cx="811.6" cy="1349" rx="37.8" ry="21" transform="rotate(0 811.6 1349)" fill="#fff"/>
<path d="M783.3,1346.9 C783.5,1346.6 783.9,1345.8 784.3,1345.3 C784.7,1344.8 785.1,1344.3 785.6,1343.8 C786.1,1343.3 786.6,1342.8 787.2,1342.3 C787.8,1341.8 788.4,1341.4 789.1,1341.0 C789.7,1340.5 790.5,1340.1 791.2,1339.7 C792.0,1339.3 792.8,1339.0 793.6,1338.6 C794.4,1338.3 795.3,1337.9 796.2,1337.6 C797.1,1337.3 798.0,1337.1 798.9,1336.8 C799.9,1336.6 801.4,1336.3 801.8,1336.2"/>
<path d="M822.2,1336.2 C822.6,1336.3 824.1,1336.6 825.1,1336.8 C826.0,1337.1 826.9,1337.3 827.8,1337.6 C828.7,1337.9 829.6,1338.3 830.4,1338.6 C831.2,1339.0 832.0,1339.3 832.8,1339.7 C833.5,1340.1 834.3,1340.5 834.9,1341.0 C835.6,1341.4 836.2,1341.8 836.8,1342.3 C837.4,1342.8 837.9,1343.3 838.4,1343.8 C838.9,1344.3 839.3,1344.8 839.7,1345.3 C840.1,1345.8 840.5,1346.6 840.7,1346.9"/>
<path d="M804.3,1366.3 C803.9,1366.2 802.7,1366.0 801.8,1365.8 C801.0,1365.7 800.2,1365.5 799.4,1365.3 C798.7,1365.1 797.9,1364.9 797.1,1364.7 C796.4,1364.5 795.7,1364.2 795.0,1363.9 C794.3,1363.7 793.6,1363.4 792.9,1363.1 C792.2,1362.8 791.3,1362.3 791.0,1362.2"/>
<path d="M833.0,1362.2 C832.7,1362.3 831.8,1362.8 831.1,1363.1 C830.4,1363.4 829.7,1363.7 829.0,1363.9 C828.3,1364.2 827.6,1364.5 826.9,1364.7 C826.1,1364.9 825.3,1365.1 824.6,1365.3 C823.8,1365.5 823.0,1365.7 822.2,1365.8 C821.3,1366.0 820.1,1366.2 819.7,1366.3"/>
<path d="M783.8,1356.1 C783.9,1355.8 784.1,1355.1 784.4,1354.6 C784.6,1354.1 784.9,1353.6 785.2,1353.2 C785.6,1352.7 786.0,1352.3 786.4,1351.8 C786.9,1351.4 787.4,1350.9 787.9,1350.5 C788.4,1350.1 789.0,1349.7 789.7,1349.3 C790.3,1348.9 790.9,1348.5 791.7,1348.2 C792.4,1347.8 793.1,1347.5 793.9,1347.2 C794.7,1346.9 795.5,1346.6 796.3,1346.3 C797.1,1346.0 798.0,1345.8 798.9,1345.6 C799.8,1345.3 800.7,1345.1 801.7,1345.0 C802.6,1344.8 803.6,1344.6 804.5,1344.5 C805.5,1344.4 806.5,1344.3 807.5,1344.2 C808.5,1344.1 809.5,1344.0 810.5,1344.0 C811.5,1344.0 812.5,1344.0 813.5,1344.0 C814.5,1344.0 815.5,1344.1 816.5,1344.2 C817.5,1344.3 818.5,1344.4 819.5,1344.5 C820.4,1344.6 821.4,1344.8 822.3,1345.0 C823.3,1345.1 824.2,1345.3 825.1,1345.6 C826.0,1345.8 826.9,1346.0 827.7,1346.3 C828.5,1346.6 829.3,1346.9 830.1,1347.2 C830.9,1347.5 831.6,1347.8 832.3,1348.2 C833.1,1348.5 833.7,1348.9 834.3,1349.3 C835.0,1349.7 835.6,1350.1 836.1,1350.5 C836.6,1350.9 837.1,1351.4 837.6,1351.8 C838.0,1352.3 838.4,1352.7 838.8,1353.2 C839.1,1353.6 839.4,1354.1 839.6,1354.6 C839.9,1355.1 840.1,1355.8 840.2,1356.1"/>
<path d="M62.7,1406 L86,1368.5 L89.6,1371.5 L89.6,1374 L134.7,1348.8 L139,1351.5 L139,1382.4 L89.6,1410.4 L89.6,1419.2 Z" fill="#111" stroke="#111" stroke-width="1"/>
<path d="M66.5,1403 L87.5,1371" stroke="#fff" stroke-width="2.2" fill="none"/>
<path d="M90.5,1376.5 L136,1351" stroke="#fff" stroke-width="2.4" fill="none"/>
<g transform="matrix(1,-0.55,0,1,0,0)"><text x="90.5" y="1455" font-family="&quot;Liberation Sans&quot;, sans-serif" font-size="30" fill="#fff" stroke="#fff" stroke-width="0.7" textLength="46" lengthAdjust="spacingAndGlyphs">FWD</text></g>
<mask id="m46" maskUnits="userSpaceOnUse" x="540" y="770" width="100" height="50"><rect x="540" y="770" width="100" height="50" fill="#fff"/><text x="566" y="804.5" font-family="&quot;Liberation Sans&quot;, sans-serif" font-weight="bold" font-style="italic" font-size="23.5" fill="#000" stroke="#000" stroke-width="0.7" textLength="50" lengthAdjust="spacingAndGlyphs">46</text></mask>
<g style="mix-blend-mode:multiply" stroke="none" font-family="&quot;Liberation Sans&quot;, sans-serif" font-weight="bold" font-style="italic"><path d="M563.1,780.5 L625.4,780.5 L619.1,812 L555.4,812 Z" fill="#f7bcbc" mask="url(#m46)"/><text x="317" y="804.5" font-size="23.5" fill="#c8c8c8" stroke="#c8c8c8" stroke-width="0.7" textLength="130" lengthAdjust="spacingAndGlyphs">SKLEP</text><text x="448" y="804.5" font-size="23.5" fill="#f5b4b4" stroke="#f5b4b4" stroke-width="0.7" textLength="104" lengthAdjust="spacingAndGlyphs">MOTO</text><text x="620" y="804.5" font-size="23.5" fill="#c8c8c8" stroke="#c8c8c8" stroke-width="0.7" textLength="62" lengthAdjust="spacingAndGlyphs">.PL</text><text x="313.5" y="818.4" font-size="12.5" fill="#c4c4c4" textLength="234.5" lengthAdjust="spacing">internetowy sklep motocyklowy</text></g>
<path d="M471.9,288.3 L544.5,247.5 L544.5,247.5 L544.9,247.3 L545.3,247.2 L545.7,247.2 L546.2,247.2 L546.6,247.3 L547.1,247.4 L547.6,247.6 L548.1,247.9 L548.5,248.2 L549.0,248.6 L549.4,249.0 L549.9,249.5 L550.3,250.0 L550.7,250.5 L551.0,251.1 L551.3,251.7 L551.6,252.3 L551.8,252.9 L552.0,253.5 L552.1,254.1 L552.2,254.7 L552.2,255.2 L552.2,255.8 L552.1,256.3 L552.0,256.8 L551.8,257.2 L551.6,257.6 L551.3,258.0 L551.0,258.3 L550.7,258.5 L478.1,299.3 Z" fill="#fff" stroke="none"/>
<polyline points="471.9,288.3 544.5,247.5"/>
<polyline points="478.1,299.3 550.7,258.5"/>
<path d="M544.5,247.5 C544.6,247.5 544.8,247.4 544.9,247.3 C545.0,247.3 545.1,247.3 545.3,247.2 C545.4,247.2 545.6,247.2 545.7,247.2 C545.9,247.2 546.0,247.2 546.2,247.2 C546.3,247.2 546.5,247.3 546.6,247.3 C546.8,247.3 546.9,247.4 547.1,247.4 C547.3,247.5 547.4,247.6 547.6,247.6 C547.7,247.7 547.9,247.8 548.1,247.9 C548.2,248.0 548.4,248.1 548.5,248.2 C548.7,248.3 548.8,248.5 549.0,248.6 C549.1,248.7 549.3,248.9 549.4,249.0 C549.6,249.2 549.7,249.3 549.9,249.5 C550.0,249.6 550.2,249.8 550.3,250.0 C550.4,250.2 550.5,250.3 550.7,250.5 C550.8,250.7 550.9,250.9 551.0,251.1 C551.1,251.3 551.2,251.5 551.3,251.7 C551.4,251.9 551.5,252.1 551.6,252.3 C551.6,252.5 551.7,252.7 551.8,252.9 C551.9,253.1 551.9,253.3 552.0,253.5 C552.0,253.7 552.1,253.9 552.1,254.1 C552.1,254.3 552.1,254.5 552.2,254.7 C552.2,254.9 552.2,255.1 552.2,255.2 C552.2,255.4 552.2,255.6 552.2,255.8 C552.2,256.0 552.1,256.1 552.1,256.3 C552.1,256.5 552.0,256.6 552.0,256.8 C551.9,256.9 551.9,257.1 551.8,257.2 C551.7,257.4 551.7,257.5 551.6,257.6 C551.5,257.8 551.4,257.9 551.3,258.0 C551.2,258.1 551.1,258.2 551.0,258.3 C550.9,258.3 550.7,258.5 550.7,258.5"/>
<path d="M525.7,258.0 C525.8,258.0 526.0,257.9 526.1,257.8 C526.2,257.8 526.4,257.8 526.5,257.8 C526.7,257.7 526.8,257.7 527.0,257.7 C527.1,257.7 527.3,257.8 527.4,257.8 C527.6,257.8 527.7,257.8 527.9,257.9 C528.1,257.9 528.2,258.0 528.4,258.1 C528.5,258.1 528.7,258.2 528.9,258.3 C529.0,258.4 529.2,258.5 529.3,258.6 C529.5,258.7 529.7,258.8 529.8,258.9 C530.0,259.1 530.1,259.2 530.3,259.3 C530.4,259.5 530.6,259.6 530.7,259.8 C530.9,259.9 531.0,260.1 531.2,260.3 C531.3,260.4 531.4,260.6 531.6,260.8 C531.7,261.0 531.8,261.2 531.9,261.3 C532.0,261.5 532.1,261.7 532.2,261.9 C532.3,262.1 532.4,262.3 532.5,262.5 C532.6,262.7 532.7,262.9 532.8,263.1 C532.9,263.3 532.9,263.5 533.0,263.8 C533.0,264.0 533.1,264.2 533.1,264.4 C533.2,264.6 533.2,264.8 533.2,265.0 C533.3,265.2 533.3,265.4 533.3,265.6 C533.3,265.7 533.3,265.9 533.3,266.1 C533.3,266.3 533.3,266.5 533.2,266.7 C533.2,266.8 533.2,267.0 533.1,267.2 C533.1,267.3 533.0,267.5 533.0,267.6 C532.9,267.8 532.8,267.9 532.8,268.0 C532.7,268.2 532.6,268.3 532.5,268.4 C532.4,268.5 532.3,268.6 532.2,268.7 C532.1,268.8 532.0,268.9 531.9,269.0"/>
<path d="M530.4,255.3 C530.5,255.3 530.7,255.2 530.8,255.2 C531.0,255.1 531.1,255.1 531.2,255.1 C531.4,255.1 531.5,255.1 531.7,255.1 C531.8,255.1 532.0,255.1 532.1,255.1 C532.3,255.1 532.5,255.2 532.6,255.2 C532.8,255.3 532.9,255.3 533.1,255.4 C533.3,255.5 533.4,255.5 533.6,255.6 C533.7,255.7 533.9,255.8 534.1,255.9 C534.2,256.0 534.4,256.1 534.5,256.3 C534.7,256.4 534.9,256.5 535.0,256.7 C535.2,256.8 535.3,257.0 535.5,257.1 C535.6,257.3 535.7,257.4 535.9,257.6 C536.0,257.8 536.1,258.0 536.3,258.1 C536.4,258.3 536.5,258.5 536.6,258.7 C536.8,258.9 536.9,259.1 537.0,259.3 C537.1,259.5 537.2,259.7 537.3,259.9 C537.3,260.1 537.4,260.3 537.5,260.5 C537.6,260.7 537.6,260.9 537.7,261.1 C537.8,261.3 537.8,261.5 537.8,261.7 C537.9,261.9 537.9,262.1 537.9,262.3 C538.0,262.5 538.0,262.7 538.0,262.9 C538.0,263.1 538.0,263.3 538.0,263.5 C538.0,263.6 538.0,263.8 537.9,264.0 C537.9,264.2 537.9,264.3 537.8,264.5 C537.8,264.7 537.7,264.8 537.7,265.0 C537.6,265.1 537.6,265.2 537.5,265.4 C537.4,265.5 537.3,265.6 537.2,265.7 C537.1,265.9 537.0,266.0 536.9,266.1 C536.8,266.1 536.7,266.3 536.6,266.3"/>
<path d="M535.1,252.7 C535.2,252.7 535.4,252.6 535.5,252.5 C535.7,252.5 535.8,252.5 536.0,252.4 C536.1,252.4 536.2,252.4 536.4,252.4 C536.5,252.4 536.7,252.4 536.9,252.5 C537.0,252.5 537.2,252.5 537.3,252.6 C537.5,252.6 537.6,252.7 537.8,252.7 C538.0,252.8 538.1,252.9 538.3,253.0 C538.5,253.1 538.6,253.2 538.8,253.3 C538.9,253.4 539.1,253.5 539.3,253.6 C539.4,253.7 539.6,253.9 539.7,254.0 C539.9,254.2 540.0,254.3 540.2,254.5 C540.3,254.6 540.5,254.8 540.6,254.9 C540.7,255.1 540.9,255.3 541.0,255.5 C541.1,255.7 541.2,255.8 541.4,256.0 C541.5,256.2 541.6,256.4 541.7,256.6 C541.8,256.8 541.9,257.0 542.0,257.2 C542.1,257.4 542.1,257.6 542.2,257.8 C542.3,258.0 542.4,258.2 542.4,258.4 C542.5,258.6 542.5,258.8 542.6,259.0 C542.6,259.3 542.6,259.5 542.7,259.7 C542.7,259.9 542.7,260.0 542.7,260.2 C542.7,260.4 542.7,260.6 542.7,260.8 C542.7,261.0 542.7,261.2 542.7,261.3 C542.6,261.5 542.6,261.7 542.6,261.8 C542.5,262.0 542.5,262.2 542.4,262.3 C542.3,262.5 542.3,262.6 542.2,262.7 C542.1,262.9 542.0,263.0 542.0,263.1 C541.9,263.2 541.8,263.3 541.7,263.4 C541.6,263.5 541.4,263.6 541.3,263.7"/>
<path d="M539.9,250.0 C539.9,250.0 540.1,249.9 540.3,249.9 C540.4,249.8 540.5,249.8 540.7,249.8 C540.8,249.8 541.0,249.8 541.1,249.8 C541.3,249.8 541.4,249.8 541.6,249.8 C541.7,249.8 541.9,249.9 542.0,249.9 C542.2,250.0 542.4,250.0 542.5,250.1 C542.7,250.2 542.9,250.2 543.0,250.3 C543.2,250.4 543.3,250.5 543.5,250.6 C543.7,250.7 543.8,250.8 544.0,251.0 C544.1,251.1 544.3,251.2 544.4,251.4 C544.6,251.5 544.7,251.6 544.9,251.8 C545.0,252.0 545.2,252.1 545.3,252.3 C545.4,252.5 545.6,252.6 545.7,252.8 C545.8,253.0 546.0,253.2 546.1,253.4 C546.2,253.6 546.3,253.8 546.4,254.0 C546.5,254.2 546.6,254.4 546.7,254.6 C546.8,254.8 546.9,255.0 546.9,255.2 C547.0,255.4 547.1,255.6 547.1,255.8 C547.2,256.0 547.2,256.2 547.3,256.4 C547.3,256.6 547.4,256.8 547.4,257.0 C547.4,257.2 547.4,257.4 547.4,257.6 C547.4,257.8 547.4,258.0 547.4,258.1 C547.4,258.3 547.4,258.5 547.4,258.7 C547.3,258.9 547.3,259.0 547.3,259.2 C547.2,259.3 547.2,259.5 547.1,259.6 C547.1,259.8 547.0,259.9 546.9,260.1 C546.8,260.2 546.8,260.3 546.7,260.4 C546.6,260.5 546.5,260.6 546.4,260.7 C546.3,260.8 546.1,261.0 546.0,261.0"/>
<ellipse cx="475" cy="293.8" rx="10.2" ry="16.2" transform="rotate(-29.4 475 293.8)" fill="#fff"/>
<path d="M484.8,302.4 C484.7,302.6 484.5,303.1 484.4,303.4 C484.3,303.7 484.1,304.0 483.9,304.3 C483.7,304.6 483.5,304.9 483.3,305.1 C483.1,305.3 482.8,305.6 482.6,305.8 C482.3,305.9 482.1,306.1 481.8,306.3 C481.5,306.4 481.2,306.5 480.9,306.6 C480.6,306.7 480.3,306.8 480.0,306.8 C479.7,306.9 479.2,306.9 479.0,306.9"/>
<path d="M470.8,310.4 L470.4,310.6 L470.0,310.8 L469.6,310.9 L469.2,311.0 L468.8,311.1 L468.4,311.1 L467.9,311.1 L467.5,311.1 L467.0,311.1 L466.5,311.0 L466.0,310.9 L465.6,310.7 L465.1,310.5 L464.6,310.3 L464.1,310.1 L463.6,309.8 L463.2,309.6 L462.7,309.2 L462.2,308.9 L461.8,308.5 L461.3,308.1 L460.9,307.7 L460.5,307.3 L460.0,306.8 L459.6,306.4 L459.2,305.9 L458.9,305.4 L458.5,304.8 L458.2,304.3 L457.8,303.7 L457.5,303.2 L457.3,302.6 L457.0,302.0 L456.7,301.4 L456.5,300.9 L456.3,300.3 L456.2,299.7 L456.0,299.1 L455.9,298.5 L455.8,297.9 L455.7,297.3 L455.6,296.7 L455.6,296.2 L455.6,295.6 L455.6,295.1 L455.7,294.5 L455.8,294.0 L455.9,293.5 L456.0,293.0 L456.1,292.6 L456.3,292.1 L456.5,291.7 L456.7,291.3 L456.9,290.9 L457.2,290.6 L457.5,290.2 L457.8,289.9 L458.1,289.6 L458.4,289.4 L458.8,289.2 L464.8,285.8 L465.2,285.6 L465.6,285.4 L466.0,285.3 L466.4,285.2 L466.8,285.1 L467.2,285.1 L467.7,285.1 L468.1,285.1 L468.6,285.1 L469.1,285.2 L469.6,285.3 L470.0,285.5 L470.5,285.7 L471.0,285.9 L471.5,286.1 L472.0,286.4 L472.4,286.6 L472.9,287.0 L473.4,287.3 L473.8,287.7 L474.3,288.1 L474.7,288.5 L475.1,288.9 L475.6,289.4 L476.0,289.8 L476.4,290.3 L476.7,290.8 L477.1,291.4 L477.4,291.9 L477.8,292.5 L478.1,293.0 L478.3,293.6 L478.6,294.2 L478.9,294.8 L479.1,295.3 L479.3,295.9 L479.4,296.5 L479.6,297.1 L479.7,297.7 L479.8,298.3 L479.9,298.9 L480.0,299.5 L480.0,300.0 L480.0,300.6 L480.0,301.1 L479.9,301.7 L479.8,302.2 L479.7,302.7 L479.6,303.2 L479.5,303.6 L479.3,304.1 L479.1,304.5 L478.9,304.9 L478.7,305.3 L478.4,305.6 L478.1,306.0 L477.8,306.3 L477.5,306.6 L477.2,306.8 L476.8,307.0 Z" fill="#fff"/>
<ellipse cx="464.8" cy="299.8" rx="8.0" ry="12.2" transform="rotate(-29.4 464.8 299.8)" fill="#fff"/>
<polyline points="461.5,289.0 470.0,285.5"/>
<polyline points="469.5,306.0 477.0,302.0"/>
<polyline points="466.0,292.0 466.5,296.0"/>
<g transform="translate(-35.3 641)"><path d="M471.9,288.3 L544.5,247.5 L544.5,247.5 L544.9,247.3 L545.3,247.2 L545.7,247.2 L546.2,247.2 L546.6,247.3 L547.1,247.4 L547.6,247.6 L548.1,247.9 L548.5,248.2 L549.0,248.6 L549.4,249.0 L549.9,249.5 L550.3,250.0 L550.7,250.5 L551.0,251.1 L551.3,251.7 L551.6,252.3 L551.8,252.9 L552.0,253.5 L552.1,254.1 L552.2,254.7 L552.2,255.2 L552.2,255.8 L552.1,256.3 L552.0,256.8 L551.8,257.2 L551.6,257.6 L551.3,258.0 L551.0,258.3 L550.7,258.5 L478.1,299.3 Z" fill="#fff" stroke="none"/><polyline points="471.9,288.3 544.5,247.5"/><polyline points="478.1,299.3 550.7,258.5"/><path d="M544.5,247.5 C544.6,247.5 544.8,247.4 544.9,247.3 C545.0,247.3 545.1,247.3 545.3,247.2 C545.4,247.2 545.6,247.2 545.7,247.2 C545.9,247.2 546.0,247.2 546.2,247.2 C546.3,247.2 546.5,247.3 546.6,247.3 C546.8,247.3 546.9,247.4 547.1,247.4 C547.3,247.5 547.4,247.6 547.6,247.6 C547.7,247.7 547.9,247.8 548.1,247.9 C548.2,248.0 548.4,248.1 548.5,248.2 C548.7,248.3 548.8,248.5 549.0,248.6 C549.1,248.7 549.3,248.9 549.4,249.0 C549.6,249.2 549.7,249.3 549.9,249.5 C550.0,249.6 550.2,249.8 550.3,250.0 C550.4,250.2 550.5,250.3 550.7,250.5 C550.8,250.7 550.9,250.9 551.0,251.1 C551.1,251.3 551.2,251.5 551.3,251.7 C551.4,251.9 551.5,252.1 551.6,252.3 C551.6,252.5 551.7,252.7 551.8,252.9 C551.9,253.1 551.9,253.3 552.0,253.5 C552.0,253.7 552.1,253.9 552.1,254.1 C552.1,254.3 552.1,254.5 552.2,254.7 C552.2,254.9 552.2,255.1 552.2,255.2 C552.2,255.4 552.2,255.6 552.2,255.8 C552.2,256.0 552.1,256.1 552.1,256.3 C552.1,256.5 552.0,256.6 552.0,256.8 C551.9,256.9 551.9,257.1 551.8,257.2 C551.7,257.4 551.7,257.5 551.6,257.6 C551.5,257.8 551.4,257.9 551.3,258.0 C551.2,258.1 551.1,258.2 551.0,258.3 C550.9,258.3 550.7,258.5 550.7,258.5"/><path d="M525.7,258.0 C525.8,258.0 526.0,257.9 526.1,257.8 C526.2,257.8 526.4,257.8 526.5,257.8 C526.7,257.7 526.8,257.7 527.0,257.7 C527.1,257.7 527.3,257.8 527.4,257.8 C527.6,257.8 527.7,257.8 527.9,257.9 C528.1,257.9 528.2,258.0 528.4,258.1 C528.5,258.1 528.7,258.2 528.9,258.3 C529.0,258.4 529.2,258.5 529.3,258.6 C529.5,258.7 529.7,258.8 529.8,258.9 C530.0,259.1 530.1,259.2 530.3,259.3 C530.4,259.5 530.6,259.6 530.7,259.8 C530.9,259.9 531.0,260.1 531.2,260.3 C531.3,260.4 531.4,260.6 531.6,260.8 C531.7,261.0 531.8,261.2 531.9,261.3 C532.0,261.5 532.1,261.7 532.2,261.9 C532.3,262.1 532.4,262.3 532.5,262.5 C532.6,262.7 532.7,262.9 532.8,263.1 C532.9,263.3 532.9,263.5 533.0,263.8 C533.0,264.0 533.1,264.2 533.1,264.4 C533.2,264.6 533.2,264.8 533.2,265.0 C533.3,265.2 533.3,265.4 533.3,265.6 C533.3,265.7 533.3,265.9 533.3,266.1 C533.3,266.3 533.3,266.5 533.2,266.7 C533.2,266.8 533.2,267.0 533.1,267.2 C533.1,267.3 533.0,267.5 533.0,267.6 C532.9,267.8 532.8,267.9 532.8,268.0 C532.7,268.2 532.6,268.3 532.5,268.4 C532.4,268.5 532.3,268.6 532.2,268.7 C532.1,268.8 532.0,268.9 531.9,269.0"/><path d="M530.4,255.3 C530.5,255.3 530.7,255.2 530.8,255.2 C531.0,255.1 531.1,255.1 531.2,255.1 C531.4,255.1 531.5,255.1 531.7,255.1 C531.8,255.1 532.0,255.1 532.1,255.1 C532.3,255.1 532.5,255.2 532.6,255.2 C532.8,255.3 532.9,255.3 533.1,255.4 C533.3,255.5 533.4,255.5 533.6,255.6 C533.7,255.7 533.9,255.8 534.1,255.9 C534.2,256.0 534.4,256.1 534.5,256.3 C534.7,256.4 534.9,256.5 535.0,256.7 C535.2,256.8 535.3,257.0 535.5,257.1 C535.6,257.3 535.7,257.4 535.9,257.6 C536.0,257.8 536.1,258.0 536.3,258.1 C536.4,258.3 536.5,258.5 536.6,258.7 C536.8,258.9 536.9,259.1 537.0,259.3 C537.1,259.5 537.2,259.7 537.3,259.9 C537.3,260.1 537.4,260.3 537.5,260.5 C537.6,260.7 537.6,260.9 537.7,261.1 C537.8,261.3 537.8,261.5 537.8,261.7 C537.9,261.9 537.9,262.1 537.9,262.3 C538.0,262.5 538.0,262.7 538.0,262.9 C538.0,263.1 538.0,263.3 538.0,263.5 C538.0,263.6 538.0,263.8 537.9,264.0 C537.9,264.2 537.9,264.3 537.8,264.5 C537.8,264.7 537.7,264.8 537.7,265.0 C537.6,265.1 537.6,265.2 537.5,265.4 C537.4,265.5 537.3,265.6 537.2,265.7 C537.1,265.9 537.0,266.0 536.9,266.1 C536.8,266.1 536.7,266.3 536.6,266.3"/><path d="M535.1,252.7 C535.2,252.7 535.4,252.6 535.5,252.5 C535.7,252.5 535.8,252.5 536.0,252.4 C536.1,252.4 536.2,252.4 536.4,252.4 C536.5,252.4 536.7,252.4 536.9,252.5 C537.0,252.5 537.2,252.5 537.3,252.6 C537.5,252.6 537.6,252.7 537.8,252.7 C538.0,252.8 538.1,252.9 538.3,253.0 C538.5,253.1 538.6,253.2 538.8,253.3 C538.9,253.4 539.1,253.5 539.3,253.6 C539.4,253.7 539.6,253.9 539.7,254.0 C539.9,254.2 540.0,254.3 540.2,254.5 C540.3,254.6 540.5,254.8 540.6,254.9 C540.7,255.1 540.9,255.3 541.0,255.5 C541.1,255.7 541.2,255.8 541.4,256.0 C541.5,256.2 541.6,256.4 541.7,256.6 C541.8,256.8 541.9,257.0 542.0,257.2 C542.1,257.4 542.1,257.6 542.2,257.8 C542.3,258.0 542.4,258.2 542.4,258.4 C542.5,258.6 542.5,258.8 542.6,259.0 C542.6,259.3 542.6,259.5 542.7,259.7 C542.7,259.9 542.7,260.0 542.7,260.2 C542.7,260.4 542.7,260.6 542.7,260.8 C542.7,261.0 542.7,261.2 542.7,261.3 C542.6,261.5 542.6,261.7 542.6,261.8 C542.5,262.0 542.5,262.2 542.4,262.3 C542.3,262.5 542.3,262.6 542.2,262.7 C542.1,262.9 542.0,263.0 542.0,263.1 C541.9,263.2 541.8,263.3 541.7,263.4 C541.6,263.5 541.4,263.6 541.3,263.7"/><path d="M539.9,250.0 C539.9,250.0 540.1,249.9 540.3,249.9 C540.4,249.8 540.5,249.8 540.7,249.8 C540.8,249.8 541.0,249.8 541.1,249.8 C541.3,249.8 541.4,249.8 541.6,249.8 C541.7,249.8 541.9,249.9 542.0,249.9 C542.2,250.0 542.4,250.0 542.5,250.1 C542.7,250.2 542.9,250.2 543.0,250.3 C543.2,250.4 543.3,250.5 543.5,250.6 C543.7,250.7 543.8,250.8 544.0,251.0 C544.1,251.1 544.3,251.2 544.4,251.4 C544.6,251.5 544.7,251.6 544.9,251.8 C545.0,252.0 545.2,252.1 545.3,252.3 C545.4,252.5 545.6,252.6 545.7,252.8 C545.8,253.0 546.0,253.2 546.1,253.4 C546.2,253.6 546.3,253.8 546.4,254.0 C546.5,254.2 546.6,254.4 546.7,254.6 C546.8,254.8 546.9,255.0 546.9,255.2 C547.0,255.4 547.1,255.6 547.1,255.8 C547.2,256.0 547.2,256.2 547.3,256.4 C547.3,256.6 547.4,256.8 547.4,257.0 C547.4,257.2 547.4,257.4 547.4,257.6 C547.4,257.8 547.4,258.0 547.4,258.1 C547.4,258.3 547.4,258.5 547.4,258.7 C547.3,258.9 547.3,259.0 547.3,259.2 C547.2,259.3 547.2,259.5 547.1,259.6 C547.1,259.8 547.0,259.9 546.9,260.1 C546.8,260.2 546.8,260.3 546.7,260.4 C546.6,260.5 546.5,260.6 546.4,260.7 C546.3,260.8 546.1,261.0 546.0,261.0"/><ellipse cx="475" cy="293.8" rx="10.2" ry="16.2" transform="rotate(-29.4 475 293.8)" fill="#fff"/><path d="M484.8,302.4 C484.7,302.6 484.5,303.1 484.4,303.4 C484.3,303.7 484.1,304.0 483.9,304.3 C483.7,304.6 483.5,304.9 483.3,305.1 C483.1,305.3 482.8,305.6 482.6,305.8 C482.3,305.9 482.1,306.1 481.8,306.3 C481.5,306.4 481.2,306.5 480.9,306.6 C480.6,306.7 480.3,306.8 480.0,306.8 C479.7,306.9 479.2,306.9 479.0,306.9"/><path d="M470.8,310.4 L470.4,310.6 L470.0,310.8 L469.6,310.9 L469.2,311.0 L468.8,311.1 L468.4,311.1 L467.9,311.1 L467.5,311.1 L467.0,311.1 L466.5,311.0 L466.0,310.9 L465.6,310.7 L465.1,310.5 L464.6,310.3 L464.1,310.1 L463.6,309.8 L463.2,309.6 L462.7,309.2 L462.2,308.9 L461.8,308.5 L461.3,308.1 L460.9,307.7 L460.5,307.3 L460.0,306.8 L459.6,306.4 L459.2,305.9 L458.9,305.4 L458.5,304.8 L458.2,304.3 L457.8,303.7 L457.5,303.2 L457.3,302.6 L457.0,302.0 L456.7,301.4 L456.5,300.9 L456.3,300.3 L456.2,299.7 L456.0,299.1 L455.9,298.5 L455.8,297.9 L455.7,297.3 L455.6,296.7 L455.6,296.2 L455.6,295.6 L455.6,295.1 L455.7,294.5 L455.8,294.0 L455.9,293.5 L456.0,293.0 L456.1,292.6 L456.3,292.1 L456.5,291.7 L456.7,291.3 L456.9,290.9 L457.2,290.6 L457.5,290.2 L457.8,289.9 L458.1,289.6 L458.4,289.4 L458.8,289.2 L464.8,285.8 L465.2,285.6 L465.6,285.4 L466.0,285.3 L466.4,285.2 L466.8,285.1 L467.2,285.1 L467.7,285.1 L468.1,285.1 L468.6,285.1 L469.1,285.2 L469.6,285.3 L470.0,285.5 L470.5,285.7 L471.0,285.9 L471.5,286.1 L472.0,286.4 L472.4,286.6 L472.9,287.0 L473.4,287.3 L473.8,287.7 L474.3,288.1 L474.7,288.5 L475.1,288.9 L475.6,289.4 L476.0,289.8 L476.4,290.3 L476.7,290.8 L477.1,291.4 L477.4,291.9 L477.8,292.5 L478.1,293.0 L478.3,293.6 L478.6,294.2 L478.9,294.8 L479.1,295.3 L479.3,295.9 L479.4,296.5 L479.6,297.1 L479.7,297.7 L479.8,298.3 L479.9,298.9 L480.0,299.5 L480.0,300.0 L480.0,300.6 L480.0,301.1 L479.9,301.7 L479.8,302.2 L479.7,302.7 L479.6,303.2 L479.5,303.6 L479.3,304.1 L479.1,304.5 L478.9,304.9 L478.7,305.3 L478.4,305.6 L478.1,306.0 L477.8,306.3 L477.5,306.6 L477.2,306.8 L476.8,307.0 Z" fill="#fff"/><ellipse cx="464.8" cy="299.8" rx="8.0" ry="12.2" transform="rotate(-29.4 464.8 299.8)" fill="#fff"/><polyline points="461.5,289.0 470.0,285.5"/><polyline points="469.5,306.0 477.0,302.0"/><polyline points="466.0,292.0 466.5,296.0"/></g>
<path d="M485.3,1116.5 L484.9,1116.6 L484.6,1116.8 L484.2,1116.9 L483.8,1117.0 L483.4,1117.0 L483.0,1117.1 L482.5,1117.1 L482.1,1117.0 L481.7,1117.0 L481.2,1116.9 L480.8,1116.8 L480.3,1116.6 L479.8,1116.4 L479.4,1116.2 L478.9,1116.0 L478.5,1115.7 L478.0,1115.4 L477.6,1115.1 L477.1,1114.8 L476.7,1114.4 L476.2,1114.0 L475.8,1113.6 L475.4,1113.1 L475.0,1112.7 L474.6,1112.2 L474.2,1111.7 L473.8,1111.2 L473.5,1110.7 L473.2,1110.2 L472.8,1109.6 L472.5,1109.1 L472.3,1108.5 L472.0,1108.0 L471.8,1107.4 L471.5,1106.8 L471.3,1106.2 L471.2,1105.7 L471.0,1105.1 L470.9,1104.5 L470.8,1103.9 L470.7,1103.4 L470.6,1102.8 L470.6,1102.2 L470.6,1101.7 L470.6,1101.2 L470.6,1100.7 L470.7,1100.2 L470.8,1099.7 L470.9,1099.2 L471.0,1098.8 L471.2,1098.3 L471.4,1097.9 L471.6,1097.5 L471.8,1097.2 L472.0,1096.8 L472.3,1096.5 L472.6,1096.2 L472.9,1096.0 L473.2,1095.7 L473.5,1095.5 L482.5,1090.5 L482.9,1090.4 L483.2,1090.2 L483.6,1090.1 L484.0,1090.0 L484.4,1090.0 L484.8,1089.9 L485.3,1089.9 L485.7,1090.0 L486.1,1090.0 L486.6,1090.1 L487.0,1090.2 L487.5,1090.4 L488.0,1090.6 L488.4,1090.8 L488.9,1091.0 L489.3,1091.3 L489.8,1091.6 L490.2,1091.9 L490.7,1092.2 L491.1,1092.6 L491.6,1093.0 L492.0,1093.4 L492.4,1093.9 L492.8,1094.3 L493.2,1094.8 L493.6,1095.3 L494.0,1095.8 L494.3,1096.3 L494.6,1096.8 L495.0,1097.4 L495.3,1097.9 L495.5,1098.5 L495.8,1099.0 L496.0,1099.6 L496.3,1100.2 L496.5,1100.8 L496.6,1101.3 L496.8,1101.9 L496.9,1102.5 L497.0,1103.1 L497.1,1103.6 L497.2,1104.2 L497.2,1104.8 L497.2,1105.3 L497.2,1105.8 L497.2,1106.3 L497.1,1106.8 L497.0,1107.3 L496.9,1107.8 L496.8,1108.2 L496.6,1108.7 L496.4,1109.1 L496.2,1109.5 L496.0,1109.8 L495.8,1110.2 L495.5,1110.5 L495.2,1110.8 L494.9,1111.0 L494.6,1111.3 L494.3,1111.5 Z" fill="#fff"/>
<ellipse cx="479.4" cy="1106.0" rx="7.5" ry="12" transform="rotate(-29.5 479.4 1106.0)" fill="#fff"/>
<polyline points="483.0,1092.0 488.5,1089.0"/>
<polyline points="492.0,1113.0 496.5,1110.5"/>
<polyline points="494.5,1096.0 496.5,1103.0"/>
<ellipse cx="477.4" cy="1107" rx="10.8" ry="16.2" transform="rotate(-29.5 477.4 1107)" fill="#fff"/>
<path d="M473.4,1093.6 C473.5,1093.6 474.1,1093.7 474.4,1093.7 C474.8,1093.8 475.1,1093.8 475.5,1093.9 C475.9,1094.1 476.2,1094.2 476.6,1094.3 C477.0,1094.5 477.3,1094.6 477.7,1094.8 C478.1,1095.0 478.4,1095.3 478.8,1095.5 C479.2,1095.7 479.5,1096.0 479.9,1096.3 C480.3,1096.5 480.6,1096.8 481.0,1097.2 C481.3,1097.5 481.7,1097.8 482.0,1098.2 C482.3,1098.5 482.6,1098.9 483.0,1099.3 C483.3,1099.6 483.7,1100.2 483.9,1100.4"/>
<path d="M474.1,1101.1 L397.2,1144.7 L403.8,1156.5 L480.7,1112.9 Z" fill="#fff" stroke="none"/>
<polyline points="474.1,1101.1 397.2,1144.7"/>
<polyline points="480.7,1112.9 403.8,1156.5"/>
<path d="M474.1,1101.1 C474.1,1101.0 474.3,1100.9 474.5,1100.9 C474.6,1100.8 474.8,1100.8 475.0,1100.7 C475.1,1100.7 475.3,1100.7 475.5,1100.7 C475.6,1100.7 475.8,1100.7 476.0,1100.7 C476.1,1100.7 476.3,1100.7 476.5,1100.7 C476.7,1100.8 476.9,1100.8 477.0,1100.9 C477.2,1100.9 477.4,1101.0 477.6,1101.1 C477.8,1101.2 478.0,1101.3 478.1,1101.4 C478.3,1101.5 478.5,1101.6 478.7,1101.7 C478.8,1101.8 479.0,1101.9 479.2,1102.1 C479.4,1102.2 479.5,1102.4 479.7,1102.5 C479.9,1102.7 480.0,1102.8 480.2,1103.0 C480.3,1103.2 480.5,1103.4 480.6,1103.6 C480.8,1103.7 480.9,1103.9 481.0,1104.1 C481.2,1104.3 481.3,1104.5 481.4,1104.7 C481.5,1104.9 481.6,1105.2 481.7,1105.4 C481.8,1105.6 481.9,1105.8 482.0,1106.0 C482.1,1106.2 482.2,1106.5 482.2,1106.7 C482.3,1106.9 482.4,1107.1 482.4,1107.3 C482.5,1107.6 482.5,1107.8 482.5,1108.0 C482.6,1108.2 482.6,1108.4 482.6,1108.6 C482.6,1108.9 482.6,1109.1 482.6,1109.3 C482.6,1109.5 482.6,1109.7 482.6,1109.9 C482.5,1110.1 482.5,1110.3 482.5,1110.5 C482.4,1110.6 482.4,1110.8 482.3,1111.0 C482.2,1111.2 482.2,1111.3 482.1,1111.5 C482.0,1111.6 481.9,1111.8 481.8,1111.9 C481.7,1112.1 481.6,1112.2 481.5,1112.3 C481.4,1112.4 481.3,1112.5 481.1,1112.6 C481.0,1112.7 480.8,1112.9 480.7,1112.9"/>
<path d="M400.0,1143.1 C400.0,1143.1 400.2,1143.0 400.4,1142.9 C400.5,1142.9 400.7,1142.8 400.8,1142.8 C401.0,1142.8 401.2,1142.8 401.3,1142.8 C401.5,1142.8 401.6,1142.8 401.8,1142.9 C402.0,1142.9 402.1,1142.9 402.3,1143.0 C402.5,1143.0 402.7,1143.1 402.8,1143.2 C403.0,1143.2 403.2,1143.3 403.4,1143.4 C403.5,1143.5 403.7,1143.6 403.9,1143.7 C404.1,1143.8 404.2,1144.0 404.4,1144.1 C404.6,1144.2 404.7,1144.4 404.9,1144.5 C405.1,1144.7 405.2,1144.8 405.4,1145.0 C405.5,1145.2 405.7,1145.3 405.8,1145.5 C406.0,1145.7 406.1,1145.9 406.3,1146.1 C406.4,1146.3 406.5,1146.5 406.7,1146.7 C406.8,1146.9 406.9,1147.1 407.0,1147.3 C407.1,1147.5 407.2,1147.8 407.3,1148.0 C407.4,1148.2 407.5,1148.4 407.6,1148.6 C407.7,1148.8 407.7,1149.1 407.8,1149.3 C407.9,1149.5 407.9,1149.7 408.0,1150.0 C408.0,1150.2 408.1,1150.4 408.1,1150.6 C408.1,1150.8 408.1,1151.0 408.1,1151.2 C408.2,1151.4 408.2,1151.6 408.1,1151.8 C408.1,1152.0 408.1,1152.2 408.1,1152.4 C408.1,1152.6 408.0,1152.8 408.0,1153.0 C407.9,1153.1 407.9,1153.3 407.8,1153.5 C407.7,1153.6 407.7,1153.8 407.6,1153.9 C407.5,1154.1 407.4,1154.2 407.3,1154.3 C407.2,1154.4 407.1,1154.5 407.0,1154.6 C406.9,1154.7 406.7,1154.9 406.7,1154.9"/>
<path d="M403.7,1141.0 C403.8,1140.9 404.0,1140.8 404.2,1140.8 C404.3,1140.7 404.5,1140.7 404.6,1140.7 C404.8,1140.7 404.9,1140.7 405.1,1140.7 C405.2,1140.7 405.4,1140.7 405.6,1140.7 C405.7,1140.7 405.9,1140.8 406.1,1140.8 C406.3,1140.9 406.4,1140.9 406.6,1141.0 C406.8,1141.1 407.0,1141.2 407.1,1141.3 C407.3,1141.4 407.5,1141.5 407.7,1141.6 C407.8,1141.7 408.0,1141.8 408.2,1142.0 C408.3,1142.1 408.5,1142.2 408.7,1142.4 C408.8,1142.5 409.0,1142.7 409.2,1142.9 C409.3,1143.0 409.5,1143.2 409.6,1143.4 C409.8,1143.6 409.9,1143.8 410.0,1144.0 C410.2,1144.2 410.3,1144.4 410.4,1144.6 C410.6,1144.8 410.7,1145.0 410.8,1145.2 C410.9,1145.4 411.0,1145.6 411.1,1145.8 C411.2,1146.0 411.3,1146.3 411.4,1146.5 C411.4,1146.7 411.5,1146.9 411.6,1147.2 C411.6,1147.4 411.7,1147.6 411.7,1147.8 C411.8,1148.0 411.8,1148.3 411.9,1148.5 C411.9,1148.7 411.9,1148.9 411.9,1149.1 C411.9,1149.3 411.9,1149.5 411.9,1149.7 C411.9,1149.9 411.9,1150.1 411.9,1150.3 C411.8,1150.5 411.8,1150.7 411.7,1150.8 C411.7,1151.0 411.6,1151.2 411.6,1151.3 C411.5,1151.5 411.4,1151.6 411.4,1151.8 C411.3,1151.9 411.2,1152.0 411.1,1152.2 C411.0,1152.3 410.9,1152.4 410.8,1152.5 C410.7,1152.6 410.5,1152.7 410.4,1152.8"/>
<path d="M407.5,1138.8 C407.6,1138.8 407.8,1138.7 407.9,1138.7 C408.1,1138.6 408.2,1138.6 408.4,1138.6 C408.5,1138.5 408.7,1138.5 408.8,1138.5 C409.0,1138.5 409.2,1138.6 409.3,1138.6 C409.5,1138.6 409.7,1138.6 409.9,1138.7 C410.0,1138.7 410.2,1138.8 410.4,1138.9 C410.5,1139.0 410.7,1139.0 410.9,1139.1 C411.1,1139.2 411.2,1139.3 411.4,1139.4 C411.6,1139.6 411.8,1139.7 411.9,1139.8 C412.1,1140.0 412.3,1140.1 412.4,1140.2 C412.6,1140.4 412.8,1140.6 412.9,1140.7 C413.1,1140.9 413.2,1141.1 413.4,1141.3 C413.5,1141.4 413.7,1141.6 413.8,1141.8 C413.9,1142.0 414.1,1142.2 414.2,1142.4 C414.3,1142.6 414.4,1142.8 414.6,1143.0 C414.7,1143.3 414.8,1143.5 414.9,1143.7 C415.0,1143.9 415.1,1144.1 415.1,1144.4 C415.2,1144.6 415.3,1144.8 415.3,1145.0 C415.4,1145.2 415.5,1145.5 415.5,1145.7 C415.6,1145.9 415.6,1146.1 415.6,1146.3 C415.7,1146.5 415.7,1146.8 415.7,1147.0 C415.7,1147.2 415.7,1147.4 415.7,1147.6 C415.7,1147.8 415.7,1148.0 415.6,1148.2 C415.6,1148.3 415.6,1148.5 415.5,1148.7 C415.5,1148.9 415.4,1149.0 415.3,1149.2 C415.3,1149.4 415.2,1149.5 415.1,1149.6 C415.1,1149.8 415.0,1149.9 414.9,1150.0 C414.8,1150.2 414.7,1150.3 414.6,1150.4 C414.4,1150.5 414.3,1150.6 414.2,1150.6"/>
<path d="M411.3,1136.7 C411.3,1136.7 411.5,1136.6 411.7,1136.5 C411.8,1136.5 412.0,1136.4 412.1,1136.4 C412.3,1136.4 412.5,1136.4 412.6,1136.4 C412.8,1136.4 412.9,1136.4 413.1,1136.4 C413.3,1136.5 413.5,1136.5 413.6,1136.6 C413.8,1136.6 414.0,1136.7 414.1,1136.7 C414.3,1136.8 414.5,1136.9 414.7,1137.0 C414.8,1137.1 415.0,1137.2 415.2,1137.3 C415.4,1137.4 415.5,1137.5 415.7,1137.7 C415.9,1137.8 416.0,1138.0 416.2,1138.1 C416.4,1138.3 416.5,1138.4 416.7,1138.6 C416.8,1138.8 417.0,1138.9 417.1,1139.1 C417.3,1139.3 417.4,1139.5 417.6,1139.7 C417.7,1139.9 417.8,1140.1 418.0,1140.3 C418.1,1140.5 418.2,1140.7 418.3,1140.9 C418.4,1141.1 418.5,1141.3 418.6,1141.6 C418.7,1141.8 418.8,1142.0 418.9,1142.2 C419.0,1142.4 419.1,1142.7 419.1,1142.9 C419.2,1143.1 419.2,1143.3 419.3,1143.5 C419.3,1143.8 419.4,1144.0 419.4,1144.2 C419.4,1144.4 419.4,1144.6 419.4,1144.8 C419.5,1145.0 419.5,1145.2 419.4,1145.4 C419.4,1145.6 419.4,1145.8 419.4,1146.0 C419.4,1146.2 419.3,1146.4 419.3,1146.6 C419.2,1146.7 419.2,1146.9 419.1,1147.1 C419.1,1147.2 419.0,1147.4 418.9,1147.5 C418.8,1147.6 418.7,1147.8 418.6,1147.9 C418.5,1148.0 418.4,1148.1 418.3,1148.2 C418.2,1148.3 418.0,1148.5 418.0,1148.5"/>
<path d="M415.0,1134.5 C415.1,1134.5 415.3,1134.4 415.5,1134.4 C415.6,1134.3 415.8,1134.3 415.9,1134.3 C416.1,1134.3 416.2,1134.3 416.4,1134.3 C416.5,1134.3 416.7,1134.3 416.9,1134.3 C417.0,1134.3 417.2,1134.4 417.4,1134.4 C417.6,1134.5 417.7,1134.5 417.9,1134.6 C418.1,1134.7 418.3,1134.8 418.4,1134.9 C418.6,1135.0 418.8,1135.1 419.0,1135.2 C419.1,1135.3 419.3,1135.4 419.5,1135.5 C419.6,1135.7 419.8,1135.8 420.0,1136.0 C420.1,1136.1 420.3,1136.3 420.5,1136.5 C420.6,1136.6 420.8,1136.8 420.9,1137.0 C421.1,1137.2 421.2,1137.4 421.3,1137.5 C421.5,1137.7 421.6,1137.9 421.7,1138.1 C421.9,1138.4 422.0,1138.6 422.1,1138.8 C422.2,1139.0 422.3,1139.2 422.4,1139.4 C422.5,1139.6 422.6,1139.9 422.7,1140.1 C422.7,1140.3 422.8,1140.5 422.9,1140.7 C422.9,1141.0 423.0,1141.2 423.0,1141.4 C423.1,1141.6 423.1,1141.8 423.2,1142.1 C423.2,1142.3 423.2,1142.5 423.2,1142.7 C423.2,1142.9 423.2,1143.1 423.2,1143.3 C423.2,1143.5 423.2,1143.7 423.2,1143.9 C423.1,1144.1 423.1,1144.2 423.0,1144.4 C423.0,1144.6 422.9,1144.8 422.9,1144.9 C422.8,1145.1 422.7,1145.2 422.7,1145.4 C422.6,1145.5 422.5,1145.6 422.4,1145.8 C422.3,1145.9 422.2,1146.0 422.1,1146.1 C422.0,1146.2 421.8,1146.3 421.7,1146.4"/>
<path d="M418.8,1132.4 C418.9,1132.4 419.1,1132.3 419.2,1132.2 C419.4,1132.2 419.5,1132.2 419.7,1132.1 C419.8,1132.1 420.0,1132.1 420.2,1132.1 C420.3,1132.1 420.5,1132.1 420.6,1132.2 C420.8,1132.2 421.0,1132.2 421.2,1132.3 C421.3,1132.3 421.5,1132.4 421.7,1132.5 C421.9,1132.5 422.0,1132.6 422.2,1132.7 C422.4,1132.8 422.6,1132.9 422.7,1133.0 C422.9,1133.1 423.1,1133.3 423.2,1133.4 C423.4,1133.5 423.6,1133.7 423.7,1133.8 C423.9,1134.0 424.1,1134.2 424.2,1134.3 C424.4,1134.5 424.5,1134.7 424.7,1134.8 C424.8,1135.0 425.0,1135.2 425.1,1135.4 C425.2,1135.6 425.4,1135.8 425.5,1136.0 C425.6,1136.2 425.7,1136.4 425.9,1136.6 C426.0,1136.9 426.1,1137.1 426.2,1137.3 C426.3,1137.5 426.4,1137.7 426.4,1137.9 C426.5,1138.2 426.6,1138.4 426.7,1138.6 C426.7,1138.8 426.8,1139.1 426.8,1139.3 C426.9,1139.5 426.9,1139.7 426.9,1139.9 C427.0,1140.1 427.0,1140.3 427.0,1140.6 C427.0,1140.8 427.0,1141.0 427.0,1141.2 C427.0,1141.4 427.0,1141.6 426.9,1141.7 C426.9,1141.9 426.9,1142.1 426.8,1142.3 C426.8,1142.5 426.7,1142.6 426.7,1142.8 C426.6,1142.9 426.5,1143.1 426.4,1143.2 C426.4,1143.4 426.3,1143.5 426.2,1143.6 C426.1,1143.7 426.0,1143.9 425.9,1144.0 C425.7,1144.1 425.6,1144.2 425.5,1144.2"/>
<path d="M422.6,1130.3 C422.7,1130.2 422.9,1130.1 423.0,1130.1 C423.1,1130.1 423.3,1130.0 423.4,1130.0 C423.6,1130.0 423.8,1130.0 423.9,1130.0 C424.1,1130.0 424.2,1130.0 424.4,1130.0 C424.6,1130.1 424.8,1130.1 424.9,1130.1 C425.1,1130.2 425.3,1130.3 425.4,1130.3 C425.6,1130.4 425.8,1130.5 426.0,1130.6 C426.1,1130.7 426.3,1130.8 426.5,1130.9 C426.7,1131.0 426.8,1131.1 427.0,1131.3 C427.2,1131.4 427.3,1131.6 427.5,1131.7 C427.7,1131.9 427.8,1132.0 428.0,1132.2 C428.2,1132.4 428.3,1132.5 428.5,1132.7 C428.6,1132.9 428.7,1133.1 428.9,1133.3 C429.0,1133.5 429.1,1133.7 429.3,1133.9 C429.4,1134.1 429.5,1134.3 429.6,1134.5 C429.7,1134.7 429.8,1134.9 429.9,1135.1 C430.0,1135.4 430.1,1135.6 430.2,1135.8 C430.3,1136.0 430.4,1136.3 430.4,1136.5 C430.5,1136.7 430.5,1136.9 430.6,1137.1 C430.6,1137.4 430.7,1137.6 430.7,1137.8 C430.7,1138.0 430.7,1138.2 430.8,1138.4 C430.8,1138.6 430.8,1138.8 430.8,1139.0 C430.7,1139.2 430.7,1139.4 430.7,1139.6 C430.7,1139.8 430.6,1140.0 430.6,1140.1 C430.5,1140.3 430.5,1140.5 430.4,1140.6 C430.4,1140.8 430.3,1141.0 430.2,1141.1 C430.1,1141.2 430.0,1141.4 429.9,1141.5 C429.8,1141.6 429.7,1141.7 429.6,1141.8 C429.5,1141.9 429.3,1142.1 429.3,1142.1"/>
<path d="M426.3,1128.1 C426.4,1128.1 426.6,1128.0 426.8,1128.0 C426.9,1127.9 427.1,1127.9 427.2,1127.9 C427.4,1127.9 427.5,1127.8 427.7,1127.9 C427.9,1127.9 428.0,1127.9 428.2,1127.9 C428.4,1127.9 428.5,1128.0 428.7,1128.0 C428.9,1128.1 429.0,1128.1 429.2,1128.2 C429.4,1128.3 429.6,1128.4 429.7,1128.4 C429.9,1128.5 430.1,1128.6 430.3,1128.8 C430.4,1128.9 430.6,1129.0 430.8,1129.1 C430.9,1129.3 431.1,1129.4 431.3,1129.6 C431.4,1129.7 431.6,1129.9 431.8,1130.0 C431.9,1130.2 432.1,1130.4 432.2,1130.6 C432.4,1130.8 432.5,1130.9 432.6,1131.1 C432.8,1131.3 432.9,1131.5 433.0,1131.7 C433.2,1131.9 433.3,1132.2 433.4,1132.4 C433.5,1132.6 433.6,1132.8 433.7,1133.0 C433.8,1133.2 433.9,1133.5 434.0,1133.7 C434.1,1133.9 434.1,1134.1 434.2,1134.3 C434.3,1134.6 434.3,1134.8 434.4,1135.0 C434.4,1135.2 434.4,1135.4 434.5,1135.6 C434.5,1135.9 434.5,1136.1 434.5,1136.3 C434.5,1136.5 434.5,1136.7 434.5,1136.9 C434.5,1137.1 434.5,1137.3 434.5,1137.5 C434.4,1137.7 434.4,1137.8 434.4,1138.0 C434.3,1138.2 434.3,1138.4 434.2,1138.5 C434.1,1138.7 434.1,1138.8 434.0,1139.0 C433.9,1139.1 433.8,1139.2 433.7,1139.4 C433.6,1139.5 433.5,1139.6 433.4,1139.7 C433.3,1139.8 433.1,1139.9 433.0,1140.0"/>
<path d="M430.1,1126.0 C430.2,1126.0 430.4,1125.9 430.5,1125.8 C430.7,1125.8 430.8,1125.8 431.0,1125.7 C431.1,1125.7 431.3,1125.7 431.5,1125.7 C431.6,1125.7 431.8,1125.7 432.0,1125.8 C432.1,1125.8 432.3,1125.8 432.5,1125.9 C432.6,1125.9 432.8,1126.0 433.0,1126.1 C433.2,1126.1 433.3,1126.2 433.5,1126.3 C433.7,1126.4 433.9,1126.5 434.0,1126.6 C434.2,1126.7 434.4,1126.9 434.5,1127.0 C434.7,1127.1 434.9,1127.3 435.0,1127.4 C435.2,1127.6 435.4,1127.7 435.5,1127.9 C435.7,1128.1 435.8,1128.3 436.0,1128.4 C436.1,1128.6 436.3,1128.8 436.4,1129.0 C436.6,1129.2 436.7,1129.4 436.8,1129.6 C436.9,1129.8 437.1,1130.0 437.2,1130.2 C437.3,1130.4 437.4,1130.7 437.5,1130.9 C437.6,1131.1 437.7,1131.3 437.7,1131.5 C437.8,1131.8 437.9,1132.0 438.0,1132.2 C438.0,1132.4 438.1,1132.6 438.1,1132.9 C438.2,1133.1 438.2,1133.3 438.2,1133.5 C438.3,1133.7 438.3,1133.9 438.3,1134.1 C438.3,1134.4 438.3,1134.6 438.3,1134.8 C438.3,1135.0 438.3,1135.1 438.2,1135.3 C438.2,1135.5 438.2,1135.7 438.1,1135.9 C438.1,1136.0 438.0,1136.2 438.0,1136.4 C437.9,1136.5 437.8,1136.7 437.7,1136.8 C437.7,1137.0 437.6,1137.1 437.5,1137.2 C437.4,1137.3 437.3,1137.5 437.2,1137.6 C437.1,1137.7 436.9,1137.8 436.8,1137.8"/>
<ellipse cx="400.5" cy="1150.6" rx="4.2" ry="6.8" transform="rotate(-29.5 400.5 1150.6)" fill="#fff"/>
<g transform="translate(-33.1 -443.2)"><path d="M485.3,1116.5 L484.9,1116.6 L484.6,1116.8 L484.2,1116.9 L483.8,1117.0 L483.4,1117.0 L483.0,1117.1 L482.5,1117.1 L482.1,1117.0 L481.7,1117.0 L481.2,1116.9 L480.8,1116.8 L480.3,1116.6 L479.8,1116.4 L479.4,1116.2 L478.9,1116.0 L478.5,1115.7 L478.0,1115.4 L477.6,1115.1 L477.1,1114.8 L476.7,1114.4 L476.2,1114.0 L475.8,1113.6 L475.4,1113.1 L475.0,1112.7 L474.6,1112.2 L474.2,1111.7 L473.8,1111.2 L473.5,1110.7 L473.2,1110.2 L472.8,1109.6 L472.5,1109.1 L472.3,1108.5 L472.0,1108.0 L471.8,1107.4 L471.5,1106.8 L471.3,1106.2 L471.2,1105.7 L471.0,1105.1 L470.9,1104.5 L470.8,1103.9 L470.7,1103.4 L470.6,1102.8 L470.6,1102.2 L470.6,1101.7 L470.6,1101.2 L470.6,1100.7 L470.7,1100.2 L470.8,1099.7 L470.9,1099.2 L471.0,1098.8 L471.2,1098.3 L471.4,1097.9 L471.6,1097.5 L471.8,1097.2 L472.0,1096.8 L472.3,1096.5 L472.6,1096.2 L472.9,1096.0 L473.2,1095.7 L473.5,1095.5 L482.5,1090.5 L482.9,1090.4 L483.2,1090.2 L483.6,1090.1 L484.0,1090.0 L484.4,1090.0 L484.8,1089.9 L485.3,1089.9 L485.7,1090.0 L486.1,1090.0 L486.6,1090.1 L487.0,1090.2 L487.5,1090.4 L488.0,1090.6 L488.4,1090.8 L488.9,1091.0 L489.3,1091.3 L489.8,1091.6 L490.2,1091.9 L490.7,1092.2 L491.1,1092.6 L491.6,1093.0 L492.0,1093.4 L492.4,1093.9 L492.8,1094.3 L493.2,1094.8 L493.6,1095.3 L494.0,1095.8 L494.3,1096.3 L494.6,1096.8 L495.0,1097.4 L495.3,1097.9 L495.5,1098.5 L495.8,1099.0 L496.0,1099.6 L496.3,1100.2 L496.5,1100.8 L496.6,1101.3 L496.8,1101.9 L496.9,1102.5 L497.0,1103.1 L497.1,1103.6 L497.2,1104.2 L497.2,1104.8 L497.2,1105.3 L497.2,1105.8 L497.2,1106.3 L497.1,1106.8 L497.0,1107.3 L496.9,1107.8 L496.8,1108.2 L496.6,1108.7 L496.4,1109.1 L496.2,1109.5 L496.0,1109.8 L495.8,1110.2 L495.5,1110.5 L495.2,1110.8 L494.9,1111.0 L494.6,1111.3 L494.3,1111.5 Z" fill="#fff"/><ellipse cx="479.4" cy="1106.0" rx="7.5" ry="12" transform="rotate(-29.5 479.4 1106.0)" fill="#fff"/><polyline points="483.0,1092.0 488.5,1089.0"/><polyline points="492.0,1113.0 496.5,1110.5"/><polyline points="494.5,1096.0 496.5,1103.0"/><ellipse cx="477.4" cy="1107" rx="10.8" ry="16.2" transform="rotate(-29.5 477.4 1107)" fill="#fff"/><path d="M473.4,1093.6 C473.5,1093.6 474.1,1093.7 474.4,1093.7 C474.8,1093.8 475.1,1093.8 475.5,1093.9 C475.9,1094.1 476.2,1094.2 476.6,1094.3 C477.0,1094.5 477.3,1094.6 477.7,1094.8 C478.1,1095.0 478.4,1095.3 478.8,1095.5 C479.2,1095.7 479.5,1096.0 479.9,1096.3 C480.3,1096.5 480.6,1096.8 481.0,1097.2 C481.3,1097.5 481.7,1097.8 482.0,1098.2 C482.3,1098.5 482.6,1098.9 483.0,1099.3 C483.3,1099.6 483.7,1100.2 483.9,1100.4"/><path d="M474.1,1101.1 L397.2,1144.7 L403.8,1156.5 L480.7,1112.9 Z" fill="#fff" stroke="none"/><polyline points="474.1,1101.1 397.2,1144.7"/><polyline points="480.7,1112.9 403.8,1156.5"/><path d="M474.1,1101.1 C474.1,1101.0 474.3,1100.9 474.5,1100.9 C474.6,1100.8 474.8,1100.8 475.0,1100.7 C475.1,1100.7 475.3,1100.7 475.5,1100.7 C475.6,1100.7 475.8,1100.7 476.0,1100.7 C476.1,1100.7 476.3,1100.7 476.5,1100.7 C476.7,1100.8 476.9,1100.8 477.0,1100.9 C477.2,1100.9 477.4,1101.0 477.6,1101.1 C477.8,1101.2 478.0,1101.3 478.1,1101.4 C478.3,1101.5 478.5,1101.6 478.7,1101.7 C478.8,1101.8 479.0,1101.9 479.2,1102.1 C479.4,1102.2 479.5,1102.4 479.7,1102.5 C479.9,1102.7 480.0,1102.8 480.2,1103.0 C480.3,1103.2 480.5,1103.4 480.6,1103.6 C480.8,1103.7 480.9,1103.9 481.0,1104.1 C481.2,1104.3 481.3,1104.5 481.4,1104.7 C481.5,1104.9 481.6,1105.2 481.7,1105.4 C481.8,1105.6 481.9,1105.8 482.0,1106.0 C482.1,1106.2 482.2,1106.5 482.2,1106.7 C482.3,1106.9 482.4,1107.1 482.4,1107.3 C482.5,1107.6 482.5,1107.8 482.5,1108.0 C482.6,1108.2 482.6,1108.4 482.6,1108.6 C482.6,1108.9 482.6,1109.1 482.6,1109.3 C482.6,1109.5 482.6,1109.7 482.6,1109.9 C482.5,1110.1 482.5,1110.3 482.5,1110.5 C482.4,1110.6 482.4,1110.8 482.3,1111.0 C482.2,1111.2 482.2,1111.3 482.1,1111.5 C482.0,1111.6 481.9,1111.8 481.8,1111.9 C481.7,1112.1 481.6,1112.2 481.5,1112.3 C481.4,1112.4 481.3,1112.5 481.1,1112.6 C481.0,1112.7 480.8,1112.9 480.7,1112.9"/><path d="M400.0,1143.1 C400.0,1143.1 400.2,1143.0 400.4,1142.9 C400.5,1142.9 400.7,1142.8 400.8,1142.8 C401.0,1142.8 401.2,1142.8 401.3,1142.8 C401.5,1142.8 401.6,1142.8 401.8,1142.9 C402.0,1142.9 402.1,1142.9 402.3,1143.0 C402.5,1143.0 402.7,1143.1 402.8,1143.2 C403.0,1143.2 403.2,1143.3 403.4,1143.4 C403.5,1143.5 403.7,1143.6 403.9,1143.7 C404.1,1143.8 404.2,1144.0 404.4,1144.1 C404.6,1144.2 404.7,1144.4 404.9,1144.5 C405.1,1144.7 405.2,1144.8 405.4,1145.0 C405.5,1145.2 405.7,1145.3 405.8,1145.5 C406.0,1145.7 406.1,1145.9 406.3,1146.1 C406.4,1146.3 406.5,1146.5 406.7,1146.7 C406.8,1146.9 406.9,1147.1 407.0,1147.3 C407.1,1147.5 407.2,1147.8 407.3,1148.0 C407.4,1148.2 407.5,1148.4 407.6,1148.6 C407.7,1148.8 407.7,1149.1 407.8,1149.3 C407.9,1149.5 407.9,1149.7 408.0,1150.0 C408.0,1150.2 408.1,1150.4 408.1,1150.6 C408.1,1150.8 408.1,1151.0 408.1,1151.2 C408.2,1151.4 408.2,1151.6 408.1,1151.8 C408.1,1152.0 408.1,1152.2 408.1,1152.4 C408.1,1152.6 408.0,1152.8 408.0,1153.0 C407.9,1153.1 407.9,1153.3 407.8,1153.5 C407.7,1153.6 407.7,1153.8 407.6,1153.9 C407.5,1154.1 407.4,1154.2 407.3,1154.3 C407.2,1154.4 407.1,1154.5 407.0,1154.6 C406.9,1154.7 406.7,1154.9 406.7,1154.9"/><path d="M403.7,1141.0 C403.8,1140.9 404.0,1140.8 404.2,1140.8 C404.3,1140.7 404.5,1140.7 404.6,1140.7 C404.8,1140.7 404.9,1140.7 405.1,1140.7 C405.2,1140.7 405.4,1140.7 405.6,1140.7 C405.7,1140.7 405.9,1140.8 406.1,1140.8 C406.3,1140.9 406.4,1140.9 406.6,1141.0 C406.8,1141.1 407.0,1141.2 407.1,1141.3 C407.3,1141.4 407.5,1141.5 407.7,1141.6 C407.8,1141.7 408.0,1141.8 408.2,1142.0 C408.3,1142.1 408.5,1142.2 408.7,1142.4 C408.8,1142.5 409.0,1142.7 409.2,1142.9 C409.3,1143.0 409.5,1143.2 409.6,1143.4 C409.8,1143.6 409.9,1143.8 410.0,1144.0 C410.2,1144.2 410.3,1144.4 410.4,1144.6 C410.6,1144.8 410.7,1145.0 410.8,1145.2 C410.9,1145.4 411.0,1145.6 411.1,1145.8 C411.2,1146.0 411.3,1146.3 411.4,1146.5 C411.4,1146.7 411.5,1146.9 411.6,1147.2 C411.6,1147.4 411.7,1147.6 411.7,1147.8 C411.8,1148.0 411.8,1148.3 411.9,1148.5 C411.9,1148.7 411.9,1148.9 411.9,1149.1 C411.9,1149.3 411.9,1149.5 411.9,1149.7 C411.9,1149.9 411.9,1150.1 411.9,1150.3 C411.8,1150.5 411.8,1150.7 411.7,1150.8 C411.7,1151.0 411.6,1151.2 411.6,1151.3 C411.5,1151.5 411.4,1151.6 411.4,1151.8 C411.3,1151.9 411.2,1152.0 411.1,1152.2 C411.0,1152.3 410.9,1152.4 410.8,1152.5 C410.7,1152.6 410.5,1152.7 410.4,1152.8"/><path d="M407.5,1138.8 C407.6,1138.8 407.8,1138.7 407.9,1138.7 C408.1,1138.6 408.2,1138.6 408.4,1138.6 C408.5,1138.5 408.7,1138.5 408.8,1138.5 C409.0,1138.5 409.2,1138.6 409.3,1138.6 C409.5,1138.6 409.7,1138.6 409.9,1138.7 C410.0,1138.7 410.2,1138.8 410.4,1138.9 C410.5,1139.0 410.7,1139.0 410.9,1139.1 C411.1,1139.2 411.2,1139.3 411.4,1139.4 C411.6,1139.6 411.8,1139.7 411.9,1139.8 C412.1,1140.0 412.3,1140.1 412.4,1140.2 C412.6,1140.4 412.8,1140.6 412.9,1140.7 C413.1,1140.9 413.2,1141.1 413.4,1141.3 C413.5,1141.4 413.7,1141.6 413.8,1141.8 C413.9,1142.0 414.1,1142.2 414.2,1142.4 C414.3,1142.6 414.4,1142.8 414.6,1143.0 C414.7,1143.3 414.8,1143.5 414.9,1143.7 C415.0,1143.9 415.1,1144.1 415.1,1144.4 C415.2,1144.6 415.3,1144.8 415.3,1145.0 C415.4,1145.2 415.5,1145.5 415.5,1145.7 C415.6,1145.9 415.6,1146.1 415.6,1146.3 C415.7,1146.5 415.7,1146.8 415.7,1147.0 C415.7,1147.2 415.7,1147.4 415.7,1147.6 C415.7,1147.8 415.7,1148.0 415.6,1148.2 C415.6,1148.3 415.6,1148.5 415.5,1148.7 C415.5,1148.9 415.4,1149.0 415.3,1149.2 C415.3,1149.4 415.2,1149.5 415.1,1149.6 C415.1,1149.8 415.0,1149.9 414.9,1150.0 C414.8,1150.2 414.7,1150.3 414.6,1150.4 C414.4,1150.5 414.3,1150.6 414.2,1150.6"/><path d="M411.3,1136.7 C411.3,1136.7 411.5,1136.6 411.7,1136.5 C411.8,1136.5 412.0,1136.4 412.1,1136.4 C412.3,1136.4 412.5,1136.4 412.6,1136.4 C412.8,1136.4 412.9,1136.4 413.1,1136.4 C413.3,1136.5 413.5,1136.5 413.6,1136.6 C413.8,1136.6 414.0,1136.7 414.1,1136.7 C414.3,1136.8 414.5,1136.9 414.7,1137.0 C414.8,1137.1 415.0,1137.2 415.2,1137.3 C415.4,1137.4 415.5,1137.5 415.7,1137.7 C415.9,1137.8 416.0,1138.0 416.2,1138.1 C416.4,1138.3 416.5,1138.4 416.7,1138.6 C416.8,1138.8 417.0,1138.9 417.1,1139.1 C417.3,1139.3 417.4,1139.5 417.6,1139.7 C417.7,1139.9 417.8,1140.1 418.0,1140.3 C418.1,1140.5 418.2,1140.7 418.3,1140.9 C418.4,1141.1 418.5,1141.3 418.6,1141.6 C418.7,1141.8 418.8,1142.0 418.9,1142.2 C419.0,1142.4 419.1,1142.7 419.1,1142.9 C419.2,1143.1 419.2,1143.3 419.3,1143.5 C419.3,1143.8 419.4,1144.0 419.4,1144.2 C419.4,1144.4 419.4,1144.6 419.4,1144.8 C419.5,1145.0 419.5,1145.2 419.4,1145.4 C419.4,1145.6 419.4,1145.8 419.4,1146.0 C419.4,1146.2 419.3,1146.4 419.3,1146.6 C419.2,1146.7 419.2,1146.9 419.1,1147.1 C419.1,1147.2 419.0,1147.4 418.9,1147.5 C418.8,1147.6 418.7,1147.8 418.6,1147.9 C418.5,1148.0 418.4,1148.1 418.3,1148.2 C418.2,1148.3 418.0,1148.5 418.0,1148.5"/><path d="M415.0,1134.5 C415.1,1134.5 415.3,1134.4 415.5,1134.4 C415.6,1134.3 415.8,1134.3 415.9,1134.3 C416.1,1134.3 416.2,1134.3 416.4,1134.3 C416.5,1134.3 416.7,1134.3 416.9,1134.3 C417.0,1134.3 417.2,1134.4 417.4,1134.4 C417.6,1134.5 417.7,1134.5 417.9,1134.6 C418.1,1134.7 418.3,1134.8 418.4,1134.9 C418.6,1135.0 418.8,1135.1 419.0,1135.2 C419.1,1135.3 419.3,1135.4 419.5,1135.5 C419.6,1135.7 419.8,1135.8 420.0,1136.0 C420.1,1136.1 420.3,1136.3 420.5,1136.5 C420.6,1136.6 420.8,1136.8 420.9,1137.0 C421.1,1137.2 421.2,1137.4 421.3,1137.5 C421.5,1137.7 421.6,1137.9 421.7,1138.1 C421.9,1138.4 422.0,1138.6 422.1,1138.8 C422.2,1139.0 422.3,1139.2 422.4,1139.4 C422.5,1139.6 422.6,1139.9 422.7,1140.1 C422.7,1140.3 422.8,1140.5 422.9,1140.7 C422.9,1141.0 423.0,1141.2 423.0,1141.4 C423.1,1141.6 423.1,1141.8 423.2,1142.1 C423.2,1142.3 423.2,1142.5 423.2,1142.7 C423.2,1142.9 423.2,1143.1 423.2,1143.3 C423.2,1143.5 423.2,1143.7 423.2,1143.9 C423.1,1144.1 423.1,1144.2 423.0,1144.4 C423.0,1144.6 422.9,1144.8 422.9,1144.9 C422.8,1145.1 422.7,1145.2 422.7,1145.4 C422.6,1145.5 422.5,1145.6 422.4,1145.8 C422.3,1145.9 422.2,1146.0 422.1,1146.1 C422.0,1146.2 421.8,1146.3 421.7,1146.4"/><path d="M418.8,1132.4 C418.9,1132.4 419.1,1132.3 419.2,1132.2 C419.4,1132.2 419.5,1132.2 419.7,1132.1 C419.8,1132.1 420.0,1132.1 420.2,1132.1 C420.3,1132.1 420.5,1132.1 420.6,1132.2 C420.8,1132.2 421.0,1132.2 421.2,1132.3 C421.3,1132.3 421.5,1132.4 421.7,1132.5 C421.9,1132.5 422.0,1132.6 422.2,1132.7 C422.4,1132.8 422.6,1132.9 422.7,1133.0 C422.9,1133.1 423.1,1133.3 423.2,1133.4 C423.4,1133.5 423.6,1133.7 423.7,1133.8 C423.9,1134.0 424.1,1134.2 424.2,1134.3 C424.4,1134.5 424.5,1134.7 424.7,1134.8 C424.8,1135.0 425.0,1135.2 425.1,1135.4 C425.2,1135.6 425.4,1135.8 425.5,1136.0 C425.6,1136.2 425.7,1136.4 425.9,1136.6 C426.0,1136.9 426.1,1137.1 426.2,1137.3 C426.3,1137.5 426.4,1137.7 426.4,1137.9 C426.5,1138.2 426.6,1138.4 426.7,1138.6 C426.7,1138.8 426.8,1139.1 426.8,1139.3 C426.9,1139.5 426.9,1139.7 426.9,1139.9 C427.0,1140.1 427.0,1140.3 427.0,1140.6 C427.0,1140.8 427.0,1141.0 427.0,1141.2 C427.0,1141.4 427.0,1141.6 426.9,1141.7 C426.9,1141.9 426.9,1142.1 426.8,1142.3 C426.8,1142.5 426.7,1142.6 426.7,1142.8 C426.6,1142.9 426.5,1143.1 426.4,1143.2 C426.4,1143.4 426.3,1143.5 426.2,1143.6 C426.1,1143.7 426.0,1143.9 425.9,1144.0 C425.7,1144.1 425.6,1144.2 425.5,1144.2"/><path d="M422.6,1130.3 C422.7,1130.2 422.9,1130.1 423.0,1130.1 C423.1,1130.1 423.3,1130.0 423.4,1130.0 C423.6,1130.0 423.8,1130.0 423.9,1130.0 C424.1,1130.0 424.2,1130.0 424.4,1130.0 C424.6,1130.1 424.8,1130.1 424.9,1130.1 C425.1,1130.2 425.3,1130.3 425.4,1130.3 C425.6,1130.4 425.8,1130.5 426.0,1130.6 C426.1,1130.7 426.3,1130.8 426.5,1130.9 C426.7,1131.0 426.8,1131.1 427.0,1131.3 C427.2,1131.4 427.3,1131.6 427.5,1131.7 C427.7,1131.9 427.8,1132.0 428.0,1132.2 C428.2,1132.4 428.3,1132.5 428.5,1132.7 C428.6,1132.9 428.7,1133.1 428.9,1133.3 C429.0,1133.5 429.1,1133.7 429.3,1133.9 C429.4,1134.1 429.5,1134.3 429.6,1134.5 C429.7,1134.7 429.8,1134.9 429.9,1135.1 C430.0,1135.4 430.1,1135.6 430.2,1135.8 C430.3,1136.0 430.4,1136.3 430.4,1136.5 C430.5,1136.7 430.5,1136.9 430.6,1137.1 C430.6,1137.4 430.7,1137.6 430.7,1137.8 C430.7,1138.0 430.7,1138.2 430.8,1138.4 C430.8,1138.6 430.8,1138.8 430.8,1139.0 C430.7,1139.2 430.7,1139.4 430.7,1139.6 C430.7,1139.8 430.6,1140.0 430.6,1140.1 C430.5,1140.3 430.5,1140.5 430.4,1140.6 C430.4,1140.8 430.3,1141.0 430.2,1141.1 C430.1,1141.2 430.0,1141.4 429.9,1141.5 C429.8,1141.6 429.7,1141.7 429.6,1141.8 C429.5,1141.9 429.3,1142.1 429.3,1142.1"/><path d="M426.3,1128.1 C426.4,1128.1 426.6,1128.0 426.8,1128.0 C426.9,1127.9 427.1,1127.9 427.2,1127.9 C427.4,1127.9 427.5,1127.8 427.7,1127.9 C427.9,1127.9 428.0,1127.9 428.2,1127.9 C428.4,1127.9 428.5,1128.0 428.7,1128.0 C428.9,1128.1 429.0,1128.1 429.2,1128.2 C429.4,1128.3 429.6,1128.4 429.7,1128.4 C429.9,1128.5 430.1,1128.6 430.3,1128.8 C430.4,1128.9 430.6,1129.0 430.8,1129.1 C430.9,1129.3 431.1,1129.4 431.3,1129.6 C431.4,1129.7 431.6,1129.9 431.8,1130.0 C431.9,1130.2 432.1,1130.4 432.2,1130.6 C432.4,1130.8 432.5,1130.9 432.6,1131.1 C432.8,1131.3 432.9,1131.5 433.0,1131.7 C433.2,1131.9 433.3,1132.2 433.4,1132.4 C433.5,1132.6 433.6,1132.8 433.7,1133.0 C433.8,1133.2 433.9,1133.5 434.0,1133.7 C434.1,1133.9 434.1,1134.1 434.2,1134.3 C434.3,1134.6 434.3,1134.8 434.4,1135.0 C434.4,1135.2 434.4,1135.4 434.5,1135.6 C434.5,1135.9 434.5,1136.1 434.5,1136.3 C434.5,1136.5 434.5,1136.7 434.5,1136.9 C434.5,1137.1 434.5,1137.3 434.5,1137.5 C434.4,1137.7 434.4,1137.8 434.4,1138.0 C434.3,1138.2 434.3,1138.4 434.2,1138.5 C434.1,1138.7 434.1,1138.8 434.0,1139.0 C433.9,1139.1 433.8,1139.2 433.7,1139.4 C433.6,1139.5 433.5,1139.6 433.4,1139.7 C433.3,1139.8 433.1,1139.9 433.0,1140.0"/><path d="M430.1,1126.0 C430.2,1126.0 430.4,1125.9 430.5,1125.8 C430.7,1125.8 430.8,1125.8 431.0,1125.7 C431.1,1125.7 431.3,1125.7 431.5,1125.7 C431.6,1125.7 431.8,1125.7 432.0,1125.8 C432.1,1125.8 432.3,1125.8 432.5,1125.9 C432.6,1125.9 432.8,1126.0 433.0,1126.1 C433.2,1126.1 433.3,1126.2 433.5,1126.3 C433.7,1126.4 433.9,1126.5 434.0,1126.6 C434.2,1126.7 434.4,1126.9 434.5,1127.0 C434.7,1127.1 434.9,1127.3 435.0,1127.4 C435.2,1127.6 435.4,1127.7 435.5,1127.9 C435.7,1128.1 435.8,1128.3 436.0,1128.4 C436.1,1128.6 436.3,1128.8 436.4,1129.0 C436.6,1129.2 436.7,1129.4 436.8,1129.6 C436.9,1129.8 437.1,1130.0 437.2,1130.2 C437.3,1130.4 437.4,1130.7 437.5,1130.9 C437.6,1131.1 437.7,1131.3 437.7,1131.5 C437.8,1131.8 437.9,1132.0 438.0,1132.2 C438.0,1132.4 438.1,1132.6 438.1,1132.9 C438.2,1133.1 438.2,1133.3 438.2,1133.5 C438.3,1133.7 438.3,1133.9 438.3,1134.1 C438.3,1134.4 438.3,1134.6 438.3,1134.8 C438.3,1135.0 438.3,1135.1 438.2,1135.3 C438.2,1135.5 438.2,1135.7 438.1,1135.9 C438.1,1136.0 438.0,1136.2 438.0,1136.4 C437.9,1136.5 437.8,1136.7 437.7,1136.8 C437.7,1137.0 437.6,1137.1 437.5,1137.2 C437.4,1137.3 437.3,1137.5 437.2,1137.6 C437.1,1137.7 436.9,1137.8 436.8,1137.8"/><ellipse cx="400.5" cy="1150.6" rx="4.2" ry="6.8" transform="rotate(-29.5 400.5 1150.6)" fill="#fff"/></g>
<polyline points="370.0,1168.0 392.0,1156.0"/>
<ellipse cx="252.5" cy="902" rx="11.8" ry="16" transform="rotate(-22 252.5 902)" fill="#fff"/>
<path d="M262.3,900.6 C262.4,900.8 262.6,901.6 262.7,902.1 C262.8,902.5 262.8,903.0 262.9,903.5 C262.9,904.0 262.9,904.5 263.0,904.9 C263.0,905.4 262.9,905.9 262.9,906.3 C262.9,906.8 262.8,907.2 262.7,907.7 C262.7,908.1 262.6,908.5 262.5,909.0 C262.3,909.4 262.2,909.8 262.0,910.1 C261.9,910.5 261.6,911.1 261.5,911.2"/>
<path d="M236.0,896.0 C236.8,891.8 246.2,891.8 250.0,893.5 C253.8,895.2 259.0,902.8 259.0,906.0 C259.0,909.2 252.3,910.8 250.0,913.0 C247.7,915.2 247.3,921.8 245.0,919.0 C242.7,916.2 235.2,900.2 236.0,896.0 Z" fill="#fff" stroke="none"/>
<ellipse cx="242" cy="907.5" rx="9.8" ry="12.2" transform="rotate(-25 242 907.5)" fill="#fff"/>
<polyline points="238.0,895.0 250.0,894.0"/>
<polyline points="249.5,909.5 258.0,907.0"/>
<polyline points="243.5,898.0 243.5,899.8"/>
<polyline points="250.0,910.0 250.0,916.0"/>
<ellipse cx="240" cy="908" rx="5.2" ry="6.5" transform="rotate(-25 240 908)"/>
<path d="M240.8,912.8 C240.7,912.8 240.5,912.8 240.4,912.8 C240.2,912.8 240.1,912.7 240.0,912.7 C239.8,912.7 239.7,912.6 239.5,912.6 C239.4,912.5 239.3,912.4 239.1,912.4 C239.0,912.3 238.9,912.2 238.7,912.1 C238.6,912.1 238.5,912.0 238.3,911.9 C238.2,911.8 238.1,911.7 238.0,911.5 C237.8,911.4 237.7,911.3 237.6,911.2 C237.5,911.1 237.4,910.9 237.3,910.8 C237.2,910.7 237.1,910.5 237.0,910.4 C236.9,910.2 236.8,910.1 236.7,909.9 C236.6,909.8 236.6,909.6 236.5,909.4 C236.4,909.3 236.4,909.1 236.3,909.0 C236.2,908.8 236.2,908.6 236.1,908.5 C236.1,908.3 236.1,908.1 236.0,908.0 C236.0,907.8 236.0,907.6 236.0,907.5 C236.0,907.3 236.0,907.1 236.0,907.0 C236.0,906.8 236.0,906.6 236.0,906.5 C236.0,906.3 236.0,906.2 236.1,906.0 C236.1,905.9 236.1,905.7 236.2,905.6 C236.2,905.4 236.3,905.3 236.3,905.1 C236.4,905.0 236.4,904.9 236.5,904.8 C236.6,904.6 236.7,904.5 236.8,904.4 C236.8,904.3 236.9,904.2 237.0,904.1 C237.1,904.0 237.3,903.9 237.3,903.8"/>
<g transform="translate(-57 367)"><ellipse cx="252.5" cy="902" rx="11.8" ry="16" transform="rotate(-22 252.5 902)" fill="#fff"/><path d="M262.3,900.6 C262.4,900.8 262.6,901.6 262.7,902.1 C262.8,902.5 262.8,903.0 262.9,903.5 C262.9,904.0 262.9,904.5 263.0,904.9 C263.0,905.4 262.9,905.9 262.9,906.3 C262.9,906.8 262.8,907.2 262.7,907.7 C262.7,908.1 262.6,908.5 262.5,909.0 C262.3,909.4 262.2,909.8 262.0,910.1 C261.9,910.5 261.6,911.1 261.5,911.2"/><path d="M236.0,896.0 C236.8,891.8 246.2,891.8 250.0,893.5 C253.8,895.2 259.0,902.8 259.0,906.0 C259.0,909.2 252.3,910.8 250.0,913.0 C247.7,915.2 247.3,921.8 245.0,919.0 C242.7,916.2 235.2,900.2 236.0,896.0 Z" fill="#fff" stroke="none"/><ellipse cx="242" cy="907.5" rx="9.8" ry="12.2" transform="rotate(-25 242 907.5)" fill="#fff"/><polyline points="238.0,895.0 250.0,894.0"/><polyline points="249.5,909.5 258.0,907.0"/><polyline points="243.5,898.0 243.5,899.8"/><polyline points="250.0,910.0 250.0,916.0"/><ellipse cx="240" cy="908" rx="5.2" ry="6.5" transform="rotate(-25 240 908)"/><path d="M240.8,912.8 C240.7,912.8 240.5,912.8 240.4,912.8 C240.2,912.8 240.1,912.7 240.0,912.7 C239.8,912.7 239.7,912.6 239.5,912.6 C239.4,912.5 239.3,912.4 239.1,912.4 C239.0,912.3 238.9,912.2 238.7,912.1 C238.6,912.1 238.5,912.0 238.3,911.9 C238.2,911.8 238.1,911.7 238.0,911.5 C237.8,911.4 237.7,911.3 237.6,911.2 C237.5,911.1 237.4,910.9 237.3,910.8 C237.2,910.7 237.1,910.5 237.0,910.4 C236.9,910.2 236.8,910.1 236.7,909.9 C236.6,909.8 236.6,909.6 236.5,909.4 C236.4,909.3 236.4,909.1 236.3,909.0 C236.2,908.8 236.2,908.6 236.1,908.5 C236.1,908.3 236.1,908.1 236.0,908.0 C236.0,907.8 236.0,907.6 236.0,907.5 C236.0,907.3 236.0,907.1 236.0,907.0 C236.0,906.8 236.0,906.6 236.0,906.5 C236.0,906.3 236.0,906.2 236.1,906.0 C236.1,905.9 236.1,905.7 236.2,905.6 C236.2,905.4 236.3,905.3 236.3,905.1 C236.4,905.0 236.4,904.9 236.5,904.8 C236.6,904.6 236.7,904.5 236.8,904.4 C236.8,904.3 236.9,904.2 237.0,904.1 C237.1,904.0 237.3,903.9 237.3,903.8"/></g>
<path d="M298.6,903.6 L297.9,904.0 L297.1,904.3 L296.4,904.5 L295.6,904.7 L294.8,904.8 L293.9,904.8 L293.0,904.8 L292.2,904.7 L291.3,904.6 L290.3,904.3 L289.4,904.1 L288.5,903.7 L287.6,903.3 L286.6,902.9 L285.7,902.3 L284.7,901.8 L283.8,901.1 L282.9,900.4 L281.9,899.7 L281.0,898.9 L280.2,898.1 L279.3,897.2 L278.4,896.2 L277.6,895.3 L276.8,894.2 L276.0,893.2 L275.2,892.1 L274.5,891.0 L273.8,889.9 L273.2,888.7 L272.6,887.5 L272.0,886.3 L271.4,885.1 L270.9,883.9 L270.5,882.7 L270.1,881.4 L269.7,880.2 L269.4,878.9 L269.1,877.7 L268.9,876.5 L268.7,875.3 L268.5,874.1 L268.5,872.9 L268.4,871.8 L268.4,870.7 L268.5,869.6 L268.6,868.5 L268.8,867.5 L269.0,866.5 L269.2,865.6 L269.5,864.7 L269.9,863.8 L270.3,863.0 L270.7,862.2 L271.2,861.5 L271.7,860.9 L272.3,860.3 L272.9,859.7 L273.5,859.2 L274.2,858.8 L311.2,837.8 L311.9,837.4 L312.7,837.1 L313.4,836.9 L314.2,836.7 L315.0,836.6 L315.9,836.6 L316.8,836.6 L317.6,836.7 L318.5,836.8 L319.5,837.1 L320.4,837.3 L321.3,837.7 L322.2,838.1 L323.2,838.5 L324.1,839.1 L325.1,839.6 L326.0,840.3 L326.9,841.0 L327.9,841.7 L328.8,842.5 L329.6,843.3 L330.5,844.2 L331.4,845.2 L332.2,846.1 L333.0,847.2 L333.8,848.2 L334.6,849.3 L335.3,850.4 L336.0,851.5 L336.6,852.7 L337.2,853.9 L337.8,855.1 L338.4,856.3 L338.9,857.5 L339.3,858.7 L339.7,860.0 L340.1,861.2 L340.4,862.5 L340.7,863.7 L340.9,864.9 L341.1,866.1 L341.3,867.3 L341.3,868.5 L341.4,869.6 L341.4,870.7 L341.3,871.8 L341.2,872.9 L341.0,873.9 L340.8,874.9 L340.6,875.8 L340.3,876.7 L339.9,877.6 L339.5,878.4 L339.1,879.2 L338.6,879.9 L338.1,880.5 L337.5,881.1 L336.9,881.7 L336.3,882.2 L335.6,882.6 Z" fill="#fff"/>
<ellipse cx="286.4" cy="881.2" rx="15.2" ry="25.5" transform="rotate(-28 286.4 881.2)" fill="#fff"/>
<path d="M273.1,883.9 C273.0,883.5 272.5,882.4 272.3,881.7 C272.0,880.9 271.8,880.2 271.6,879.5 C271.4,878.7 271.3,878.0 271.1,877.3 C271.0,876.6 270.9,875.9 270.8,875.2 C270.7,874.5 270.7,873.8 270.7,873.1 C270.7,872.4 270.7,871.8 270.7,871.1 C270.8,870.5 270.8,869.8 270.9,869.3 C271.0,868.7 271.1,868.1 271.3,867.5 C271.5,867.0 271.6,866.4 271.8,865.9 C272.1,865.4 272.3,865.0 272.6,864.5 C272.8,864.1 273.1,863.7 273.4,863.3 C273.7,862.9 274.1,862.6 274.4,862.3 C274.8,862.0 275.2,861.7 275.6,861.5 C276.0,861.2 276.4,861.0 276.8,860.9 C277.3,860.7 277.7,860.6 278.2,860.5 C278.7,860.4 279.2,860.4 279.7,860.4 C280.2,860.4 280.7,860.4 281.2,860.5 C281.7,860.6 282.3,860.7 282.8,860.8 C283.3,861.0 283.9,861.1 284.4,861.4 C285.0,861.6 285.5,861.9 286.1,862.1 C286.6,862.4 287.2,862.8 287.7,863.1 C288.3,863.5 288.9,863.9 289.4,864.3 C289.9,864.8 290.5,865.2 291.0,865.7 C291.5,866.2 292.1,866.7 292.6,867.3 C293.1,867.8 293.6,868.4 294.1,869.0 C294.5,869.6 295.0,870.2 295.5,870.8 C295.9,871.4 296.4,872.1 296.8,872.8 C297.2,873.4 297.6,874.1 298.0,874.8 C298.3,875.5 298.7,876.2 299.0,876.9 C299.3,877.7 299.7,878.4 299.9,879.1 C300.2,879.8 300.5,880.6 300.7,881.3 C300.9,882.0 301.1,882.8 301.3,883.5 C301.5,884.2 301.6,885.0 301.8,885.7 C301.9,886.4 302.0,887.1 302.0,887.8 C302.1,888.5 302.1,889.2 302.1,889.8 C302.1,890.5 302.1,891.2 302.1,891.8 C302.0,892.4 301.9,893.0 301.8,893.6 C301.7,894.2 301.4,895.0 301.4,895.3"/>
<path d="M297.0,901.1 C296.7,901.2 296.1,901.5 295.6,901.6 C295.1,901.8 294.6,901.9 294.1,901.9 C293.6,902.0 293.1,902.0 292.6,902.0 C292.0,902.0 291.5,901.9 290.9,901.8 C290.4,901.7 289.8,901.5 289.2,901.3 C288.7,901.2 288.1,900.9 287.5,900.6 C286.9,900.4 286.3,900.1 285.8,899.7 C285.2,899.4 284.6,899.0 284.0,898.5 C283.4,898.1 282.9,897.6 282.3,897.2 C281.7,896.7 281.2,896.1 280.6,895.6 C280.1,895.0 279.3,894.1 279.1,893.8"/>
<path d="M274.9,873.0 C274.9,872.8 275.0,872.1 275.1,871.7 C275.2,871.3 275.4,870.9 275.5,870.5 C275.6,870.1 275.8,869.8 276.0,869.4 C276.2,869.1 276.4,868.8 276.6,868.5 C276.8,868.2 277.0,867.9 277.3,867.7 C277.5,867.4 277.8,867.2 278.1,867.0 C278.4,866.8 278.6,866.6 279.0,866.5 C279.3,866.3 279.6,866.2 279.9,866.1 C280.3,866.0 280.6,866.0 281.0,866.0 C281.3,865.9 281.7,865.9 282.1,865.9 C282.5,866.0 282.8,866.0 283.2,866.1 C283.6,866.2 284.0,866.3 284.4,866.4 C284.8,866.5 285.2,866.7 285.6,866.9 C286.0,867.1 286.4,867.3 286.8,867.5 C287.2,867.8 287.6,868.0 288.0,868.3 C288.4,868.6 288.8,868.9 289.2,869.2 C289.6,869.6 290.0,869.9 290.4,870.3 C290.8,870.7 291.2,871.1 291.5,871.5 C291.9,871.9 292.2,872.3 292.6,872.8 C292.9,873.2 293.3,873.7 293.6,874.1 C293.9,874.6 294.2,875.1 294.5,875.6 C294.8,876.1 295.1,876.6 295.3,877.1 C295.6,877.6 295.8,878.1 296.0,878.7 C296.3,879.2 296.5,879.7 296.7,880.3 C296.9,880.8 297.0,881.3 297.2,881.9 C297.3,882.4 297.5,882.9 297.6,883.5 C297.7,884.0 297.8,884.5 297.8,885.0 C297.9,885.5 298.0,886.0 298.0,886.5 C298.0,887.0 298.0,887.5 298.0,888.0 C298.0,888.5 298.0,889.0 297.9,889.4 C297.8,889.9 297.8,890.3 297.7,890.7 C297.6,891.1 297.4,891.5 297.3,891.9 C297.2,892.3 297.0,892.6 296.8,893.0 C296.6,893.3 296.4,893.6 296.2,893.9 C296.0,894.2 295.8,894.5 295.5,894.7 C295.3,895.0 295.0,895.2 294.7,895.4 C294.4,895.6 294.2,895.8 293.8,895.9 C293.5,896.1 293.2,896.2 292.9,896.3 C292.5,896.4 292.2,896.4 291.8,896.4 C291.5,896.5 291.1,896.5 290.7,896.5 C290.3,896.4 290.0,896.4 289.6,896.3 C289.2,896.2 288.8,896.1 288.4,896.0 C288.0,895.9 287.6,895.7 287.2,895.5 C286.8,895.3 286.4,895.1 286.0,894.9 C285.6,894.6 285.2,894.4 284.8,894.1 C284.4,893.8 284.0,893.5 283.6,893.2 C283.2,892.8 282.8,892.5 282.4,892.1 C282.0,891.7 281.6,891.3 281.3,890.9 C280.9,890.5 280.6,890.1 280.2,889.6 C279.9,889.2 279.5,888.7 279.2,888.3 C278.9,887.8 278.6,887.3 278.3,886.8 C278.0,886.3 277.7,885.8 277.5,885.3 C277.2,884.8 277.0,884.3 276.8,883.7 C276.5,883.2 276.3,882.7 276.1,882.1 C275.9,881.6 275.7,880.8 275.6,880.5"/>
<path d="M292.6,877.9 C292.7,878.1 292.9,878.6 293.1,879.0 C293.3,879.4 293.4,879.7 293.6,880.1 C293.7,880.5 293.8,880.8 293.9,881.2 C294.1,881.6 294.2,882.0 294.2,882.3 C294.3,882.7 294.4,883.1 294.5,883.4 C294.5,883.8 294.5,884.2 294.6,884.5 C294.6,884.9 294.6,885.2 294.6,885.6 C294.6,885.9 294.6,886.2 294.5,886.5 C294.5,886.9 294.5,887.2 294.4,887.5 C294.3,887.8 294.3,888.1 294.2,888.4 C294.1,888.6 294.0,888.9 293.8,889.1 C293.7,889.4 293.6,889.6 293.4,889.8 C293.3,890.1 293.1,890.3 293.0,890.4 C292.8,890.6 292.6,890.8 292.4,891.0 C292.2,891.1 292.0,891.2 291.8,891.4 C291.6,891.5 291.4,891.6 291.1,891.6 C290.9,891.7 290.6,891.8 290.4,891.8 C290.1,891.9 289.9,891.9 289.6,891.9 C289.4,891.9 289.1,891.9 288.8,891.8 C288.5,891.8 288.3,891.7 288.0,891.6 C287.7,891.6 287.4,891.5 287.1,891.3 C286.9,891.2 286.6,891.1 286.3,890.9 C286.0,890.8 285.7,890.6 285.4,890.4 C285.1,890.3 284.9,890.0 284.6,889.8 C284.3,889.6 284.0,889.4 283.7,889.1 C283.5,888.9 283.2,888.6 282.9,888.3 C282.7,888.1 282.4,887.8 282.2,887.5 C281.9,887.2 281.7,886.8 281.5,886.5 C281.2,886.2 281.0,885.9 280.8,885.5 C280.6,885.2 280.4,884.8 280.2,884.5 C280.0,884.1 279.9,883.8 279.7,883.4 C279.5,883.0 279.4,882.7 279.2,882.3 C279.1,881.9 279.0,881.6 278.9,881.2 C278.7,880.8 278.6,880.4 278.6,880.1 C278.5,879.7 278.4,879.3 278.3,879.0 C278.3,878.6 278.3,878.2 278.2,877.9 C278.2,877.5 278.2,877.2 278.2,876.8 C278.2,876.5 278.2,876.2 278.3,875.9 C278.3,875.5 278.3,875.2 278.4,874.9 C278.5,874.6 278.5,874.3 278.6,874.0 C278.7,873.8 278.8,873.5 279.0,873.3 C279.1,873.0 279.2,872.8 279.4,872.6 C279.5,872.3 279.7,872.1 279.8,872.0 C280.0,871.8 280.2,871.6 280.4,871.4 C280.6,871.3 280.8,871.2 281.0,871.0 C281.2,870.9 281.4,870.8 281.7,870.8 C281.9,870.7 282.2,870.6 282.4,870.6 C282.7,870.5 282.9,870.5 283.2,870.5 C283.4,870.5 283.7,870.5 284.0,870.6 C284.3,870.6 284.5,870.7 284.8,870.8 C285.1,870.8 285.4,870.9 285.7,871.1 C285.9,871.2 286.2,871.3 286.5,871.5 C286.8,871.6 287.1,871.8 287.4,872.0 C287.7,872.1 287.9,872.4 288.2,872.6 C288.5,872.8 288.8,873.0 289.1,873.3 C289.3,873.5 289.6,873.8 289.9,874.1 C290.1,874.3 290.4,874.6 290.6,874.9 C290.9,875.2 291.1,875.6 291.3,875.9 C291.6,876.2 291.8,876.5 292.0,876.9 C292.2,877.2 292.5,877.7 292.6,877.9"/>
<path d="M280.6,878.5 C280.6,878.3 280.6,878.0 280.6,877.7 C280.7,877.5 280.7,877.3 280.7,877.1 C280.8,876.9 280.8,876.6 280.9,876.4 C280.9,876.2 281.0,876.0 281.1,875.9 C281.2,875.7 281.3,875.5 281.4,875.3 C281.5,875.2 281.6,875.0 281.7,874.9 C281.8,874.8 282.0,874.6 282.1,874.5 C282.2,874.4 282.4,874.3 282.5,874.2 C282.7,874.1 282.8,874.0 283.0,874.0 C283.2,873.9 283.3,873.9 283.5,873.8 C283.7,873.8 283.9,873.8 284.1,873.8 C284.2,873.8 284.4,873.8 284.6,873.8 C284.8,873.8 285.0,873.8 285.2,873.9 C285.4,873.9 285.6,874.0 285.8,874.1 C286.0,874.1 286.2,874.2 286.4,874.3 C286.6,874.4 286.8,874.5 287.0,874.7 C287.2,874.8 287.4,874.9 287.6,875.1 C287.8,875.2 288.0,875.4 288.2,875.5 C288.4,875.7 288.6,875.9 288.8,876.1 C289.0,876.3 289.2,876.5 289.3,876.7 C289.5,876.9 289.7,877.1 289.9,877.3 C290.0,877.5 290.2,877.8 290.3,878.0 C290.5,878.2 290.6,878.5 290.8,878.7 C290.9,879.0 291.0,879.2 291.1,879.5 C291.2,879.7 291.4,880.0 291.5,880.3 C291.6,880.5 291.6,880.8 291.7,881.0 C291.8,881.3 291.9,881.6 291.9,881.8 C292.0,882.1 292.0,882.4 292.1,882.6 C292.1,882.9 292.2,883.1 292.2,883.4 C292.2,883.6 292.2,883.9 292.2,884.1 C292.2,884.4 292.2,884.6 292.2,884.8 C292.1,885.0 292.1,885.3 292.0,885.5 C292.0,885.7 291.9,885.9 291.9,886.1 C291.8,886.3 291.7,886.5 291.6,886.7 C291.6,886.8 291.5,887.0 291.4,887.2 C291.3,887.3 291.1,887.5 291.0,887.6 C290.9,887.7 290.8,887.9 290.6,888.0 C290.5,888.1 290.3,888.2 290.2,888.3 C290.0,888.3 289.9,888.4 289.7,888.5 C289.5,888.5 289.3,888.6 289.2,888.6 C289.0,888.6 288.8,888.6 288.6,888.6 C288.4,888.6 288.2,888.6 288.0,888.6 C287.8,888.6 287.5,888.5 287.4,888.5"/>
<g transform="translate(-59.4 369.8)"><path d="M298.6,903.6 L297.9,904.0 L297.1,904.3 L296.4,904.5 L295.6,904.7 L294.8,904.8 L293.9,904.8 L293.0,904.8 L292.2,904.7 L291.3,904.6 L290.3,904.3 L289.4,904.1 L288.5,903.7 L287.6,903.3 L286.6,902.9 L285.7,902.3 L284.7,901.8 L283.8,901.1 L282.9,900.4 L281.9,899.7 L281.0,898.9 L280.2,898.1 L279.3,897.2 L278.4,896.2 L277.6,895.3 L276.8,894.2 L276.0,893.2 L275.2,892.1 L274.5,891.0 L273.8,889.9 L273.2,888.7 L272.6,887.5 L272.0,886.3 L271.4,885.1 L270.9,883.9 L270.5,882.7 L270.1,881.4 L269.7,880.2 L269.4,878.9 L269.1,877.7 L268.9,876.5 L268.7,875.3 L268.5,874.1 L268.5,872.9 L268.4,871.8 L268.4,870.7 L268.5,869.6 L268.6,868.5 L268.8,867.5 L269.0,866.5 L269.2,865.6 L269.5,864.7 L269.9,863.8 L270.3,863.0 L270.7,862.2 L271.2,861.5 L271.7,860.9 L272.3,860.3 L272.9,859.7 L273.5,859.2 L274.2,858.8 L311.2,837.8 L311.9,837.4 L312.7,837.1 L313.4,836.9 L314.2,836.7 L315.0,836.6 L315.9,836.6 L316.8,836.6 L317.6,836.7 L318.5,836.8 L319.5,837.1 L320.4,837.3 L321.3,837.7 L322.2,838.1 L323.2,838.5 L324.1,839.1 L325.1,839.6 L326.0,840.3 L326.9,841.0 L327.9,841.7 L328.8,842.5 L329.6,843.3 L330.5,844.2 L331.4,845.2 L332.2,846.1 L333.0,847.2 L333.8,848.2 L334.6,849.3 L335.3,850.4 L336.0,851.5 L336.6,852.7 L337.2,853.9 L337.8,855.1 L338.4,856.3 L338.9,857.5 L339.3,858.7 L339.7,860.0 L340.1,861.2 L340.4,862.5 L340.7,863.7 L340.9,864.9 L341.1,866.1 L341.3,867.3 L341.3,868.5 L341.4,869.6 L341.4,870.7 L341.3,871.8 L341.2,872.9 L341.0,873.9 L340.8,874.9 L340.6,875.8 L340.3,876.7 L339.9,877.6 L339.5,878.4 L339.1,879.2 L338.6,879.9 L338.1,880.5 L337.5,881.1 L336.9,881.7 L336.3,882.2 L335.6,882.6 Z" fill="#fff"/><ellipse cx="286.4" cy="881.2" rx="15.2" ry="25.5" transform="rotate(-28 286.4 881.2)" fill="#fff"/><path d="M273.1,883.9 C273.0,883.5 272.5,882.4 272.3,881.7 C272.0,880.9 271.8,880.2 271.6,879.5 C271.4,878.7 271.3,878.0 271.1,877.3 C271.0,876.6 270.9,875.9 270.8,875.2 C270.7,874.5 270.7,873.8 270.7,873.1 C270.7,872.4 270.7,871.8 270.7,871.1 C270.8,870.5 270.8,869.8 270.9,869.3 C271.0,868.7 271.1,868.1 271.3,867.5 C271.5,867.0 271.6,866.4 271.8,865.9 C272.1,865.4 272.3,865.0 272.6,864.5 C272.8,864.1 273.1,863.7 273.4,863.3 C273.7,862.9 274.1,862.6 274.4,862.3 C274.8,862.0 275.2,861.7 275.6,861.5 C276.0,861.2 276.4,861.0 276.8,860.9 C277.3,860.7 277.7,860.6 278.2,860.5 C278.7,860.4 279.2,860.4 279.7,860.4 C280.2,860.4 280.7,860.4 281.2,860.5 C281.7,860.6 282.3,860.7 282.8,860.8 C283.3,861.0 283.9,861.1 284.4,861.4 C285.0,861.6 285.5,861.9 286.1,862.1 C286.6,862.4 287.2,862.8 287.7,863.1 C288.3,863.5 288.9,863.9 289.4,864.3 C289.9,864.8 290.5,865.2 291.0,865.7 C291.5,866.2 292.1,866.7 292.6,867.3 C293.1,867.8 293.6,868.4 294.1,869.0 C294.5,869.6 295.0,870.2 295.5,870.8 C295.9,871.4 296.4,872.1 296.8,872.8 C297.2,873.4 297.6,874.1 298.0,874.8 C298.3,875.5 298.7,876.2 299.0,876.9 C299.3,877.7 299.7,878.4 299.9,879.1 C300.2,879.8 300.5,880.6 300.7,881.3 C300.9,882.0 301.1,882.8 301.3,883.5 C301.5,884.2 301.6,885.0 301.8,885.7 C301.9,886.4 302.0,887.1 302.0,887.8 C302.1,888.5 302.1,889.2 302.1,889.8 C302.1,890.5 302.1,891.2 302.1,891.8 C302.0,892.4 301.9,893.0 301.8,893.6 C301.7,894.2 301.4,895.0 301.4,895.3"/><path d="M297.0,901.1 C296.7,901.2 296.1,901.5 295.6,901.6 C295.1,901.8 294.6,901.9 294.1,901.9 C293.6,902.0 293.1,902.0 292.6,902.0 C292.0,902.0 291.5,901.9 290.9,901.8 C290.4,901.7 289.8,901.5 289.2,901.3 C288.7,901.2 288.1,900.9 287.5,900.6 C286.9,900.4 286.3,900.1 285.8,899.7 C285.2,899.4 284.6,899.0 284.0,898.5 C283.4,898.1 282.9,897.6 282.3,897.2 C281.7,896.7 281.2,896.1 280.6,895.6 C280.1,895.0 279.3,894.1 279.1,893.8"/><path d="M274.9,873.0 C274.9,872.8 275.0,872.1 275.1,871.7 C275.2,871.3 275.4,870.9 275.5,870.5 C275.6,870.1 275.8,869.8 276.0,869.4 C276.2,869.1 276.4,868.8 276.6,868.5 C276.8,868.2 277.0,867.9 277.3,867.7 C277.5,867.4 277.8,867.2 278.1,867.0 C278.4,866.8 278.6,866.6 279.0,866.5 C279.3,866.3 279.6,866.2 279.9,866.1 C280.3,866.0 280.6,866.0 281.0,866.0 C281.3,865.9 281.7,865.9 282.1,865.9 C282.5,866.0 282.8,866.0 283.2,866.1 C283.6,866.2 284.0,866.3 284.4,866.4 C284.8,866.5 285.2,866.7 285.6,866.9 C286.0,867.1 286.4,867.3 286.8,867.5 C287.2,867.8 287.6,868.0 288.0,868.3 C288.4,868.6 288.8,868.9 289.2,869.2 C289.6,869.6 290.0,869.9 290.4,870.3 C290.8,870.7 291.2,871.1 291.5,871.5 C291.9,871.9 292.2,872.3 292.6,872.8 C292.9,873.2 293.3,873.7 293.6,874.1 C293.9,874.6 294.2,875.1 294.5,875.6 C294.8,876.1 295.1,876.6 295.3,877.1 C295.6,877.6 295.8,878.1 296.0,878.7 C296.3,879.2 296.5,879.7 296.7,880.3 C296.9,880.8 297.0,881.3 297.2,881.9 C297.3,882.4 297.5,882.9 297.6,883.5 C297.7,884.0 297.8,884.5 297.8,885.0 C297.9,885.5 298.0,886.0 298.0,886.5 C298.0,887.0 298.0,887.5 298.0,888.0 C298.0,888.5 298.0,889.0 297.9,889.4 C297.8,889.9 297.8,890.3 297.7,890.7 C297.6,891.1 297.4,891.5 297.3,891.9 C297.2,892.3 297.0,892.6 296.8,893.0 C296.6,893.3 296.4,893.6 296.2,893.9 C296.0,894.2 295.8,894.5 295.5,894.7 C295.3,895.0 295.0,895.2 294.7,895.4 C294.4,895.6 294.2,895.8 293.8,895.9 C293.5,896.1 293.2,896.2 292.9,896.3 C292.5,896.4 292.2,896.4 291.8,896.4 C291.5,896.5 291.1,896.5 290.7,896.5 C290.3,896.4 290.0,896.4 289.6,896.3 C289.2,896.2 288.8,896.1 288.4,896.0 C288.0,895.9 287.6,895.7 287.2,895.5 C286.8,895.3 286.4,895.1 286.0,894.9 C285.6,894.6 285.2,894.4 284.8,894.1 C284.4,893.8 284.0,893.5 283.6,893.2 C283.2,892.8 282.8,892.5 282.4,892.1 C282.0,891.7 281.6,891.3 281.3,890.9 C280.9,890.5 280.6,890.1 280.2,889.6 C279.9,889.2 279.5,888.7 279.2,888.3 C278.9,887.8 278.6,887.3 278.3,886.8 C278.0,886.3 277.7,885.8 277.5,885.3 C277.2,884.8 277.0,884.3 276.8,883.7 C276.5,883.2 276.3,882.7 276.1,882.1 C275.9,881.6 275.7,880.8 275.6,880.5"/><path d="M292.6,877.9 C292.7,878.1 292.9,878.6 293.1,879.0 C293.3,879.4 293.4,879.7 293.6,880.1 C293.7,880.5 293.8,880.8 293.9,881.2 C294.1,881.6 294.2,882.0 294.2,882.3 C294.3,882.7 294.4,883.1 294.5,883.4 C294.5,883.8 294.5,884.2 294.6,884.5 C294.6,884.9 294.6,885.2 294.6,885.6 C294.6,885.9 294.6,886.2 294.5,886.5 C294.5,886.9 294.5,887.2 294.4,887.5 C294.3,887.8 294.3,888.1 294.2,888.4 C294.1,888.6 294.0,888.9 293.8,889.1 C293.7,889.4 293.6,889.6 293.4,889.8 C293.3,890.1 293.1,890.3 293.0,890.4 C292.8,890.6 292.6,890.8 292.4,891.0 C292.2,891.1 292.0,891.2 291.8,891.4 C291.6,891.5 291.4,891.6 291.1,891.6 C290.9,891.7 290.6,891.8 290.4,891.8 C290.1,891.9 289.9,891.9 289.6,891.9 C289.4,891.9 289.1,891.9 288.8,891.8 C288.5,891.8 288.3,891.7 288.0,891.6 C287.7,891.6 287.4,891.5 287.1,891.3 C286.9,891.2 286.6,891.1 286.3,890.9 C286.0,890.8 285.7,890.6 285.4,890.4 C285.1,890.3 284.9,890.0 284.6,889.8 C284.3,889.6 284.0,889.4 283.7,889.1 C283.5,888.9 283.2,888.6 282.9,888.3 C282.7,888.1 282.4,887.8 282.2,887.5 C281.9,887.2 281.7,886.8 281.5,886.5 C281.2,886.2 281.0,885.9 280.8,885.5 C280.6,885.2 280.4,884.8 280.2,884.5 C280.0,884.1 279.9,883.8 279.7,883.4 C279.5,883.0 279.4,882.7 279.2,882.3 C279.1,881.9 279.0,881.6 278.9,881.2 C278.7,880.8 278.6,880.4 278.6,880.1 C278.5,879.7 278.4,879.3 278.3,879.0 C278.3,878.6 278.3,878.2 278.2,877.9 C278.2,877.5 278.2,877.2 278.2,876.8 C278.2,876.5 278.2,876.2 278.3,875.9 C278.3,875.5 278.3,875.2 278.4,874.9 C278.5,874.6 278.5,874.3 278.6,874.0 C278.7,873.8 278.8,873.5 279.0,873.3 C279.1,873.0 279.2,872.8 279.4,872.6 C279.5,872.3 279.7,872.1 279.8,872.0 C280.0,871.8 280.2,871.6 280.4,871.4 C280.6,871.3 280.8,871.2 281.0,871.0 C281.2,870.9 281.4,870.8 281.7,870.8 C281.9,870.7 282.2,870.6 282.4,870.6 C282.7,870.5 282.9,870.5 283.2,870.5 C283.4,870.5 283.7,870.5 284.0,870.6 C284.3,870.6 284.5,870.7 284.8,870.8 C285.1,870.8 285.4,870.9 285.7,871.1 C285.9,871.2 286.2,871.3 286.5,871.5 C286.8,871.6 287.1,871.8 287.4,872.0 C287.7,872.1 287.9,872.4 288.2,872.6 C288.5,872.8 288.8,873.0 289.1,873.3 C289.3,873.5 289.6,873.8 289.9,874.1 C290.1,874.3 290.4,874.6 290.6,874.9 C290.9,875.2 291.1,875.6 291.3,875.9 C291.6,876.2 291.8,876.5 292.0,876.9 C292.2,877.2 292.5,877.7 292.6,877.9"/><path d="M280.6,878.5 C280.6,878.3 280.6,878.0 280.6,877.7 C280.7,877.5 280.7,877.3 280.7,877.1 C280.8,876.9 280.8,876.6 280.9,876.4 C280.9,876.2 281.0,876.0 281.1,875.9 C281.2,875.7 281.3,875.5 281.4,875.3 C281.5,875.2 281.6,875.0 281.7,874.9 C281.8,874.8 282.0,874.6 282.1,874.5 C282.2,874.4 282.4,874.3 282.5,874.2 C282.7,874.1 282.8,874.0 283.0,874.0 C283.2,873.9 283.3,873.9 283.5,873.8 C283.7,873.8 283.9,873.8 284.1,873.8 C284.2,873.8 284.4,873.8 284.6,873.8 C284.8,873.8 285.0,873.8 285.2,873.9 C285.4,873.9 285.6,874.0 285.8,874.1 C286.0,874.1 286.2,874.2 286.4,874.3 C286.6,874.4 286.8,874.5 287.0,874.7 C287.2,874.8 287.4,874.9 287.6,875.1 C287.8,875.2 288.0,875.4 288.2,875.5 C288.4,875.7 288.6,875.9 288.8,876.1 C289.0,876.3 289.2,876.5 289.3,876.7 C289.5,876.9 289.7,877.1 289.9,877.3 C290.0,877.5 290.2,877.8 290.3,878.0 C290.5,878.2 290.6,878.5 290.8,878.7 C290.9,879.0 291.0,879.2 291.1,879.5 C291.2,879.7 291.4,880.0 291.5,880.3 C291.6,880.5 291.6,880.8 291.7,881.0 C291.8,881.3 291.9,881.6 291.9,881.8 C292.0,882.1 292.0,882.4 292.1,882.6 C292.1,882.9 292.2,883.1 292.2,883.4 C292.2,883.6 292.2,883.9 292.2,884.1 C292.2,884.4 292.2,884.6 292.2,884.8 C292.1,885.0 292.1,885.3 292.0,885.5 C292.0,885.7 291.9,885.9 291.9,886.1 C291.8,886.3 291.7,886.5 291.6,886.7 C291.6,886.8 291.5,887.0 291.4,887.2 C291.3,887.3 291.1,887.5 291.0,887.6 C290.9,887.7 290.8,887.9 290.6,888.0 C290.5,888.1 290.3,888.2 290.2,888.3 C290.0,888.3 289.9,888.4 289.7,888.5 C289.5,888.5 289.3,888.6 289.2,888.6 C289.0,888.6 288.8,888.6 288.6,888.6 C288.4,888.6 288.2,888.6 288.0,888.6 C287.8,888.6 287.5,888.5 287.4,888.5"/></g>
<path d="M752.0,736.0 C753.2,732.0 759.4,735.2 762.0,735.8 C764.6,736.4 766.0,738.0 767.6,739.6 C769.2,741.2 770.8,743.2 771.8,745.2 C772.8,747.2 773.4,749.6 773.6,751.5 C773.8,753.4 774.0,754.9 773.2,756.4 C772.4,757.9 769.9,759.2 769.0,760.6 C768.1,762.0 770.3,764.9 768.0,764.8 C765.7,764.7 757.7,764.8 755.0,760.0 C752.3,755.2 750.8,740.0 752.0,736.0 Z" fill="#fff" stroke="none"/>
<path d="M756.0,736.5 C757.0,736.4 760.1,735.3 762.0,735.8 C763.9,736.3 766.0,738.0 767.6,739.6 C769.2,741.2 770.8,743.2 771.8,745.2 C772.8,747.2 773.4,749.6 773.6,751.5 C773.8,753.4 773.9,754.9 773.2,756.4 C772.5,757.9 770.4,759.1 769.5,760.5 C768.6,761.9 768.2,764.1 768.0,764.8"/>
<polyline points="761.5,736.0 763.2,739.8"/>
<polyline points="768.8,754.5 773.4,753.0"/>
<polyline points="769.5,758.0 768.6,762.0"/>
<ellipse cx="754.6" cy="752.6" rx="12.2" ry="17.9" transform="rotate(-25 754.6 752.6)" fill="#fff"/>
<ellipse cx="754.4" cy="753.6" rx="4.6" ry="7.0" transform="rotate(-30 754.4 753.6)"/>
<path d="M756.4,758.9 C756.3,758.9 756.1,758.9 756.0,758.9 C755.9,758.9 755.8,758.9 755.6,758.8 C755.5,758.8 755.4,758.7 755.2,758.7 C755.1,758.6 755.0,758.5 754.8,758.5 C754.7,758.4 754.5,758.3 754.4,758.2 C754.3,758.1 754.1,758.0 754.0,757.9 C753.9,757.8 753.7,757.7 753.6,757.6 C753.5,757.5 753.4,757.4 753.2,757.2 C753.1,757.1 753.0,757.0 752.9,756.8 C752.8,756.7 752.6,756.5 752.5,756.4 C752.4,756.2 752.3,756.1 752.2,755.9 C752.1,755.8 752.0,755.6 751.9,755.4 C751.8,755.3 751.8,755.1 751.7,754.9 C751.6,754.8 751.5,754.6 751.5,754.4 C751.4,754.2 751.3,754.1 751.3,753.9 C751.2,753.7 751.2,753.6 751.1,753.4 C751.1,753.2 751.0,753.0 751.0,752.9 C751.0,752.7 751.0,752.5 751.0,752.4 C750.9,752.2 750.9,752.1 750.9,751.9 C750.9,751.7 750.9,751.6 751.0,751.4 C751.0,751.3 751.0,751.2 751.0,751.0 C751.0,750.9 751.1,750.7 751.1,750.6 C751.2,750.5 751.2,750.4 751.3,750.3 C751.3,750.2 751.4,750.0 751.4,749.9 C751.5,749.8 751.6,749.7 751.7,749.7"/>
</g>
</svg>
</body></html>
